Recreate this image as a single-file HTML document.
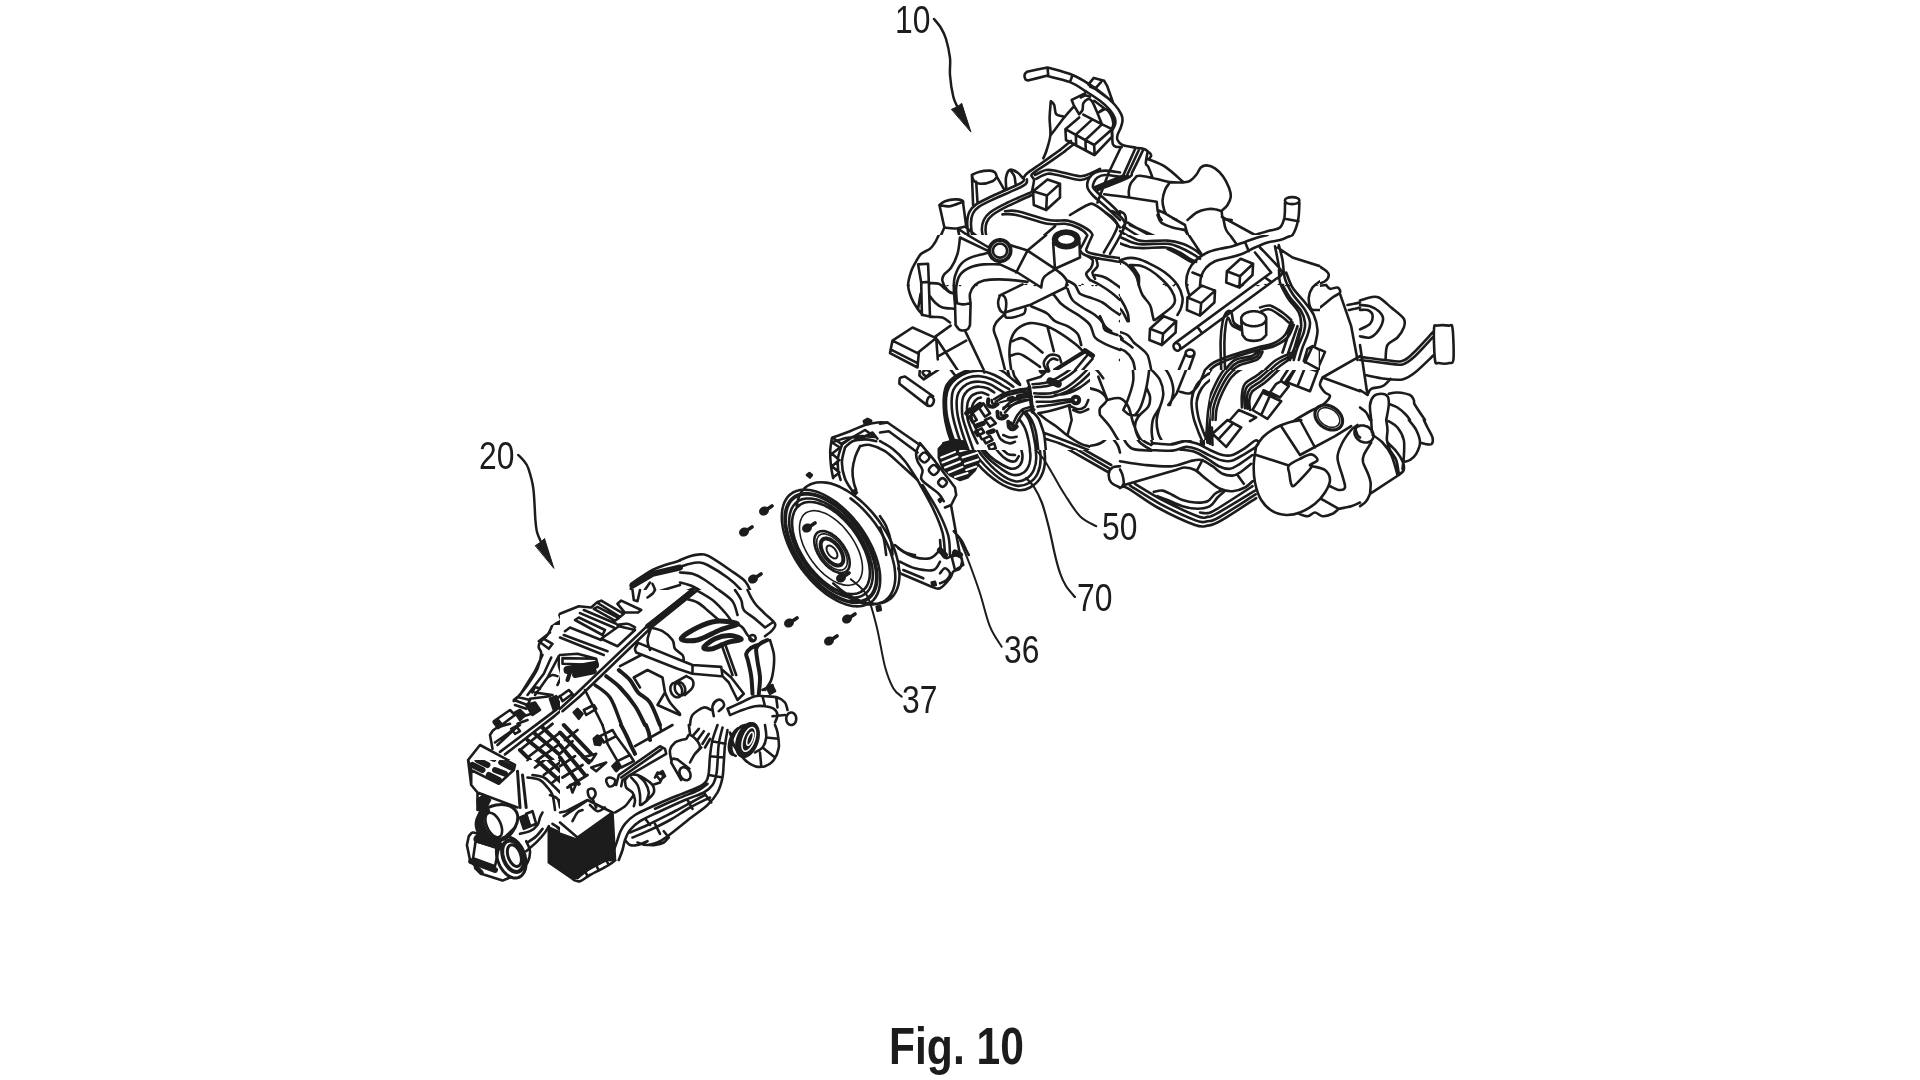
<!DOCTYPE html>
<html><head><meta charset="utf-8"><title>Fig. 10</title>
<style>
html,body{margin:0;padding:0;background:#fff;}
body{width:1920px;height:1080px;overflow:hidden;position:relative;}
svg{position:absolute;left:0;top:0;display:block}
text{font-family:"Liberation Sans",Arial,sans-serif;fill:#1c1c1c}
</style></head><body>
<svg width="1920" height="1080" viewBox="0 0 1920 1080">
<g fill="none" stroke="#1c1c1c" stroke-width="2" stroke-linecap="round" stroke-linejoin="round">
<defs><clipPath id="c3"><path clip-rule="evenodd" d="M0 0H1920V1080H0ZM880 235H1120V285H880Z"/></clipPath><clipPath id="c4"><path clip-rule="evenodd" d="M0 0H1920V1080H0ZM1120 235H1320V285H1120Z"/></clipPath><clipPath id="c5"><path clip-rule="evenodd" d="M0 0H1920V1080H0ZM1090 370H1210V440H1090ZM942 370H1090V450H942ZM880 285H1120V370H880Z"/></clipPath><clipPath id="c6"><path clip-rule="evenodd" d="M0 0H1920V1080H0ZM1090 370H1210V440H1090ZM1120 285H1320V370H1120Z"/></clipPath><clipPath id="c8"><path clip-rule="evenodd" d="M0 0H1920V1080H0ZM1090 370H1210V440H1090ZM942 370H1090V450H942Z"/></clipPath><clipPath id="c9"><path clip-rule="evenodd" d="M0 0H1920V1080H0ZM1090 370H1210V440H1090Z"/></clipPath><clipPath id="c15"><path clip-rule="evenodd" d="M0 0H1920V1080H0ZM440 625H560V760H440ZM560 590H800V725H560Z"/></clipPath><clipPath id="c16"><path clip-rule="evenodd" d="M0 0H1920V1080H0ZM560 590H800V725H560Z"/></clipPath><clipPath id="c17"><path clip-rule="evenodd" d="M0 0H1920V1080H0ZM440 625H560V760H440ZM560 725H800V860H560ZM560 590H800V725H560Z"/></clipPath><clipPath id="c18"><path clip-rule="evenodd" d="M0 0H1920V1080H0ZM560 725H800V860H560ZM560 590H800V725H560Z"/></clipPath><clipPath id="c19"><path clip-rule="evenodd" d="M0 0H1920V1080H0ZM560 725H800V860H560Z"/></clipPath><clipPath id="c20"><path clip-rule="evenodd" d="M0 0H1920V1080H0ZM560 725H800V860H560Z"/></clipPath><clipPath id="c21"><path clip-rule="evenodd" d="M880 235H1120V370H880Z"/></clipPath><clipPath id="c22"><path clip-rule="evenodd" d="M1120 235H1320V370H1120Z"/></clipPath><clipPath id="c25"><path clip-rule="evenodd" d="M440 625H560V760H440Z"/></clipPath><clipPath id="c26"><path clip-rule="evenodd" d="M942 370H1090V450H942Z"/></clipPath><clipPath id="c29"><path clip-rule="evenodd" d="M1090 370H1210V440H1090Z"/></clipPath></defs>
<g>
<path fill="none" stroke="#1c1c1c" stroke-width="2.5" d="M934.0 19.0C935.2 20.5 939.0 24.7 941.0 28.0C943.0 31.3 944.5 34.0 946.0 39.0C947.5 44.0 949.3 52.0 950.0 58.0C950.7 64.0 949.5 68.5 950.0 75.0C950.5 81.5 952.0 91.4 953.3 96.7C954.5 102.0 956.8 105.3 957.5 107.0M518.3 455.0C519.2 456.0 522.3 458.8 524.0 461.0C525.7 463.2 526.8 463.8 528.3 468.3C529.8 472.9 532.1 479.7 533.3 488.3C534.5 496.9 534.8 512.7 535.4 520.0C536.0 527.3 536.1 528.3 537.0 532.0C537.9 535.7 540.3 540.3 541.0 542.0"/>
<path fill="#1c1c1c" stroke="#1c1c1c" stroke-width="1" d="M951.7 109.2L957.5 106.7L961.7 103.3L970.8 131.7ZM535.5 545.5L541.0 542.0L544.5 538.5L553.8 568.0Z"/>
<path fill="none" stroke="#1c1c1c" stroke-width="2.2" d="M1026.0 478.0C1027.3 479.5 1031.3 482.8 1034.0 487.0C1036.7 491.2 1039.5 496.2 1042.0 503.0C1044.5 509.8 1046.8 519.3 1049.0 528.0C1051.2 536.7 1053.2 547.5 1055.0 555.0C1056.8 562.5 1058.2 567.8 1060.0 573.0C1061.8 578.2 1063.5 582.0 1066.0 586.0C1068.5 590.0 1073.5 595.2 1075.0 597.0"/>
</g>
<g>
<path fill="none" stroke="#1c1c1c" stroke-width="2.6" d="M1027.1 71.7C1030.5 71.0 1044.1 68.2 1047.5 67.5C1051.7 68.8 1065.6 72.2 1072.5 75.0C1079.4 77.8 1083.9 80.8 1089.2 84.2C1094.4 87.5 1099.9 91.5 1104.2 95.0C1108.5 98.5 1112.2 101.8 1115.0 105.0C1117.8 108.2 1120.0 111.5 1121.2 114.2C1122.5 116.8 1122.6 118.6 1122.5 120.8C1122.4 123.1 1121.7 125.1 1120.8 127.5C1120.0 129.9 1118.1 132.9 1117.5 135.0C1116.9 137.1 1116.7 138.3 1117.5 140.0C1118.3 141.7 1119.6 143.8 1122.5 145.0C1125.4 146.2 1132.9 147.1 1135.0 147.5M1027.9 80.4C1031.0 79.7 1043.5 76.6 1046.7 75.8C1050.6 76.9 1063.6 79.6 1070.0 82.1C1076.4 84.6 1080.0 87.7 1085.0 90.8C1090.0 94.0 1095.8 97.6 1100.0 100.8C1104.2 104.0 1107.6 107.2 1110.0 110.0C1112.4 112.8 1113.7 115.3 1114.6 117.5C1115.5 119.7 1115.7 121.4 1115.4 123.3C1115.1 125.3 1113.3 128.2 1112.9 129.2M1027.1 71.7C1026.7 72.2 1024.9 73.3 1024.6 74.6C1024.3 75.8 1024.9 78.2 1025.4 79.2C1026.0 80.1 1027.5 80.2 1027.9 80.4M1047.5 67.5L1048.3 75.8M1072.5 75.0L1070.0 82.1M1088.3 84.6L1093.8 77.9L1104.2 80.8L1107.1 85.8L1112.9 102.1M1101.2 81.8L1095.0 88.8L1090.0 86.5M1096.2 89.6L1112.1 101.2M1085.0 93.3C1084.3 93.7 1083.1 94.3 1080.8 95.4C1078.6 96.5 1073.2 99.2 1071.7 100.0M1071.7 100.0L1073.8 105.4L1079.2 114.2M1079.2 114.2C1079.7 113.5 1081.8 111.8 1082.5 110.0C1083.2 108.2 1082.5 105.1 1083.3 103.3C1084.2 101.5 1086.1 99.6 1087.5 99.2C1088.9 98.7 1090.3 99.2 1091.7 100.8C1093.1 102.5 1094.2 105.3 1095.8 109.2C1097.5 113.0 1100.7 121.3 1101.7 123.8M1080.8 97.5C1081.5 97.2 1083.5 95.6 1085.0 95.4C1086.5 95.3 1089.2 96.5 1090.0 96.7M1094.2 100.8L1104.2 108.3L1099.2 112.1M1100.0 111.7C1101.0 111.2 1104.0 108.6 1105.8 109.2C1107.6 109.7 1109.6 112.6 1110.8 115.0C1112.1 117.4 1113.2 121.0 1113.3 123.3C1113.5 125.7 1112.1 128.2 1111.8 129.2M1050.8 101.2C1050.6 104.1 1049.7 112.7 1049.6 118.3C1049.5 124.0 1050.9 129.7 1050.4 135.0C1049.9 140.3 1047.8 146.1 1046.7 150.0C1045.5 153.9 1043.9 156.9 1043.3 158.3M1050.8 101.2C1051.4 101.9 1053.3 102.8 1054.2 105.0C1055.1 107.2 1054.6 112.2 1056.2 114.2C1057.9 116.1 1062.8 116.2 1064.2 116.7M1074.2 106.2C1072.5 108.1 1068.1 112.7 1064.2 117.5C1060.3 122.3 1053.1 132.1 1050.8 135.0M1065.4 129.2L1079.2 117.5M1083.3 114.6L1101.7 124.2L1112.1 129.2L1094.2 145.0L1065.4 129.2L1066.0 140.0L1094.2 155.0M1092.1 119.6L1075.8 134.6L1076.2 145.0M1101.7 124.6L1085.4 140.0L1085.8 150.0M1094.2 145.0L1094.6 155.0M1112.1 129.2L1112.1 136.7L1094.6 155.0"/>
</g>
<g>
<path fill="none" stroke="#1c1c1c" stroke-width="2.6" d="M1135.0 147.9C1136.4 148.1 1141.1 148.1 1143.3 148.8C1145.6 149.4 1147.0 150.6 1148.3 151.7C1149.7 152.7 1151.0 153.9 1151.2 155.0C1151.5 156.1 1149.9 157.8 1149.6 158.3M1111.8 130.0C1111.9 131.4 1112.2 136.0 1112.3 138.3C1112.5 140.7 1112.3 142.8 1112.9 144.2C1113.5 145.6 1114.4 146.2 1115.8 146.7C1117.3 147.2 1120.7 147.0 1121.7 147.1M1120.8 147.5L1109.2 171.7M1135.4 148.3L1123.3 175.4M1139.2 149.2C1137.3 153.2 1130.3 168.8 1127.9 173.3C1125.6 177.9 1130.3 174.2 1125.0 176.7C1119.7 179.2 1100.7 186.4 1095.8 188.3M1142.9 150.4C1141.2 154.0 1134.9 167.2 1132.5 171.7C1130.1 176.2 1134.2 174.4 1128.3 177.5C1122.5 180.6 1102.6 188.1 1097.5 190.2M1123.3 175.4C1122.4 175.8 1122.4 175.9 1117.5 177.9C1112.6 179.9 1098.1 185.9 1094.2 187.5M1147.5 152.5C1147.2 154.3 1145.7 161.0 1145.8 163.3C1146.0 165.7 1147.2 164.3 1148.3 166.7C1149.4 169.0 1151.8 175.7 1152.5 177.5M1148.3 159.2C1151.1 160.4 1159.2 162.8 1165.0 166.7C1170.8 170.5 1180.3 179.5 1183.3 182.1M1136.7 176.2C1137.2 176.2 1137.4 175.6 1140.0 175.8C1142.6 176.1 1147.5 176.9 1152.5 177.9C1157.5 179.0 1164.9 181.3 1170.0 182.1C1175.1 182.8 1181.1 182.4 1183.3 182.5M1136.7 176.2C1135.7 177.4 1132.2 180.9 1130.8 183.3C1129.5 185.8 1129.0 188.5 1128.8 190.8C1128.5 193.2 1129.1 196.4 1129.2 197.5M1104.2 194.2C1108.3 194.7 1120.4 196.2 1129.2 197.5C1137.9 198.8 1152.1 201.0 1156.7 201.7M1156.7 201.7L1157.5 210.0L1159.2 216.7L1161.7 220.0M1157.5 210.0C1158.8 210.6 1162.4 211.9 1165.0 213.3C1167.6 214.7 1171.4 217.2 1173.3 218.3C1175.3 219.4 1176.1 219.7 1176.7 220.0M1170.0 182.1C1169.2 183.4 1166.2 186.9 1165.0 190.0C1163.8 193.1 1162.6 197.5 1162.5 200.8C1162.4 204.2 1163.6 207.9 1164.2 210.0C1164.7 212.1 1165.6 212.8 1165.8 213.3M1183.3 182.5C1184.4 182.2 1187.8 182.2 1190.0 180.8C1192.2 179.4 1194.9 176.4 1196.7 174.2C1198.5 171.9 1199.2 169.0 1200.8 167.5C1202.5 166.0 1204.3 165.3 1206.7 165.4C1209.0 165.6 1212.2 166.5 1215.0 168.3C1217.8 170.2 1221.0 173.3 1223.3 176.7C1225.7 180.0 1227.9 185.0 1229.2 188.3C1230.4 191.7 1231.1 193.9 1230.8 196.7C1230.6 199.4 1229.0 202.6 1227.5 205.0C1226.0 207.4 1222.6 209.9 1221.7 210.8M1187.5 220.0C1189.0 218.8 1193.5 214.3 1196.7 212.5C1199.9 210.7 1203.6 209.7 1206.7 209.2C1209.7 208.6 1212.5 208.8 1215.0 209.2C1217.5 209.5 1220.6 210.9 1221.7 211.2M1221.7 211.2C1221.9 212.4 1221.7 216.9 1223.3 218.3C1225.0 219.8 1230.3 219.7 1231.7 220.0"/>
</g>
<g clip-path="url(#c3)">
<path fill="none" stroke="#1c1c1c" stroke-width="2.6" d="M1060.0 150.0C1057.1 152.1 1047.9 158.6 1042.5 162.5C1037.1 166.4 1030.6 170.6 1027.5 173.1C1024.4 175.6 1024.8 175.9 1023.8 177.5C1022.7 179.1 1026.5 179.7 1021.2 182.8C1016.0 185.8 1000.0 192.4 992.5 196.0C985.0 199.6 980.1 201.7 976.2 204.4C972.4 207.0 970.9 208.9 969.4 211.9C967.9 214.9 967.4 218.5 967.2 222.5C967.1 226.5 968.3 233.4 968.5 235.6M1065.0 151.2C1061.9 153.4 1051.8 160.5 1046.2 164.4C1040.7 168.2 1033.9 171.8 1031.9 174.4C1029.8 177.0 1034.0 177.1 1034.0 180.0C1034.0 182.9 1032.2 189.9 1031.9 191.9M1026.9 179.4C1026.3 180.4 1029.0 182.4 1023.5 185.6C1018.0 188.9 1001.5 195.5 994.0 199.0C986.5 202.5 982.3 204.4 978.8 206.9C975.2 209.3 974.0 211.0 972.8 213.8C971.5 216.5 971.1 219.4 971.0 223.1C970.9 226.9 972.0 234.1 972.2 236.2M1031.9 191.9C1027.4 193.9 1012.0 200.3 1005.0 203.8C998.0 207.2 993.5 209.8 990.0 212.5C986.5 215.2 985.1 217.1 983.8 220.0C982.4 222.9 981.8 226.1 981.9 230.0C982.0 233.9 984.0 240.9 984.4 243.1M1031.9 195.0C1027.6 197.0 1012.8 203.5 1006.2 206.9C999.7 210.2 995.7 212.5 992.5 215.0C989.3 217.5 988.0 219.2 986.9 221.9C985.7 224.6 985.4 227.7 985.6 231.2C985.8 234.8 987.7 241.1 988.1 243.1M971.9 175.0C973.0 174.5 975.7 172.6 978.8 171.9C981.8 171.1 987.3 170.5 990.0 170.6C992.7 170.7 993.9 171.5 995.0 172.5C996.1 173.5 996.6 176.1 996.9 176.9M971.9 175.0C972.2 175.9 972.4 179.2 973.8 180.6C975.1 182.1 976.9 183.6 980.0 183.8C983.1 183.9 989.7 182.4 992.5 181.2C995.3 180.1 996.1 177.6 996.9 176.9M971.9 175.0L973.1 205.0M976.2 181.9L977.5 202.5M996.9 176.9L1003.8 188.8M1006.2 188.1C1006.2 186.4 1005.4 180.6 1006.0 177.5C1006.6 174.4 1008.1 170.6 1010.0 169.8C1011.9 168.9 1015.4 171.2 1017.5 172.5C1019.6 173.8 1021.7 176.9 1022.5 177.8M1010.6 170.6C1011.2 171.6 1013.5 174.0 1014.4 176.2C1015.2 178.5 1015.4 183.0 1015.6 184.4M939.4 205.0C940.3 204.4 942.4 202.2 945.0 201.2C947.6 200.3 952.1 199.5 955.0 199.4C957.9 199.3 961.1 199.9 962.5 200.6C963.9 201.4 963.0 203.2 963.1 203.8M941.2 205.6C942.7 205.7 946.7 206.8 950.0 206.2C953.3 205.7 959.4 203.1 961.2 202.5M939.4 205.0L944.4 227.5M963.1 203.1L966.2 226.2M944.4 227.5C946.1 227.7 951.4 228.7 955.0 228.5C958.6 228.3 964.4 226.6 966.2 226.2M944.4 227.5C942.8 230.6 938.6 241.9 935.0 246.2C931.4 250.6 926.0 250.6 922.5 253.8C919.0 256.9 916.0 259.8 913.8 265.0C911.5 270.2 909.6 281.7 908.8 285.0M958.1 230.0C958.4 232.5 960.9 239.6 960.0 245.0C959.1 250.4 955.0 257.5 952.5 262.5C950.0 267.5 945.8 271.2 945.0 275.0C944.2 278.8 947.1 283.3 947.5 285.0M960.0 230.0L988.8 250.0M966.2 227.5L987.5 245.0M1000.0 240.0C1002.7 240.0 1006.1 241.4 1008.0 243.2C1009.9 245.1 1011.2 248.6 1011.2 251.2C1011.2 253.9 1009.9 257.4 1008.0 259.2C1006.1 261.1 1002.7 262.5 1000.0 262.5C997.3 262.5 993.9 261.1 992.0 259.2C990.1 257.4 988.8 253.9 988.8 251.2C988.8 248.6 990.1 245.1 992.0 243.2C993.9 241.4 997.3 240.0 1000.0 240.0ZM1000.0 241.2C1002.4 241.2 1005.5 242.5 1007.1 244.1C1008.8 245.8 1010.0 248.9 1010.0 251.2C1010.0 253.6 1008.8 256.7 1007.1 258.4C1005.5 260.0 1002.4 261.2 1000.0 261.2C997.6 261.2 994.5 260.0 992.9 258.4C991.2 256.7 990.0 253.6 990.0 251.2C990.0 248.9 991.2 245.8 992.9 244.1C994.5 242.5 997.6 241.2 1000.0 241.2ZM1000.0 244.0C1001.7 244.0 1003.9 244.9 1005.1 246.1C1006.3 247.3 1007.2 249.5 1007.2 251.2C1007.2 253.0 1006.3 255.2 1005.1 256.4C1003.9 257.6 1001.7 258.5 1000.0 258.5C998.3 258.5 996.1 257.6 994.9 256.4C993.7 255.2 992.8 253.0 992.8 251.2C992.8 249.5 993.7 247.3 994.9 246.1C996.1 244.9 998.3 244.0 1000.0 244.0ZM1066.2 230.6C1069.4 230.6 1073.4 231.7 1075.6 233.1C1077.8 234.6 1079.4 237.3 1079.4 239.4C1079.4 241.5 1077.8 244.2 1075.6 245.6C1073.4 247.1 1069.4 248.1 1066.2 248.1C1063.1 248.1 1059.1 247.1 1056.9 245.6C1054.7 244.2 1053.1 241.5 1053.1 239.4C1053.1 237.3 1054.7 234.6 1056.9 233.1C1059.1 231.7 1063.1 230.6 1066.2 230.6ZM1066.2 231.9C1069.0 231.9 1072.4 232.8 1074.4 234.0C1076.3 235.2 1077.9 237.6 1077.9 239.4C1077.9 241.2 1076.3 243.5 1074.4 244.8C1072.4 246.0 1069.0 246.9 1066.2 246.9C1063.5 246.9 1060.1 246.0 1058.1 244.8C1056.2 243.5 1054.6 241.2 1054.6 239.4C1054.6 237.6 1056.2 235.2 1058.1 234.0C1060.1 232.8 1063.5 231.9 1066.2 231.9ZM1066.2 234.0C1068.3 234.0 1071.0 234.7 1072.5 235.6C1074.0 236.5 1075.4 238.1 1075.4 239.4C1075.4 240.7 1074.0 242.6 1072.5 243.5C1071.0 244.4 1068.3 245.0 1066.2 245.0C1064.2 245.0 1061.5 244.4 1060.0 243.5C1058.5 242.6 1057.1 240.7 1057.1 239.4C1057.1 238.1 1058.5 236.5 1060.0 235.6C1061.5 234.7 1064.2 234.0 1066.2 234.0ZM1053.1 242.5L1055.0 260.0M1079.4 241.2L1080.0 253.8M1033.1 191.2L1047.5 179.4L1060.0 183.8L1046.9 195.6ZM1033.1 191.2L1033.8 205.0L1046.2 210.0L1046.9 195.6M1060.0 183.8L1060.0 197.5L1046.2 210.0M1005.0 211.2C1007.1 211.2 1010.2 209.8 1017.5 211.2C1024.8 212.7 1040.4 218.4 1048.8 220.0C1057.1 221.6 1062.3 219.8 1067.5 220.6C1072.7 221.5 1076.0 223.0 1080.0 225.0C1084.0 227.0 1089.2 230.0 1091.2 232.5C1093.3 235.0 1093.3 237.3 1092.5 240.0C1091.7 242.7 1087.5 246.7 1086.2 248.8C1085.0 250.8 1084.0 251.2 1085.0 252.5C1086.0 253.8 1086.7 254.9 1092.5 256.2C1098.3 257.6 1115.4 259.9 1120.0 260.6M1002.5 214.4C1004.8 214.5 1008.8 213.4 1016.2 215.0C1023.8 216.6 1039.4 222.3 1047.5 223.8C1055.6 225.2 1060.0 223.1 1065.0 223.8C1070.0 224.4 1074.0 225.8 1077.5 227.5C1081.0 229.2 1084.6 231.7 1086.2 233.8C1087.9 235.8 1088.3 237.5 1087.5 240.0C1086.7 242.5 1082.3 246.5 1081.2 248.8C1080.2 251.0 1079.8 252.1 1081.2 253.8C1082.7 255.4 1083.5 257.1 1090.0 258.8C1096.5 260.4 1115.0 262.9 1120.0 263.8M1070.0 215.0C1072.9 213.3 1083.3 206.7 1087.5 205.0C1091.7 203.3 1091.0 202.9 1095.0 205.0C1099.0 207.1 1107.1 213.8 1111.2 217.5C1115.4 221.2 1118.5 225.8 1120.0 227.5M1097.5 202.5L1108.8 172.5M1120.0 172.5C1117.5 172.2 1109.2 170.6 1105.0 170.6C1100.8 170.6 1097.7 171.1 1095.0 172.5C1092.3 173.9 1090.0 176.2 1088.8 178.8C1087.5 181.2 1086.9 184.8 1087.5 187.5C1088.1 190.2 1089.6 191.9 1092.5 195.0C1095.4 198.1 1100.4 202.1 1105.0 206.2C1109.6 210.4 1117.5 217.7 1120.0 220.0M1120.0 176.9C1117.5 176.6 1108.8 174.9 1105.0 175.0C1101.2 175.1 1099.4 176.2 1097.5 177.5C1095.6 178.8 1094.5 180.8 1093.8 182.5C1093.0 184.2 1092.5 185.8 1093.1 187.5C1093.8 189.2 1094.7 189.8 1097.5 192.5C1100.3 195.2 1106.2 200.2 1110.0 203.8C1113.8 207.3 1118.3 212.1 1120.0 213.8M1035.0 175.0C1036.9 174.2 1042.5 170.6 1046.2 170.0C1050.0 169.4 1051.9 170.2 1057.5 171.2C1063.1 172.3 1074.2 176.0 1080.0 176.2C1085.8 176.5 1089.2 173.8 1092.5 172.5C1095.8 171.2 1098.8 169.4 1100.0 168.8M1036.2 178.8C1038.1 177.9 1044.0 174.4 1047.5 173.8C1051.0 173.1 1052.1 174.0 1057.5 175.0C1062.9 176.0 1074.6 179.7 1080.0 180.0C1085.4 180.3 1088.3 177.4 1090.0 176.9M953.8 285.0C954.4 282.5 954.8 274.2 957.5 270.0C960.2 265.8 965.0 262.7 970.0 260.0C975.0 257.3 984.6 254.8 987.5 253.8M960.0 285.0C961.2 282.9 964.2 275.8 967.5 272.5C970.8 269.2 974.8 266.6 980.0 265.0C985.2 263.4 995.6 263.4 998.8 263.1M976.2 285.0C977.5 284.3 979.0 281.5 983.8 280.6C988.5 279.8 997.7 279.7 1005.0 280.0C1012.3 280.3 1023.8 282.1 1027.5 282.5M998.8 263.1C1001.9 264.6 1011.5 268.2 1017.5 271.9C1023.5 275.5 1032.1 282.8 1035.0 285.0M1007.5 242.5L1027.5 250.0L1055.0 270.0L1080.0 285.0M1027.5 249.4L1055.0 226.2M1027.5 250.0L1017.5 271.9M1055.0 270.0L1080.0 256.2M1055.0 270.0C1052.9 271.2 1044.8 275.0 1042.5 277.5C1040.2 280.0 1041.5 283.8 1041.2 285.0M1055.0 270.0C1056.7 270.8 1062.9 272.5 1065.0 275.0C1067.1 277.5 1067.1 283.3 1067.5 285.0M1092.5 260.0C1091.7 261.7 1087.9 266.7 1087.5 270.0C1087.1 273.3 1089.2 277.5 1090.0 280.0C1090.8 282.5 1092.1 284.2 1092.5 285.0M1096.2 261.2C1095.6 262.7 1092.9 267.1 1092.5 270.0C1092.1 272.9 1093.4 276.2 1094.0 278.8C1094.6 281.2 1095.9 284.0 1096.2 285.0M918.8 265.0L928.8 263.8L930.0 281.2L921.2 282.5ZM917.5 265.6L920.0 283.1M916.2 265.0C915.2 266.7 911.4 271.7 910.0 275.0C908.6 278.3 908.4 283.3 908.1 285.0"/>
</g>
<g clip-path="url(#c4)">
<path fill="none" stroke="#1c1c1c" stroke-width="2.6" d="M1223.4 218.4C1223.9 220.3 1224.1 225.9 1226.2 230.0C1228.4 234.1 1234.6 240.9 1236.2 243.1M1221.9 216.9L1255.0 235.0M1185.0 225.0C1185.5 226.7 1186.5 231.7 1188.1 235.0C1189.8 238.3 1192.8 241.9 1195.0 245.0C1197.2 248.1 1200.2 252.3 1201.2 253.8M1285.0 202.5C1284.9 205.0 1285.2 213.3 1284.4 217.5C1283.5 221.7 1282.4 225.3 1280.0 227.5C1277.6 229.7 1274.2 229.4 1270.0 230.6C1265.8 231.9 1259.2 233.1 1255.0 235.0C1250.8 236.9 1249.2 240.0 1245.0 241.9C1240.8 243.8 1235.0 245.1 1230.0 246.2C1225.0 247.4 1219.8 247.5 1215.0 248.8C1210.2 250.0 1204.8 251.7 1201.2 253.8C1197.7 255.8 1195.8 258.1 1193.8 261.2C1191.7 264.4 1189.8 268.5 1188.8 272.5C1187.7 276.5 1187.7 282.9 1187.5 285.0M1299.4 202.5C1299.2 205.4 1299.3 214.6 1298.1 220.0C1297.0 225.4 1295.1 231.5 1292.5 235.0C1289.9 238.5 1286.2 239.8 1282.5 241.2C1278.8 242.7 1275.2 242.3 1270.0 243.8C1264.8 245.2 1257.5 247.9 1251.2 250.0C1245.0 252.1 1238.1 254.8 1232.5 256.2C1226.9 257.7 1221.7 257.3 1217.5 258.8C1213.3 260.2 1210.2 262.3 1207.5 265.0C1204.8 267.7 1202.5 271.7 1201.2 275.0C1200.0 278.3 1200.2 283.3 1200.0 285.0M1245.0 241.9L1250.0 251.2M1192.5 270.0L1201.2 273.1M1292.1 197.1C1293.9 197.1 1296.3 197.5 1297.5 198.1C1298.7 198.7 1299.4 199.8 1299.4 200.6C1299.4 201.5 1298.7 202.5 1297.5 203.1C1296.3 203.7 1293.9 204.1 1292.1 204.1C1290.3 204.1 1288.0 203.7 1286.8 203.1C1285.5 202.5 1284.9 201.5 1284.9 200.6C1284.9 199.8 1285.5 198.7 1286.8 198.1C1288.0 197.5 1290.3 197.1 1292.1 197.1ZM1284.8 218.8L1298.5 221.2M1173.4 218.4L1185.0 225.0M1157.5 215.0C1158.1 216.2 1158.8 220.4 1161.2 222.5C1163.8 224.6 1168.5 226.2 1172.5 227.5C1176.5 228.8 1182.9 229.6 1185.0 230.0M1185.0 230.0L1197.5 251.2M1127.5 222.5C1132.1 225.0 1147.3 234.8 1155.0 237.5C1162.7 240.2 1168.3 237.9 1173.8 238.8C1179.2 239.6 1183.8 241.0 1187.5 242.5C1191.2 244.0 1194.8 246.7 1196.2 247.5M1125.0 227.5C1128.3 229.4 1137.1 236.4 1145.0 238.8C1152.9 241.1 1165.6 240.6 1172.5 241.9C1179.4 243.1 1182.1 244.3 1186.2 246.2C1190.4 248.2 1195.6 252.5 1197.5 253.8M1120.0 231.2C1123.8 233.2 1134.2 240.8 1142.5 243.1C1150.8 245.4 1162.9 243.9 1170.0 245.0C1177.1 246.1 1180.6 247.9 1185.0 250.0C1189.4 252.1 1194.4 256.2 1196.2 257.5M1120.0 237.5C1123.5 239.2 1133.1 245.6 1141.2 247.5C1149.4 249.4 1161.9 247.7 1168.8 248.8C1175.6 249.8 1178.3 251.9 1182.5 253.8C1186.7 255.6 1191.9 259.0 1193.8 260.0M1167.5 250.0L1192.5 262.5M1130.0 225.0L1155.0 236.2M1120.0 211.2C1120.8 211.9 1124.1 213.1 1125.0 215.0C1125.9 216.9 1126.0 220.4 1125.6 222.5C1125.2 224.6 1123.0 226.7 1122.5 227.5M1120.0 260.0C1122.1 259.7 1128.3 257.9 1132.5 258.1C1136.7 258.3 1140.4 259.3 1145.0 261.2C1149.6 263.2 1155.2 266.0 1160.0 270.0C1164.8 274.0 1171.5 282.5 1173.8 285.0M1127.5 262.5C1130.4 263.1 1140.0 264.2 1145.0 266.2C1150.0 268.3 1154.0 271.9 1157.5 275.0C1161.0 278.1 1164.8 283.3 1166.2 285.0M1132.5 267.5C1133.3 269.6 1136.5 277.1 1137.5 280.0C1138.5 282.9 1138.5 284.2 1138.8 285.0M1226.2 270.0L1240.0 260.0L1253.1 264.4L1240.0 275.0ZM1226.2 270.0L1227.5 282.5L1238.8 286.2M1240.0 275.0L1240.0 285.0M1253.1 264.4L1253.8 275.0L1242.5 285.0M1250.0 251.2L1271.9 270.6L1265.0 281.2L1257.5 285.0M1257.5 248.8L1277.5 266.2L1281.2 275.0M1271.9 245.0L1282.5 275.0L1286.2 285.0M1276.2 247.5L1288.8 285.0M1276.2 247.5C1279.4 249.0 1288.8 253.5 1295.0 256.2C1301.2 259.0 1308.8 261.5 1313.8 263.8C1318.8 266.0 1322.5 268.1 1325.0 270.0C1327.5 271.9 1328.8 273.1 1328.8 275.0C1328.8 276.9 1327.3 279.6 1325.0 281.2C1322.7 282.9 1316.7 284.4 1315.0 285.0"/>
</g>
<g clip-path="url(#c5)">
<path fill="none" stroke="#1c1c1c" stroke-width="2.6" d="M908.1 285.0C908.3 286.7 908.0 291.2 909.4 295.0C910.7 298.8 913.4 304.0 916.2 307.5C919.1 311.0 922.9 314.6 926.2 316.2C929.6 317.9 933.1 317.2 936.2 317.5C939.4 317.8 941.9 317.2 945.0 318.1C948.1 319.1 953.3 322.3 955.0 323.1M921.2 285.0L923.1 314.4M929.4 285.0L930.6 315.6M931.2 292.5C931.9 294.4 932.7 301.0 935.0 303.8C937.3 306.5 941.7 307.7 945.0 308.8C948.3 309.8 953.3 309.8 955.0 310.0M942.5 285.0C943.5 285.6 947.1 287.5 948.8 288.8C950.4 290.0 951.5 291.0 952.5 292.5C953.5 294.0 954.6 296.7 955.0 297.5M955.0 297.5L955.0 323.8M970.0 303.8L970.0 323.8M955.0 303.8C956.2 303.4 960.0 301.9 962.5 301.9C965.0 301.9 968.8 303.4 970.0 303.8M955.0 323.8C955.8 324.6 957.9 327.9 960.0 328.8C962.1 329.6 965.8 329.6 967.5 328.8C969.2 327.9 969.6 324.6 970.0 323.8M976.2 285.0C975.4 286.2 972.3 289.4 971.2 292.5C970.2 295.6 970.2 301.9 970.0 303.8M892.5 340.0L912.5 326.9L936.2 337.5L917.5 352.5ZM892.5 340.0L890.0 353.1L917.5 366.9L918.8 352.5M936.2 337.5L937.8 358.8M890.6 348.8L917.5 362.5M917.5 366.9L921.2 362.5L937.8 350.0M920.0 367.5L928.1 361.9L938.1 370.0L923.8 379.4L919.4 375.6ZM922.5 372.5C922.5 371.5 925.0 370.0 926.2 370.0C927.5 370.0 930.0 371.5 930.0 372.5C930.0 373.5 927.5 376.2 926.2 376.2C925.0 376.2 922.5 373.5 922.5 372.5ZM905.0 376.5L933.1 396.2M899.4 383.8L927.5 405.6M905.0 376.5C904.2 376.8 900.9 376.9 900.0 378.1C899.1 379.3 899.5 382.8 899.4 383.8M930.6 396.2C931.6 396.5 933.4 398.0 933.8 399.4C934.1 400.7 933.3 403.3 932.5 404.4C931.7 405.5 929.7 406.3 928.8 406.0C927.8 405.7 927.0 403.8 926.9 402.5C926.8 401.2 927.5 399.2 928.1 398.1C928.8 397.1 929.7 396.0 930.6 396.2ZM935.0 336.2L950.6 325.0M939.4 355.0L966.2 340.0M937.5 340.0L957.5 376.2M965.0 330.0L983.8 371.2M957.5 376.2C959.2 375.4 963.1 372.1 967.5 371.2C971.9 370.4 978.5 370.6 983.8 371.2C989.0 371.9 994.0 373.3 998.8 375.0C1003.5 376.7 1010.2 380.2 1012.5 381.2M998.8 295.6L1026.2 285.0M1005.0 311.9L1031.2 303.8L1067.5 289.4M1000.6 295.0C1001.8 294.4 1004.2 297.1 1005.0 298.8C1005.8 300.4 1005.8 302.8 1005.6 305.0C1005.4 307.2 1004.7 311.1 1003.8 311.9C1002.8 312.6 1000.9 310.9 1000.0 309.4C999.1 307.8 998.0 304.9 998.1 302.5C998.2 300.1 999.5 295.6 1000.6 295.0ZM1005.0 311.9C1005.2 312.8 1004.6 316.8 1006.2 317.5C1007.9 318.2 1012.1 317.1 1015.0 316.2C1017.9 315.4 1021.9 314.0 1023.8 312.5C1025.6 311.0 1025.8 308.3 1026.2 307.5M1005.0 313.8C1003.8 315.0 999.2 318.8 997.5 321.2C995.8 323.8 994.8 325.8 995.0 328.8C995.2 331.7 997.5 334.6 998.8 338.8C1000.0 342.9 1001.2 348.5 1002.5 353.8C1003.8 359.0 1005.6 367.3 1006.2 370.0M1031.2 305.6C1032.7 306.4 1037.1 308.6 1040.0 310.0C1042.9 311.4 1046.2 311.9 1048.8 313.8C1051.2 315.6 1051.9 319.2 1055.0 321.2C1058.1 323.3 1063.8 324.4 1067.5 326.2C1071.2 328.1 1075.0 329.4 1077.5 332.5C1080.0 335.6 1081.2 342.1 1082.5 345.0C1083.8 347.9 1084.6 349.2 1085.0 350.0M1052.5 292.5C1054.0 294.0 1058.3 298.5 1061.2 301.2C1064.2 304.0 1066.9 306.5 1070.0 308.8C1073.1 311.0 1076.7 312.3 1080.0 315.0C1083.3 317.7 1087.5 321.2 1090.0 325.0C1092.5 328.8 1092.5 334.4 1095.0 337.5C1097.5 340.6 1100.8 341.7 1105.0 343.8C1109.2 345.8 1117.5 349.0 1120.0 350.0M1067.5 285.0C1068.8 287.1 1071.9 294.0 1075.0 297.5C1078.1 301.0 1082.1 302.9 1086.2 306.2C1090.4 309.6 1096.9 314.2 1100.0 317.5C1103.1 320.8 1102.1 323.8 1105.0 326.2C1107.9 328.8 1115.4 331.5 1117.5 332.5M1082.5 285.0C1083.8 286.2 1086.7 290.4 1090.0 292.5C1093.3 294.6 1099.0 295.2 1102.5 297.5C1106.0 299.8 1108.3 303.5 1111.2 306.2C1114.2 309.0 1118.5 312.5 1120.0 313.8M1011.2 372.5C1010.8 369.4 1008.8 359.6 1008.8 353.8C1008.8 347.9 1009.8 341.9 1011.2 337.5C1012.7 333.1 1014.4 330.0 1017.5 327.5C1020.6 325.0 1025.4 322.9 1030.0 322.5C1034.6 322.1 1040.0 323.3 1045.0 325.0C1050.0 326.7 1055.0 329.4 1060.0 332.5C1065.0 335.6 1071.2 340.8 1075.0 343.8C1078.8 346.7 1081.2 349.0 1082.5 350.0M1012.5 340.0C1014.0 339.6 1018.3 337.1 1021.2 337.5C1024.2 337.9 1026.5 340.0 1030.0 342.5C1033.5 345.0 1040.4 350.8 1042.5 352.5M1011.2 355.0C1012.5 354.7 1016.0 352.7 1018.8 353.1C1021.5 353.5 1024.0 355.3 1027.5 357.5C1031.0 359.7 1037.9 364.8 1040.0 366.2M1047.5 326.2L1053.8 351.2M1011.2 372.5L1016.2 382.5M947.5 420.0C947.3 416.2 945.0 404.4 946.2 397.5C947.5 390.6 951.0 383.1 955.0 378.8C959.0 374.4 964.8 372.3 970.0 371.2C975.2 370.2 980.4 371.0 986.2 372.5C992.1 374.0 1000.2 377.9 1005.0 380.0C1009.8 382.1 1013.3 384.2 1015.0 385.0M951.9 420.0C951.8 416.7 949.9 406.0 951.2 400.0C952.6 394.0 956.5 387.5 960.0 383.8C963.5 380.0 967.9 378.3 972.5 377.5C977.1 376.7 982.9 377.5 987.5 378.8C992.1 380.0 997.9 384.0 1000.0 385.0M956.2 420.0C956.2 417.1 955.0 407.7 956.2 402.5C957.5 397.3 960.6 391.9 963.8 388.8C966.9 385.6 971.0 384.4 975.0 383.8C979.0 383.1 984.2 384.0 987.5 385.0C990.8 386.0 993.8 389.2 995.0 390.0M961.2 420.0C961.2 417.3 960.2 408.1 961.2 403.8C962.3 399.4 964.8 396.0 967.5 393.8C970.2 391.5 974.4 390.4 977.5 390.0C980.6 389.6 984.8 391.0 986.2 391.2M966.2 420.0C966.5 417.5 966.5 408.8 967.5 405.0C968.5 401.2 970.4 399.2 972.5 397.5C974.6 395.8 978.8 395.4 980.0 395.0M1108.8 420.0C1109.2 416.7 1109.4 405.0 1111.2 400.0C1113.1 395.0 1118.5 391.7 1120.0 390.0M1102.5 382.5L1108.8 397.5M1086.2 391.2C1087.3 392.3 1091.9 395.2 1092.5 397.5C1093.1 399.8 1092.1 403.3 1090.0 405.0C1087.9 406.7 1081.7 407.1 1080.0 407.5M1090.0 405.0L1100.0 413.8M1070.0 410.0L1072.5 420.0M995.0 397.5C996.7 396.7 1001.2 393.8 1005.0 392.5C1008.8 391.2 1013.3 390.8 1017.5 390.0C1021.7 389.2 1027.9 387.9 1030.0 387.5M1000.0 402.5C1001.9 401.7 1007.3 398.8 1011.2 397.5C1015.2 396.2 1020.2 395.6 1023.8 395.0C1027.3 394.4 1031.0 394.0 1032.5 393.8M1005.0 408.8C1006.7 407.9 1011.2 405.2 1015.0 403.8C1018.8 402.3 1024.4 400.8 1027.5 400.0C1030.6 399.2 1032.7 399.0 1033.8 398.8M1017.5 420.0C1018.1 418.3 1019.2 412.5 1021.2 410.0C1023.3 407.5 1027.3 406.0 1030.0 405.0C1032.7 404.0 1036.2 404.0 1037.5 403.8M1032.5 386.2C1036.2 386.7 1048.1 389.2 1055.0 388.8C1061.9 388.3 1068.5 386.5 1073.8 383.8C1079.0 381.0 1084.2 374.4 1086.2 372.5M1032.5 391.2C1036.2 391.7 1047.9 394.0 1055.0 393.8C1062.1 393.5 1068.8 392.7 1075.0 390.0C1081.2 387.3 1089.6 379.6 1092.5 377.5M1033.8 397.5C1037.3 397.5 1048.5 397.7 1055.0 397.5C1061.5 397.3 1068.3 396.9 1072.5 396.2C1076.7 395.6 1078.8 394.2 1080.0 393.8M1035.0 403.8C1038.3 403.5 1048.5 403.3 1055.0 402.5C1061.5 401.7 1070.6 399.4 1073.8 398.8M1030.0 382.5L1031.2 405.0M1035.0 382.5L1036.2 405.0M1086.2 351.2C1083.1 353.1 1073.8 358.5 1067.5 362.5C1061.2 366.5 1055.0 371.7 1048.8 375.0C1042.5 378.3 1033.1 381.2 1030.0 382.5M1090.0 355.0C1087.5 357.9 1080.8 367.7 1075.0 372.5C1069.2 377.3 1062.1 381.5 1055.0 383.8C1047.9 386.0 1036.2 385.8 1032.5 386.2M1092.5 360.0C1090.4 362.5 1085.2 370.6 1080.0 375.0C1074.8 379.4 1067.5 384.0 1061.2 386.2C1055.0 388.5 1045.6 388.3 1042.5 388.8M1097.5 362.5C1095.6 365.4 1091.2 375.4 1086.2 380.0C1081.2 384.6 1073.8 387.9 1067.5 390.0C1061.2 392.1 1051.9 392.1 1048.8 392.5M1046.2 372.5C1045.8 370.8 1043.1 365.4 1043.8 362.5C1044.4 359.6 1047.5 356.0 1050.0 355.0C1052.5 354.0 1056.9 355.0 1058.8 356.2C1060.6 357.5 1060.8 361.5 1061.2 362.5M1048.8 372.5C1048.5 371.0 1046.9 366.0 1047.5 363.8C1048.1 361.5 1050.8 359.4 1052.5 358.8C1054.2 358.1 1056.7 359.8 1057.5 360.0"/>
<path fill="none" stroke="#1c1c1c" stroke-width="4" d="M1027.5 381.2L1085.0 350.0"/>
<path fill="none" stroke="#1c1c1c" stroke-width="5" d="M1085.0 350.0L1092.5 355.0M1100.0 362.5C1101.2 363.1 1106.2 364.2 1107.5 366.2C1108.8 368.3 1108.8 373.5 1107.5 375.0C1106.2 376.5 1101.2 375.0 1100.0 375.0M970.0 405.0C971.2 405.8 975.4 407.5 977.5 410.0C979.6 412.5 981.7 418.3 982.5 420.0M990.0 397.5C990.4 398.5 990.8 402.5 992.5 403.8C994.2 405.0 998.8 404.8 1000.0 405.0"/>
<path fill="none" stroke="#1c1c1c" stroke-width="6" d="M1052.5 381.2C1053.3 381.7 1056.5 383.1 1057.5 383.8C1058.5 384.4 1058.5 384.8 1058.8 385.0M975.0 397.5C976.2 397.9 979.6 398.8 982.5 400.0C985.4 401.2 989.6 402.5 992.5 405.0C995.4 407.5 998.8 413.3 1000.0 415.0"/>
</g>
<g clip-path="url(#c6)">
<path fill="none" stroke="#1c1c1c" stroke-width="2.6" d="M1188.1 298.8L1202.5 287.5L1215.6 291.9L1201.2 303.8ZM1188.1 298.8L1187.5 311.2L1200.0 316.2L1201.2 303.8M1215.6 291.9L1215.0 302.5L1200.0 316.2M1150.0 327.5L1163.8 315.0L1176.2 320.0L1163.1 333.1ZM1150.0 327.5L1149.4 338.8L1162.5 344.4L1163.1 333.1M1176.2 320.0L1175.6 330.6L1162.5 344.4M1175.6 343.5L1265.6 285.0M1181.2 349.4L1275.0 286.9M1177.2 343.1C1178.2 343.0 1179.5 344.2 1180.0 345.0C1180.5 345.8 1180.7 347.2 1180.4 348.1C1180.1 349.1 1179.0 350.4 1178.1 350.6C1177.2 350.8 1175.7 350.2 1175.0 349.4C1174.3 348.5 1173.8 346.7 1174.1 345.6C1174.5 344.6 1176.3 343.2 1177.2 343.1ZM1196.9 329.4L1201.2 334.4M1190.6 349.6C1192.0 349.6 1194.1 350.4 1194.8 351.2C1195.4 352.1 1195.4 354.1 1194.8 355.0C1194.1 355.9 1192.0 356.6 1190.6 356.6C1189.2 356.6 1187.2 355.9 1186.5 355.0C1185.8 354.1 1185.8 352.1 1186.5 351.2C1187.2 350.4 1189.2 349.6 1190.6 349.6ZM1186.2 354.4L1166.2 393.8L1165.0 407.5L1172.5 405.0L1173.8 402.5L1195.0 355.0M1254.4 310.6C1257.3 310.6 1261.0 311.5 1263.1 312.8C1265.2 314.0 1266.9 316.3 1266.9 318.1C1266.9 319.9 1265.2 322.2 1263.1 323.5C1261.0 324.8 1257.3 325.6 1254.4 325.6C1251.5 325.6 1247.7 324.8 1245.6 323.5C1243.5 322.2 1241.9 319.9 1241.9 318.1C1241.9 316.3 1243.5 314.0 1245.6 312.8C1247.7 311.5 1251.5 310.6 1254.4 310.6ZM1241.9 320.0L1243.1 335.0M1266.9 318.8L1266.2 335.0M1243.1 335.0C1244.1 335.8 1245.9 339.2 1248.8 340.0C1251.6 340.8 1257.1 340.8 1260.0 340.0C1262.9 339.2 1265.2 335.8 1266.2 335.0M1222.5 365.0C1222.4 361.0 1221.7 348.3 1221.9 341.2C1222.1 334.2 1222.9 327.4 1223.8 322.5C1224.6 317.6 1225.6 313.8 1226.9 311.9C1228.1 310.0 1230.1 309.5 1231.2 311.2C1232.4 313.0 1231.9 319.8 1233.8 322.5C1235.6 325.2 1241.0 326.7 1242.5 327.5M1225.6 365.0C1225.5 361.2 1224.9 349.0 1225.0 342.5C1225.1 336.0 1225.7 330.6 1226.2 326.2C1226.8 321.9 1227.1 316.5 1228.1 316.2C1229.2 316.0 1230.2 322.7 1232.5 325.0C1234.8 327.3 1240.3 329.2 1241.9 330.0M1260.0 307.5C1261.7 307.2 1266.2 304.8 1270.0 305.6C1273.8 306.5 1279.0 310.1 1282.5 312.5C1286.0 314.9 1289.8 318.8 1291.2 320.0M1261.2 311.2C1262.7 310.9 1266.7 308.5 1270.0 309.4C1273.3 310.2 1278.1 314.1 1281.2 316.2C1284.4 318.4 1287.5 321.5 1288.8 322.5M1278.8 285.0C1279.4 287.1 1280.2 293.3 1282.5 297.5C1284.8 301.7 1289.4 306.0 1292.5 310.0C1295.6 314.0 1299.0 317.5 1301.2 321.2C1303.5 325.0 1305.8 328.5 1306.2 332.5C1306.7 336.5 1305.0 340.4 1303.8 345.0C1302.5 349.6 1299.6 357.5 1298.8 360.0M1283.1 285.0C1283.6 286.9 1284.1 292.3 1286.2 296.2C1288.4 300.2 1293.1 304.8 1296.2 308.8C1299.4 312.7 1302.7 316.0 1305.0 320.0C1307.3 324.0 1309.6 327.9 1310.0 332.5C1310.4 337.1 1308.8 342.5 1307.5 347.5C1306.2 352.5 1303.3 360.0 1302.5 362.5M1287.5 285.0C1288.3 286.9 1290.0 292.7 1292.5 296.2C1295.0 299.8 1299.4 302.1 1302.5 306.2C1305.6 310.4 1309.0 316.5 1311.2 321.2C1313.5 326.0 1315.0 330.2 1316.2 335.0C1317.5 339.8 1318.3 347.5 1318.8 350.0M1288.8 322.5C1287.7 324.6 1285.2 331.5 1282.5 335.0C1279.8 338.5 1276.7 341.7 1272.5 343.8C1268.3 345.8 1264.2 345.6 1257.5 347.5C1250.8 349.4 1239.8 352.5 1232.5 355.0C1225.2 357.5 1217.9 360.4 1213.8 362.5C1209.6 364.6 1209.8 364.2 1207.5 367.5C1205.2 370.8 1202.9 378.8 1200.0 382.5C1197.1 386.2 1193.5 388.3 1190.0 390.0C1186.5 391.7 1180.6 392.1 1178.8 392.5M1291.2 325.0C1290.2 327.1 1287.9 334.0 1285.0 337.5C1282.1 341.0 1278.1 344.2 1273.8 346.2C1269.4 348.3 1265.4 348.1 1258.8 350.0C1252.1 351.9 1240.8 355.0 1233.8 357.5C1226.7 360.0 1220.2 362.7 1216.2 365.0C1212.3 367.3 1212.3 367.9 1210.0 371.2C1207.7 374.6 1205.4 381.5 1202.5 385.0C1199.6 388.5 1196.2 390.8 1192.5 392.5C1188.8 394.2 1182.1 394.6 1180.0 395.0M1255.0 351.2C1254.2 352.3 1253.8 355.6 1250.0 357.5C1246.2 359.4 1236.9 360.4 1232.5 362.5C1228.1 364.6 1226.7 366.2 1223.8 370.0C1220.8 373.8 1217.7 379.4 1215.0 385.0C1212.3 390.6 1209.0 397.9 1207.5 403.8C1206.0 409.6 1206.5 417.3 1206.2 420.0M1257.5 352.5C1256.7 353.8 1256.2 357.9 1252.5 360.0C1248.8 362.1 1239.4 362.9 1235.0 365.0C1230.6 367.1 1229.2 368.8 1226.2 372.5C1223.3 376.2 1220.1 382.1 1217.5 387.5C1214.9 392.9 1212.0 399.6 1210.6 405.0C1209.3 410.4 1209.6 417.5 1209.4 420.0M1260.0 353.1C1259.2 354.6 1258.8 359.5 1255.0 361.9C1251.2 364.3 1241.9 365.3 1237.5 367.5C1233.1 369.7 1231.7 371.2 1228.8 375.0C1225.8 378.8 1222.5 384.8 1220.0 390.0C1217.5 395.2 1215.0 401.2 1213.8 406.2C1212.5 411.2 1212.7 417.7 1212.5 420.0M1262.5 353.8C1261.7 355.4 1261.2 361.0 1257.5 363.8C1253.8 366.5 1244.4 367.7 1240.0 370.0C1235.6 372.3 1234.2 373.8 1231.2 377.5C1228.3 381.2 1224.9 387.5 1222.5 392.5C1220.1 397.5 1218.0 402.9 1216.9 407.5C1215.7 412.1 1215.8 417.9 1215.6 420.0M1295.0 351.2C1291.9 352.7 1282.5 356.0 1276.2 360.0C1270.0 364.0 1262.7 371.0 1257.5 375.0C1252.3 379.0 1247.6 380.4 1245.0 383.8C1242.4 387.1 1242.4 391.0 1241.9 395.0C1241.4 399.0 1241.9 405.4 1241.9 407.5M1295.0 353.8C1292.1 355.2 1283.3 358.5 1277.5 362.5C1271.7 366.5 1265.0 373.5 1260.0 377.5C1255.0 381.5 1250.1 383.1 1247.5 386.2C1244.9 389.4 1244.8 392.6 1244.4 396.2C1244.0 399.9 1244.9 406.1 1245.0 408.1M1293.8 356.2C1291.2 357.8 1284.0 361.7 1278.8 365.6C1273.5 369.6 1267.3 376.1 1262.5 380.0C1257.7 383.9 1252.6 385.8 1250.0 388.8C1247.4 391.7 1247.3 394.2 1246.9 397.5C1246.5 400.8 1247.4 406.9 1247.5 408.8M1290.0 360.0C1288.3 361.5 1284.2 365.0 1280.0 368.8C1275.8 372.5 1269.6 378.8 1265.0 382.5C1260.4 386.2 1255.1 388.3 1252.5 391.2C1249.9 394.2 1249.8 396.9 1249.4 400.0C1249.0 403.1 1249.9 408.3 1250.0 410.0M1292.5 322.5L1282.5 352.5M1297.5 326.2L1287.5 355.0M1300.0 328.8L1293.1 352.5M1307.5 348.8L1312.5 346.2L1325.0 351.9L1318.8 366.2L1303.8 361.2ZM1315.0 347.5L1311.2 363.8M1297.5 365.0L1317.5 371.2L1310.0 391.2L1287.5 382.5ZM1303.8 361.2L1297.5 365.0M1318.8 366.2L1317.5 371.2M1305.0 367.5L1297.5 386.2M1276.2 383.8L1281.2 381.2L1288.8 386.2L1280.0 397.5L1270.0 392.5ZM1262.5 392.5L1281.2 401.2L1267.5 418.8L1252.5 410.0ZM1270.0 395.6L1261.2 415.0M1230.0 420.0L1238.8 410.0L1256.2 417.5L1250.0 421.2M1281.2 380.0L1297.5 355.0M1285.0 382.5L1301.2 360.0M1307.5 310.0C1307.3 307.9 1305.0 301.2 1306.2 297.5C1307.5 293.8 1311.7 289.6 1315.0 287.5C1318.3 285.4 1324.4 285.4 1326.2 285.0M1307.5 310.0C1308.1 310.3 1309.2 312.3 1311.2 311.9C1313.3 311.5 1316.5 309.9 1320.0 307.5C1323.5 305.1 1329.2 300.0 1332.5 297.5C1335.8 295.0 1339.2 294.2 1340.0 292.5C1340.8 290.8 1339.2 288.1 1337.5 287.5C1335.8 286.9 1331.9 289.2 1330.0 288.8C1328.1 288.3 1326.9 285.6 1326.2 285.0M1340.0 293.8L1351.2 326.2L1357.5 360.0M1347.5 305.0C1348.5 304.8 1351.7 304.2 1353.8 303.8C1355.8 303.3 1359.0 302.7 1360.0 302.5M1348.8 310.0C1349.8 309.8 1353.1 309.2 1355.0 308.8C1356.9 308.3 1359.2 307.7 1360.0 307.5M1322.5 377.5L1360.0 356.2M1322.5 377.5L1360.0 391.2M1322.5 377.5C1322.1 378.8 1319.6 382.5 1320.0 385.0C1320.4 387.5 1323.3 390.6 1325.0 392.5C1326.7 394.4 1330.4 394.2 1330.0 396.2C1329.6 398.3 1325.4 402.7 1322.5 405.0C1319.6 407.3 1317.1 407.5 1312.5 410.0C1307.9 412.5 1297.9 418.3 1295.0 420.0M1120.0 321.2C1121.7 321.9 1126.9 322.7 1130.0 325.0C1133.1 327.3 1136.2 331.2 1138.8 335.0C1141.2 338.8 1143.3 342.3 1145.0 347.5C1146.7 352.7 1148.8 360.0 1148.8 366.2C1148.8 372.5 1146.7 378.8 1145.0 385.0C1143.3 391.2 1140.6 397.9 1138.8 403.8C1136.9 409.6 1134.6 417.3 1133.8 420.0M1120.0 336.2C1121.2 336.9 1125.2 337.7 1127.5 340.0C1129.8 342.3 1132.3 346.2 1133.8 350.0C1135.2 353.8 1136.0 357.5 1136.2 362.5C1136.5 367.5 1136.0 374.2 1135.0 380.0C1134.0 385.8 1131.9 392.5 1130.0 397.5C1128.1 402.5 1124.8 407.9 1123.8 410.0M1127.5 405.0L1137.5 411.2M1138.8 285.0C1140.2 287.1 1145.4 293.3 1147.5 297.5C1149.6 301.7 1150.8 306.2 1151.2 310.0C1151.7 313.8 1150.2 318.3 1150.0 320.0M1120.0 295.0C1121.0 296.7 1124.8 301.2 1126.2 305.0C1127.7 308.8 1128.3 315.4 1128.8 317.5M1163.8 285.0C1165.2 286.2 1170.8 289.8 1172.5 292.5C1174.2 295.2 1174.6 298.8 1173.8 301.2C1172.9 303.8 1169.8 305.4 1167.5 307.5C1165.2 309.6 1161.2 312.7 1160.0 313.8M1175.0 285.0C1176.2 286.2 1181.2 289.4 1182.5 292.5C1183.8 295.6 1183.8 300.6 1182.5 303.8C1181.2 306.9 1177.9 309.4 1175.0 311.2C1172.1 313.1 1166.7 314.4 1165.0 315.0M1151.2 366.2C1152.9 367.7 1158.5 370.6 1161.2 375.0C1164.0 379.4 1166.7 386.7 1167.5 392.5C1168.3 398.3 1166.5 407.1 1166.2 410.0M1120.0 360.0L1133.8 371.2M1120.0 388.8L1135.0 385.0M1145.0 337.5C1145.8 336.7 1149.4 334.4 1150.0 332.5C1150.6 330.6 1149.0 327.3 1148.8 326.2M1187.5 285.0L1188.8 295.0"/>
<path fill="none" stroke="#1c1c1c" stroke-width="4" d="M1300.0 362.5L1317.5 368.8M1263.8 391.2L1275.0 396.2"/>
</g>
<g>
<path fill="none" stroke="#1c1c1c" stroke-width="2.6" d="M1360.0 300.6C1361.7 300.1 1366.9 298.0 1370.0 297.5C1373.1 297.0 1375.2 295.8 1378.8 297.5C1382.3 299.2 1387.1 304.0 1391.2 307.5C1395.4 311.0 1401.7 315.4 1403.8 318.8C1405.8 322.1 1404.8 324.4 1403.8 327.5C1402.7 330.6 1400.2 334.6 1397.5 337.5C1394.8 340.4 1389.5 341.5 1387.5 345.0C1385.5 348.5 1385.9 356.5 1385.6 358.8M1360.0 305.0C1361.7 305.2 1366.9 305.2 1370.0 306.2C1373.1 307.3 1376.6 309.2 1378.8 311.2C1380.9 313.3 1383.1 315.6 1383.1 318.8C1383.1 321.9 1380.9 326.9 1378.8 330.0C1376.6 333.1 1373.1 336.5 1370.0 337.5C1366.9 338.5 1361.7 336.5 1360.0 336.2M1360.0 310.0C1361.2 310.0 1365.4 309.2 1367.5 310.0C1369.6 310.8 1372.1 312.7 1372.5 315.0C1372.9 317.3 1372.1 321.4 1370.0 323.8C1367.9 326.1 1361.7 328.4 1360.0 329.4M1437.5 325.6C1440.0 325.1 1446.2 325.2 1448.8 325.6C1451.2 326.0 1451.7 322.6 1452.5 328.1C1453.3 333.6 1454.0 352.9 1453.5 358.8C1453.0 364.6 1451.8 362.4 1449.4 363.1C1446.9 363.9 1441.1 363.6 1438.8 363.1C1436.4 362.6 1435.8 365.7 1435.0 360.0C1434.2 354.3 1433.6 334.5 1434.0 328.8C1434.4 323.0 1435.0 326.1 1437.5 325.6ZM1360.0 356.9C1364.2 357.4 1378.1 359.3 1385.0 360.0C1391.9 360.7 1396.7 362.3 1401.2 361.2C1405.8 360.2 1407.1 358.8 1412.5 353.8C1417.9 348.8 1430.2 335.0 1433.8 331.2M1360.0 360.0C1364.2 360.5 1377.9 362.4 1385.0 363.1C1392.1 363.9 1397.5 365.5 1402.5 364.4C1407.5 363.2 1409.8 360.9 1415.0 356.2C1420.2 351.6 1430.6 339.6 1433.8 336.2M1365.0 375.0C1368.3 375.6 1378.8 378.0 1385.0 378.8C1391.2 379.5 1397.5 380.4 1402.5 379.4C1407.5 378.3 1409.8 376.6 1415.0 372.5C1420.2 368.4 1430.6 357.9 1433.8 355.0M1360.0 345.0L1367.5 395.0M1367.5 395.0C1368.1 394.0 1368.8 390.2 1371.2 388.8C1373.8 387.3 1379.3 387.9 1382.5 386.2C1385.7 384.6 1389.3 380.0 1390.6 378.8M1360.0 390.0L1367.5 395.0M1371.2 420.0C1371.0 417.5 1369.6 409.0 1370.0 405.0C1370.4 401.0 1371.9 398.1 1373.8 396.2C1375.6 394.4 1379.0 393.8 1381.2 393.8C1383.5 393.8 1386.2 394.4 1387.5 396.2C1388.8 398.1 1389.0 401.0 1388.8 405.0C1388.5 409.0 1386.7 417.5 1386.2 420.0M1388.8 393.8C1390.2 393.5 1394.0 392.3 1397.5 392.5C1401.0 392.7 1407.3 393.8 1410.0 395.0C1412.7 396.2 1412.9 398.3 1413.8 400.0C1414.6 401.7 1413.1 401.7 1415.0 405.0C1416.9 408.3 1423.3 417.5 1425.0 420.0M1388.8 403.8C1390.2 404.4 1394.6 405.6 1397.5 407.5C1400.4 409.4 1404.2 412.9 1406.2 415.0C1408.3 417.1 1409.4 419.2 1410.0 420.0M1360.0 407.5C1361.0 408.3 1364.6 410.4 1366.2 412.5C1367.9 414.6 1369.4 418.8 1370.0 420.0"/>
</g>
<g clip-path="url(#c8)">
<path fill="none" stroke="#1c1c1c" stroke-width="2.6" d="M948.8 420.0C950.8 423.1 956.5 431.5 961.2 438.8C966.0 446.0 971.2 456.5 977.5 463.8C983.8 471.0 992.1 478.1 998.8 482.5C1005.4 486.9 1012.3 489.2 1017.5 490.0C1022.7 490.8 1026.0 489.8 1030.0 487.5C1034.0 485.2 1038.8 481.2 1041.2 476.2C1043.8 471.2 1045.2 464.8 1045.0 457.5C1044.8 450.2 1042.1 438.8 1040.0 432.5C1037.9 426.2 1033.8 422.1 1032.5 420.0M953.1 420.0C955.1 422.9 960.5 430.8 965.0 437.5C969.5 444.2 974.2 453.1 980.0 460.0C985.8 466.9 994.0 474.5 1000.0 478.8C1006.0 483.0 1011.5 484.9 1016.2 485.6C1021.0 486.4 1025.2 485.1 1028.8 483.1C1032.3 481.1 1035.5 478.0 1037.5 473.8C1039.5 469.5 1040.8 464.0 1040.6 457.5C1040.4 451.0 1038.2 441.2 1036.2 435.0C1034.3 428.8 1030.0 422.5 1028.8 420.0M957.5 420.0C959.2 422.3 963.3 427.7 967.5 433.8C971.7 439.8 977.1 449.6 982.5 456.2C987.9 462.9 994.6 469.6 1000.0 473.8C1005.4 477.9 1010.6 480.4 1015.0 481.2C1019.4 482.1 1023.1 480.6 1026.2 478.8C1029.4 476.9 1032.1 473.8 1033.8 470.0C1035.4 466.2 1036.5 461.9 1036.2 456.2C1036.0 450.6 1034.4 442.3 1032.5 436.2C1030.6 430.2 1026.2 422.7 1025.0 420.0M967.5 420.0C968.8 423.1 971.9 432.7 975.0 438.8C978.1 444.8 981.9 451.2 986.2 456.2C990.6 461.2 996.7 465.6 1001.2 468.8C1005.8 471.9 1010.0 474.4 1013.8 475.0C1017.5 475.6 1021.1 474.4 1023.8 472.5C1026.4 470.6 1028.3 467.3 1029.4 463.8C1030.4 460.2 1030.7 455.4 1030.0 451.2C1029.3 447.1 1025.8 440.8 1025.0 438.8M972.5 427.5C973.8 430.2 977.1 439.0 980.0 443.8C982.9 448.5 986.2 452.7 990.0 456.2C993.8 459.8 998.8 462.9 1002.5 465.0C1006.2 467.1 1009.6 468.8 1012.5 468.8C1015.4 468.8 1018.3 467.1 1020.0 465.0C1021.7 462.9 1022.5 459.6 1022.5 456.2C1022.5 452.9 1020.4 446.9 1020.0 445.0M992.5 442.5C993.5 444.2 996.2 449.6 998.8 452.5C1001.2 455.4 1004.8 458.5 1007.5 460.0C1010.2 461.5 1013.1 461.9 1015.0 461.2C1016.9 460.6 1018.1 457.1 1018.8 456.2M997.5 436.2C997.9 437.9 998.3 443.3 1000.0 446.2C1001.7 449.2 1005.0 452.3 1007.5 453.8C1010.0 455.2 1013.8 454.8 1015.0 455.0M975.0 432.5L982.5 428.8L985.0 432.5L977.5 436.2ZM985.0 436.2L990.0 433.8L992.5 436.2L987.5 438.8ZM988.8 442.5L995.0 440.0L997.5 445.0L991.2 447.5ZM1007.5 425.0C1007.9 423.5 1010.8 421.5 1012.5 421.2C1014.2 421.0 1017.1 422.5 1017.5 423.8C1017.9 425.0 1016.2 427.7 1015.0 428.8C1013.8 429.8 1011.2 430.6 1010.0 430.0C1008.8 429.4 1007.1 426.5 1007.5 425.0ZM995.0 436.2C995.8 437.1 997.5 440.2 1000.0 441.2C1002.5 442.3 1007.3 442.3 1010.0 442.5C1012.7 442.7 1015.2 442.5 1016.2 442.5M1041.2 431.2L1065.0 438.8L1111.2 465.0M1045.0 436.2L1067.5 443.8L1110.0 468.8M1046.2 441.2L1067.5 448.8L1108.8 472.5M1120.0 466.2C1118.8 466.5 1114.4 466.2 1112.5 467.5C1110.6 468.8 1109.0 471.2 1108.8 473.8C1108.5 476.2 1109.4 480.2 1111.2 482.5C1113.1 484.8 1118.5 486.7 1120.0 487.5M1042.5 420.0C1043.5 421.5 1045.6 426.0 1048.8 428.8C1051.9 431.5 1057.7 435.2 1061.2 436.2C1064.8 437.3 1068.5 435.2 1070.0 435.0M1061.2 436.2C1062.3 437.3 1064.4 440.8 1067.5 442.5C1070.6 444.2 1075.4 445.8 1080.0 446.2C1084.6 446.7 1090.8 446.0 1095.0 445.0C1099.2 444.0 1102.5 442.5 1105.0 440.0C1107.5 437.5 1109.0 433.3 1110.0 430.0C1111.0 426.7 1111.0 421.7 1111.2 420.0M1067.5 436.2L1071.2 420.0M1102.5 420.0C1103.5 422.1 1106.2 428.3 1108.8 432.5C1111.2 436.7 1115.6 441.7 1117.5 445.0C1119.4 448.3 1119.6 451.2 1120.0 452.5M880.0 423.8L887.5 422.5L920.0 445.0M880.0 432.5L888.8 431.2L917.5 452.5M880.0 441.2C882.1 442.5 888.3 445.4 892.5 448.8C896.7 452.1 900.8 456.0 905.0 461.2C909.2 466.5 915.4 476.9 917.5 480.0M920.0 443.1L935.0 461.2L955.0 487.5M920.0 443.1C919.4 444.7 916.7 449.5 916.2 452.5C915.8 455.5 916.5 458.3 917.5 461.2C918.5 464.2 921.9 467.1 922.5 470.0C923.1 472.9 920.4 476.2 921.2 478.8C922.1 481.2 924.6 482.5 927.5 485.0C930.4 487.5 936.0 491.0 938.8 493.8C941.5 496.5 942.9 500.0 943.8 501.2M924.4 452.5C926.0 452.5 929.4 455.8 929.4 457.5C929.4 459.2 926.0 462.5 924.4 462.5C922.7 462.5 919.4 459.2 919.4 457.5C919.4 455.8 922.7 452.5 924.4 452.5ZM933.8 465.0C935.4 465.0 938.8 468.3 938.8 470.0C938.8 471.7 935.4 475.0 933.8 475.0C932.1 475.0 928.8 471.7 928.8 470.0C928.8 468.3 932.1 465.0 933.8 465.0ZM942.5 478.1C944.0 478.1 946.9 481.0 946.9 482.5C946.9 484.0 944.0 486.9 942.5 486.9C941.0 486.9 938.1 484.0 938.1 482.5C938.1 481.0 941.0 478.1 942.5 478.1ZM955.0 487.5L956.2 495.0L951.2 505.0L945.0 507.5M917.5 480.0C920.0 484.6 928.3 498.8 932.5 507.5C936.7 516.2 940.4 524.6 942.5 532.5C944.6 540.4 944.6 551.2 945.0 555.0M922.5 485.0C925.0 489.2 933.2 501.7 937.5 510.0C941.8 518.3 946.0 527.5 948.1 535.0C950.2 542.5 949.7 551.7 950.0 555.0M951.2 506.2L960.0 555.0M953.8 531.2C955.0 532.7 959.2 536.9 961.2 540.0C963.3 543.1 965.0 547.5 966.2 550.0C967.5 552.5 968.3 554.2 968.8 555.0M880.0 516.2C881.0 517.9 884.4 521.9 886.2 526.2C888.1 530.6 890.2 537.7 891.2 542.5C892.3 547.3 892.3 552.9 892.5 555.0M880.0 527.5C880.6 529.4 882.7 534.2 883.8 538.8C884.8 543.3 885.8 552.3 886.2 555.0M895.0 545.0C896.7 546.2 901.7 550.8 905.0 552.5C908.3 554.2 913.3 554.6 915.0 555.0"/>
<path fill="#1c1c1c" stroke="#1c1c1c" stroke-width="2.6" d="M938.8 448.8L945.0 442.5L955.0 440.0L965.0 441.2L976.2 452.5L978.8 461.2L975.0 470.0L967.5 477.5L960.0 480.0L950.0 475.0L942.5 467.5L938.8 457.5ZM938.8 500.0L940.0 498.8L941.5 500.0L940.0 501.9Z"/>
<path fill="none" stroke="#fff" stroke-width="2.1" d="M941.2 457.5L955.0 451.9M942.5 462.5L957.5 456.5M945.0 467.5L960.0 461.5M948.8 472.5L962.5 466.9M955.0 445.6L967.5 442.2M960.0 451.2L975.0 446.9M962.5 457.5L977.5 452.8M965.0 463.8L978.1 459.4M966.2 470.0L976.2 466.5M955.0 476.9L967.5 473.1"/>
<path fill="none" stroke="#1c1c1c" stroke-width="7" d="M982.5 420.0L992.5 425.0"/>
<path fill="none" stroke="#1c1c1c" stroke-width="2" d="M1096.2 526.2C1093.5 524.6 1085.2 521.5 1080.0 516.2C1074.8 511.0 1069.6 502.1 1065.0 495.0C1060.4 487.9 1056.2 480.0 1052.5 473.8C1048.8 467.5 1046.2 462.3 1042.5 457.5C1038.8 452.7 1034.2 448.3 1030.0 445.0C1025.8 441.7 1021.7 439.4 1017.5 437.5C1013.3 435.6 1007.1 434.4 1005.0 433.8"/>
<path fill="none" stroke="#1c1c1c" stroke-width="6" d="M940.0 550.0L945.0 555.0M955.0 552.5L960.0 555.0"/>
</g>
<g clip-path="url(#c9)">
<path fill="none" stroke="#1c1c1c" stroke-width="2.6" d="M1120.0 488.1C1121.2 488.1 1121.2 484.9 1127.5 488.1C1133.8 491.4 1146.2 501.4 1157.5 507.5C1168.8 513.6 1186.7 522.0 1195.0 525.0C1203.3 528.0 1203.3 526.2 1207.5 525.6C1211.7 525.0 1211.9 525.8 1220.0 521.2C1228.1 516.7 1250.2 502.0 1256.2 498.1M1130.0 485.6C1135.0 488.6 1149.0 497.9 1160.0 503.8C1171.0 509.6 1188.3 517.7 1196.2 520.6C1204.2 523.5 1203.8 521.8 1207.5 521.2C1211.2 520.7 1210.7 522.0 1218.8 517.5C1226.8 513.0 1249.5 498.2 1255.6 494.4M1135.0 483.8C1139.6 486.5 1152.1 494.6 1162.5 500.0C1172.9 505.4 1190.0 513.4 1197.5 516.2C1205.0 519.1 1204.2 517.4 1207.5 516.9C1210.8 516.4 1209.6 517.5 1217.5 513.1C1225.4 508.8 1248.8 494.4 1255.0 490.6M1200.0 512.5C1201.2 512.6 1204.8 513.6 1207.5 513.1C1210.2 512.6 1208.8 513.9 1216.2 509.4C1223.8 504.9 1246.5 490.1 1252.5 486.2M1153.8 491.9C1155.2 491.7 1159.4 490.1 1162.5 490.6C1165.6 491.1 1169.2 493.4 1172.5 495.0C1175.8 496.6 1178.8 498.8 1182.5 500.0C1186.2 501.2 1190.8 502.3 1195.0 502.5C1199.2 502.7 1204.2 502.7 1207.5 501.2C1210.8 499.8 1212.7 495.5 1215.0 493.8C1217.3 492.0 1220.2 491.1 1221.2 490.6M1157.5 496.2C1159.2 496.9 1163.3 498.3 1167.5 500.0C1171.7 501.7 1177.5 504.8 1182.5 506.2C1187.5 507.7 1192.9 508.8 1197.5 508.8C1202.1 508.8 1206.7 508.1 1210.0 506.2C1213.3 504.4 1215.2 499.9 1217.5 497.5C1219.8 495.1 1222.7 492.8 1223.8 491.9M1122.5 485.6L1177.5 469.4M1177.5 469.4C1178.8 469.1 1182.1 467.4 1185.0 467.5C1187.9 467.6 1191.2 467.9 1195.0 470.0C1198.8 472.1 1203.3 476.9 1207.5 480.0C1211.7 483.1 1215.8 486.9 1220.0 488.8C1224.2 490.6 1228.3 491.5 1232.5 491.2C1236.7 491.0 1241.7 489.2 1245.0 487.5C1248.3 485.8 1251.2 482.3 1252.5 481.2M1120.0 469.4C1120.4 470.3 1121.9 472.8 1122.5 475.0C1123.1 477.2 1123.8 480.6 1123.8 482.5C1123.8 484.4 1122.7 485.6 1122.5 486.2M1120.0 461.2C1124.2 461.9 1136.2 464.2 1145.0 465.0C1153.8 465.8 1165.0 466.9 1172.5 466.2C1180.0 465.6 1185.2 462.3 1190.0 461.2C1194.8 460.2 1197.5 459.2 1201.2 460.0C1205.0 460.8 1209.0 464.0 1212.5 466.2C1216.0 468.5 1219.2 472.2 1222.5 473.8C1225.8 475.3 1229.6 475.8 1232.5 475.6C1235.4 475.4 1236.9 474.5 1240.0 472.5C1243.1 470.5 1249.4 465.2 1251.2 463.8M1202.5 460.0L1197.5 469.4M1237.5 475.0L1243.8 483.8M1152.5 443.1C1155.8 443.3 1167.1 444.7 1172.5 444.4C1177.9 444.1 1180.8 441.4 1185.0 441.2C1189.2 441.1 1193.3 442.3 1197.5 443.8C1201.7 445.2 1205.8 448.1 1210.0 450.0C1214.2 451.9 1218.8 454.2 1222.5 455.0C1226.2 455.8 1228.8 456.1 1232.5 455.0C1236.2 453.9 1241.2 450.5 1245.0 448.1C1248.8 445.7 1252.7 441.6 1255.0 440.6C1257.3 439.7 1258.5 441.5 1258.8 442.5C1259.0 443.5 1256.7 446.1 1256.2 446.9M1151.2 450.0C1154.8 450.1 1166.7 451.1 1172.5 450.6C1178.3 450.1 1182.1 447.1 1186.2 446.9C1190.4 446.7 1193.5 447.9 1197.5 449.4C1201.5 450.8 1205.8 453.8 1210.0 455.6C1214.2 457.5 1218.8 459.8 1222.5 460.6C1226.2 461.5 1228.8 461.8 1232.5 460.6C1236.2 459.5 1241.0 456.0 1245.0 453.8C1249.0 451.5 1254.4 448.0 1256.2 446.9M1180.0 449.4C1182.5 449.8 1190.4 450.3 1195.0 451.9C1199.6 453.4 1203.5 456.4 1207.5 458.8C1211.5 461.1 1215.0 464.6 1218.8 466.2C1222.5 467.9 1226.5 469.2 1230.0 468.8C1233.5 468.3 1236.2 466.0 1240.0 463.8C1243.8 461.5 1250.4 456.5 1252.5 455.0M1120.0 425.0C1120.6 427.3 1121.7 434.8 1123.8 438.8C1125.8 442.7 1127.9 446.8 1132.5 448.8C1137.1 450.7 1148.1 450.3 1151.2 450.6M1132.5 420.0C1132.7 422.1 1132.5 428.8 1133.8 432.5C1135.0 436.2 1137.1 439.6 1140.0 442.5C1142.9 445.4 1149.4 448.8 1151.2 450.0M1136.2 420.0C1136.5 421.9 1136.5 427.9 1137.5 431.2C1138.5 434.6 1140.2 437.7 1142.5 440.0C1144.8 442.3 1149.8 444.2 1151.2 445.0M1157.5 420.0C1156.5 421.2 1152.3 424.4 1151.2 427.5C1150.2 430.6 1151.0 436.0 1151.2 438.8C1151.5 441.5 1152.3 442.9 1152.5 443.8M1192.5 420.0C1193.1 421.7 1196.2 426.9 1196.2 430.0C1196.2 433.1 1194.8 436.9 1192.5 438.8C1190.2 440.6 1186.2 440.3 1182.5 441.2C1178.8 442.2 1172.1 443.9 1170.0 444.4M1195.0 420.0C1195.8 422.1 1199.0 428.5 1200.0 432.5C1201.0 436.5 1201.0 441.9 1201.2 443.8M1198.8 420.0C1199.5 422.1 1202.3 428.3 1203.1 432.5C1204.0 436.7 1203.6 442.9 1203.8 445.0M1211.9 427.5L1212.5 445.0M1212.5 433.8L1227.5 420.0L1241.2 427.5L1226.2 446.9ZM1218.8 438.8L1232.5 423.8M1256.2 446.2C1257.5 444.6 1260.4 439.4 1263.8 436.2C1267.1 433.1 1272.1 429.8 1276.2 427.5C1280.4 425.2 1284.6 423.8 1288.8 422.5C1292.9 421.2 1299.2 420.4 1301.2 420.0M1256.2 446.2C1255.8 449.2 1254.0 457.7 1253.8 463.8C1253.5 469.8 1253.8 476.5 1255.0 482.5C1256.2 488.5 1258.3 495.2 1261.2 500.0C1264.2 504.8 1268.3 508.8 1272.5 511.2C1276.7 513.8 1281.7 514.8 1286.2 515.0C1290.8 515.2 1295.2 514.4 1300.0 512.5C1304.8 510.6 1310.8 507.1 1315.0 503.8C1319.2 500.4 1322.5 496.5 1325.0 492.5C1327.5 488.5 1330.0 483.8 1330.0 480.0C1330.0 476.2 1327.9 472.3 1325.0 470.0C1322.1 467.7 1314.6 466.9 1312.5 466.2M1256.2 455.0L1288.8 465.6M1281.2 426.2L1300.0 455.0M1300.0 420.0L1315.0 447.5M1300.0 455.0L1335.0 436.2L1351.2 426.2M1288.8 465.6C1290.5 463.1 1296.2 460.6 1300.0 458.8C1303.8 456.9 1308.3 454.2 1311.2 454.4C1314.2 454.6 1317.7 458.2 1317.5 460.0C1317.3 461.8 1311.0 463.8 1310.0 465.0C1309.0 466.2 1313.8 464.2 1311.2 467.5C1308.8 470.8 1298.3 482.3 1295.0 485.0C1291.7 487.7 1292.2 485.6 1291.2 483.8C1290.3 481.9 1289.8 476.8 1289.4 473.8C1289.0 470.7 1287.0 468.1 1288.8 465.6ZM1297.5 513.1C1299.2 513.6 1304.6 516.4 1307.5 516.2C1310.4 516.1 1312.5 512.5 1315.0 512.5C1317.5 512.5 1319.6 516.0 1322.5 516.2C1325.4 516.5 1329.8 515.0 1332.5 513.8C1335.2 512.5 1337.7 509.6 1338.8 508.8M1321.2 498.8L1338.8 508.8M1338.8 508.8C1340.8 508.3 1347.7 507.3 1351.2 506.2C1354.8 505.2 1358.5 503.1 1360.0 502.5M1330.0 486.2C1331.5 486.9 1336.2 489.8 1338.8 490.0C1341.2 490.2 1344.4 489.8 1345.0 487.5C1345.6 485.2 1343.8 481.2 1342.5 476.2C1341.2 471.2 1337.5 463.1 1337.5 457.5C1337.5 451.9 1340.2 447.1 1342.5 442.5C1344.8 437.9 1348.8 432.9 1351.2 430.0C1353.8 427.1 1356.5 425.8 1357.5 425.0M1355.0 427.5C1355.4 428.8 1356.7 433.3 1357.5 435.0C1358.3 436.7 1359.6 437.1 1360.0 437.5"/>
<path fill="none" stroke="#1c1c1c" stroke-width="3" d="M1206.2 420.0L1207.5 442.5M1209.4 420.0L1210.0 443.8"/>
</g>
<g>
<path fill="none" stroke="#1c1c1c" stroke-width="2.6" d="M1371.2 420.0L1371.9 432.5M1372.5 435.0C1374.2 436.2 1379.4 439.2 1382.5 442.5C1385.6 445.8 1388.8 449.6 1391.2 455.0C1393.8 460.4 1396.5 471.7 1397.5 475.0M1386.2 420.0C1386.5 421.7 1387.4 426.7 1387.5 430.0C1387.6 433.3 1386.5 436.7 1386.9 440.0C1387.3 443.3 1388.4 446.7 1390.0 450.0C1391.6 453.3 1394.8 456.0 1396.2 460.0C1397.7 464.0 1398.3 471.5 1398.8 473.8M1388.8 421.2C1390.2 422.3 1395.0 424.4 1397.5 427.5C1400.0 430.6 1402.7 435.0 1403.8 440.0C1404.8 445.0 1404.0 452.7 1403.8 457.5C1403.5 462.3 1402.7 466.9 1402.5 468.8M1387.5 442.5C1389.0 444.0 1393.8 448.1 1396.2 451.2C1398.8 454.4 1401.2 458.1 1402.5 461.2C1403.8 464.4 1404.4 467.7 1403.8 470.0C1403.1 472.3 1399.6 474.2 1398.8 475.0M1408.8 420.0C1410.0 421.7 1414.4 426.2 1416.2 430.0C1418.1 433.8 1420.0 438.5 1420.0 442.5C1420.0 446.5 1417.9 450.8 1416.2 453.8C1414.6 456.7 1412.1 458.6 1410.0 460.0C1407.9 461.4 1404.8 461.6 1403.8 461.9M1423.8 420.0C1424.4 421.2 1426.0 424.6 1427.5 427.5C1429.0 430.4 1431.8 434.8 1432.5 437.5C1433.2 440.2 1432.7 442.6 1431.9 443.8C1431.0 444.9 1429.5 444.6 1427.5 444.4C1425.5 444.2 1421.2 442.8 1420.0 442.5M1371.2 442.5C1370.0 444.6 1365.1 451.7 1363.8 455.0C1362.4 458.3 1362.5 459.6 1363.1 462.5C1363.8 465.4 1366.2 469.2 1367.5 472.5C1368.8 475.8 1370.2 479.0 1370.6 482.5C1371.0 486.0 1370.1 491.9 1370.0 493.8M1370.0 493.8L1398.8 475.0M1370.0 493.8C1369.4 495.0 1367.9 499.2 1366.2 501.2C1364.6 503.3 1361.0 505.4 1360.0 506.2"/>
</g>
<g>
<path fill="none" stroke="#1c1c1c" stroke-width="2.6" d="M870.7 602.3C869.7 603.0 868.6 603.7 867.5 604.2C866.3 604.8 865.1 605.2 863.8 605.5C862.6 605.9 861.2 606.1 859.8 606.2C858.4 606.3 857.0 606.4 855.5 606.3C854.0 606.2 852.5 606.0 850.9 605.7C849.3 605.4 847.7 604.9 846.1 604.4C844.4 603.9 842.8 603.3 841.1 602.6C839.4 601.9 837.7 601.1 836.0 600.1C834.3 599.2 832.6 598.2 830.9 597.1C829.1 596.0 827.4 594.8 825.7 593.6C824.0 592.3 822.3 590.9 820.6 589.5C819.0 588.1 817.3 586.6 815.7 585.0C814.0 583.4 812.4 581.8 810.8 580.1C809.3 578.4 807.7 576.6 806.3 574.8C804.8 573.0 803.3 571.2 801.9 569.3C800.6 567.4 799.2 565.4 798.0 563.5C796.7 561.5 795.5 559.5 794.3 557.5C793.2 555.5 792.1 553.5 791.1 551.4C790.1 549.4 789.1 547.4 788.3 545.3C787.4 543.3 786.7 541.3 786.0 539.3C785.3 537.2 784.7 535.2 784.1 533.3C783.6 531.3 783.2 529.4 782.8 527.5C782.5 525.6 782.2 523.7 782.0 521.9C781.8 520.1 781.8 518.3 781.8 516.6C781.8 514.8 781.9 513.2 782.1 511.6C782.2 510.0 782.5 508.5 782.9 507.0C783.2 505.6 783.7 504.2 784.2 502.9C784.8 501.6 785.4 500.4 786.1 499.3C786.8 498.2 787.6 497.1 788.4 496.2C789.3 495.3 790.2 494.4 791.3 493.7C792.3 493.0 793.4 492.3 794.5 491.8C795.7 491.2 796.9 490.8 798.2 490.5C799.4 490.1 800.8 489.9 802.2 489.8C803.6 489.7 805.0 489.6 806.5 489.7C808.0 489.8 809.5 490.0 811.1 490.3C812.7 490.6 814.3 491.1 815.9 491.6C817.6 492.1 819.2 492.7 820.9 493.4C822.6 494.1 824.3 494.9 826.0 495.9C827.7 496.8 829.4 497.8 831.1 498.9C832.9 500.0 834.6 501.2 836.3 502.4C838.0 503.7 839.7 505.1 841.4 506.5C843.0 507.9 844.7 509.4 846.3 511.0C848.0 512.6 849.6 514.2 851.2 515.9C852.7 517.6 854.3 519.4 855.7 521.2C857.2 523.0 858.7 524.8 860.1 526.7C861.4 528.6 862.8 530.6 864.0 532.5C865.3 534.5 866.5 536.5 867.7 538.5C868.8 540.5 869.9 542.5 870.9 544.6C871.9 546.6 872.9 548.6 873.7 550.7C874.6 552.7 875.3 554.7 876.0 556.7C876.7 558.8 877.3 560.8 877.9 562.7C878.4 564.7 878.8 566.6 879.2 568.5C879.5 570.4 879.8 572.3 880.0 574.1C880.2 575.9 880.2 577.7 880.2 579.4C880.2 581.2 880.1 582.8 879.9 584.4C879.8 586.0 879.5 587.5 879.1 589.0C878.8 590.4 878.3 591.8 877.8 593.1C877.2 594.4 876.6 595.6 875.9 596.7C875.2 597.8 874.4 598.9 873.6 599.8C872.7 600.7 871.8 601.6 870.7 602.3ZM864.8 594.2C863.9 594.8 863.0 595.3 862.0 595.8C861.0 596.3 860.0 596.6 858.9 596.9C857.8 597.2 856.7 597.4 855.5 597.5C854.3 597.6 853.1 597.6 851.8 597.5C850.6 597.4 849.2 597.3 847.9 597.0C846.6 596.8 845.2 596.4 843.8 596.0C842.4 595.5 841.0 595.0 839.6 594.4C838.2 593.8 836.7 593.1 835.3 592.3C833.8 591.5 832.3 590.7 830.9 589.8C829.4 588.8 828.0 587.8 826.5 586.7C825.1 585.7 823.6 584.5 822.2 583.3C820.8 582.1 819.3 580.8 818.0 579.5C816.6 578.1 815.2 576.7 813.9 575.3C812.5 573.8 811.2 572.3 810.0 570.8C808.7 569.3 807.5 567.7 806.3 566.1C805.1 564.5 804.0 562.8 802.9 561.1C801.8 559.5 800.8 557.8 799.8 556.1C798.9 554.4 797.9 552.6 797.1 550.9C796.2 549.2 795.4 547.5 794.7 545.7C794.0 544.0 793.3 542.3 792.7 540.6C792.1 538.9 791.6 537.2 791.2 535.5C790.7 533.8 790.3 532.2 790.0 530.5C789.7 528.9 789.5 527.3 789.4 525.8C789.2 524.2 789.2 522.7 789.2 521.3C789.2 519.8 789.2 518.4 789.4 517.1C789.6 515.7 789.8 514.4 790.1 513.2C790.4 512.0 790.8 510.8 791.2 509.7C791.7 508.6 792.2 507.6 792.8 506.6C793.4 505.7 794.1 504.8 794.8 504.0C795.6 503.2 796.4 502.5 797.2 501.8C798.1 501.2 799.0 500.7 800.0 500.2C801.0 499.7 802.0 499.4 803.1 499.1C804.2 498.8 805.3 498.6 806.5 498.5C807.7 498.4 808.9 498.4 810.2 498.5C811.4 498.6 812.8 498.7 814.1 499.0C815.4 499.2 816.8 499.6 818.2 500.0C819.6 500.5 821.0 501.0 822.4 501.6C823.8 502.2 825.3 502.9 826.7 503.7C828.2 504.5 829.7 505.3 831.1 506.2C832.6 507.2 834.0 508.2 835.5 509.3C836.9 510.3 838.4 511.5 839.8 512.7C841.2 513.9 842.7 515.2 844.0 516.5C845.4 517.9 846.8 519.3 848.1 520.7C849.5 522.2 850.8 523.7 852.0 525.2C853.3 526.7 854.5 528.3 855.7 529.9C856.9 531.5 858.0 533.2 859.1 534.9C860.2 536.5 861.2 538.2 862.2 539.9C863.1 541.6 864.1 543.4 864.9 545.1C865.8 546.8 866.6 548.5 867.3 550.3C868.0 552.0 868.7 553.7 869.3 555.4C869.9 557.1 870.4 558.8 870.8 560.5C871.3 562.2 871.7 563.8 872.0 565.5C872.3 567.1 872.5 568.7 872.6 570.2C872.8 571.8 872.8 573.3 872.8 574.7C872.8 576.2 872.8 577.6 872.6 578.9C872.4 580.3 872.2 581.6 871.9 582.8C871.6 584.0 871.2 585.2 870.8 586.3C870.3 587.4 869.8 588.4 869.2 589.4C868.6 590.3 867.9 591.2 867.2 592.0C866.4 592.8 865.6 593.5 864.8 594.2ZM862.4 590.9C861.6 591.5 860.8 592.0 859.9 592.4C858.9 592.9 858.0 593.2 857.0 593.5C856.0 593.7 854.9 593.9 853.8 594.0C852.7 594.1 851.6 594.1 850.4 594.0C849.2 594.0 848.0 593.8 846.8 593.6C845.5 593.3 844.2 593.0 842.9 592.6C841.7 592.2 840.3 591.7 839.0 591.1C837.7 590.6 836.3 589.9 835.0 589.2C833.6 588.5 832.3 587.7 830.9 586.8C829.6 585.9 828.2 585.0 826.9 584.0C825.5 583.0 824.2 581.9 822.8 580.8C821.5 579.7 820.2 578.5 818.9 577.2C817.6 576.0 816.4 574.7 815.1 573.3C813.9 572.0 812.7 570.6 811.5 569.2C810.3 567.7 809.2 566.3 808.1 564.8C807.0 563.3 805.9 561.7 804.9 560.2C803.9 558.6 803.0 557.1 802.1 555.5C801.1 553.9 800.3 552.3 799.5 550.7C798.7 549.1 798.0 547.5 797.3 545.9C796.6 544.3 796.0 542.6 795.4 541.1C794.9 539.5 794.4 537.9 794.0 536.3C793.6 534.8 793.2 533.2 792.9 531.7C792.7 530.2 792.5 528.8 792.3 527.3C792.2 525.9 792.1 524.5 792.1 523.1C792.1 521.8 792.2 520.5 792.3 519.2C792.5 518.0 792.7 516.7 793.0 515.6C793.3 514.5 793.6 513.4 794.0 512.4C794.5 511.3 794.9 510.4 795.5 509.5C796.1 508.6 796.7 507.8 797.4 507.1C798.0 506.3 798.8 505.7 799.6 505.1C800.4 504.5 801.2 504.0 802.1 503.6C803.1 503.1 804.0 502.8 805.0 502.5C806.0 502.3 807.1 502.1 808.2 502.0C809.3 501.9 810.4 501.9 811.6 502.0C812.8 502.0 814.0 502.2 815.2 502.4C816.5 502.7 817.8 503.0 819.1 503.4C820.3 503.8 821.7 504.3 823.0 504.9C824.3 505.4 825.7 506.1 827.0 506.8C828.4 507.5 829.7 508.3 831.1 509.2C832.4 510.1 833.8 511.0 835.1 512.0C836.5 513.0 837.8 514.1 839.2 515.2C840.5 516.3 841.8 517.5 843.1 518.8C844.4 520.0 845.6 521.3 846.9 522.7C848.1 524.0 849.3 525.4 850.5 526.8C851.7 528.3 852.8 529.7 853.9 531.2C855.0 532.7 856.1 534.3 857.1 535.8C858.1 537.4 859.0 538.9 859.9 540.5C860.9 542.1 861.7 543.7 862.5 545.3C863.3 546.9 864.0 548.5 864.7 550.1C865.4 551.7 866.0 553.4 866.6 554.9C867.1 556.5 867.6 558.1 868.0 559.7C868.4 561.2 868.8 562.8 869.1 564.3C869.3 565.8 869.5 567.2 869.7 568.7C869.8 570.1 869.9 571.5 869.9 572.9C869.9 574.2 869.8 575.5 869.7 576.8C869.5 578.0 869.3 579.3 869.0 580.4C868.7 581.5 868.4 582.6 868.0 583.6C867.5 584.7 867.1 585.6 866.5 586.5C865.9 587.4 865.3 588.2 864.6 588.9C864.0 589.7 863.2 590.3 862.4 590.9ZM846.3 571.5C845.9 571.8 845.5 572.0 845.1 572.2C844.7 572.4 844.3 572.6 843.8 572.7C843.3 572.8 842.9 572.9 842.4 572.9C841.8 573.0 841.3 573.0 840.8 573.0C840.3 572.9 839.7 572.9 839.1 572.8C838.6 572.6 838.0 572.5 837.4 572.3C836.8 572.1 836.2 571.9 835.6 571.6C835.0 571.4 834.4 571.1 833.8 570.8C833.2 570.4 832.5 570.1 831.9 569.7C831.3 569.3 830.7 568.9 830.1 568.4C829.4 568.0 828.8 567.5 828.2 567.0C827.6 566.4 827.0 565.9 826.4 565.3C825.9 564.8 825.3 564.2 824.7 563.6C824.1 563.0 823.6 562.3 823.1 561.7C822.5 561.0 822.0 560.4 821.5 559.7C821.0 559.0 820.5 558.3 820.1 557.6C819.6 556.9 819.2 556.2 818.8 555.4C818.4 554.7 818.0 554.0 817.6 553.3C817.2 552.5 816.9 551.8 816.6 551.1C816.3 550.3 816.0 549.6 815.8 548.9C815.5 548.2 815.3 547.4 815.1 546.7C814.9 546.0 814.8 545.3 814.6 544.6C814.5 544.0 814.4 543.3 814.4 542.6C814.3 542.0 814.3 541.3 814.3 540.7C814.3 540.1 814.3 539.5 814.4 538.9C814.4 538.4 814.5 537.8 814.7 537.3C814.8 536.8 815.0 536.3 815.2 535.8C815.4 535.3 815.6 534.9 815.8 534.5C816.1 534.1 816.4 533.7 816.7 533.4C817.0 533.0 817.3 532.7 817.7 532.5C818.1 532.2 818.5 532.0 818.9 531.8C819.3 531.6 819.7 531.4 820.2 531.3C820.7 531.2 821.1 531.1 821.6 531.1C822.2 531.0 822.7 531.0 823.2 531.0C823.7 531.1 824.3 531.1 824.9 531.2C825.4 531.4 826.0 531.5 826.6 531.7C827.2 531.9 827.8 532.1 828.4 532.4C829.0 532.6 829.6 532.9 830.2 533.2C830.8 533.6 831.5 533.9 832.1 534.3C832.7 534.7 833.3 535.1 833.9 535.6C834.6 536.0 835.2 536.5 835.8 537.0C836.4 537.6 837.0 538.1 837.6 538.7C838.1 539.2 838.7 539.8 839.3 540.4C839.9 541.0 840.4 541.7 840.9 542.3C841.5 543.0 842.0 543.6 842.5 544.3C843.0 545.0 843.5 545.7 843.9 546.4C844.4 547.1 844.8 547.8 845.2 548.6C845.6 549.3 846.0 550.0 846.4 550.7C846.8 551.5 847.1 552.2 847.4 552.9C847.7 553.7 848.0 554.4 848.2 555.1C848.5 555.8 848.7 556.6 848.9 557.3C849.1 558.0 849.2 558.7 849.4 559.4C849.5 560.0 849.6 560.7 849.6 561.4C849.7 562.0 849.7 562.7 849.7 563.3C849.7 563.9 849.7 564.5 849.6 565.1C849.6 565.6 849.5 566.2 849.3 566.7C849.2 567.2 849.0 567.7 848.8 568.2C848.6 568.7 848.4 569.1 848.2 569.5C847.9 569.9 847.6 570.3 847.3 570.6C847.0 571.0 846.7 571.3 846.3 571.5ZM796.7 507.0C796.8 506.2 797.1 503.6 797.4 502.1C797.7 500.5 798.2 499.0 798.7 497.6C799.2 496.2 799.8 494.9 800.5 493.6C801.2 492.4 801.9 491.2 802.8 490.2C803.6 489.1 804.6 488.2 805.6 487.3C806.6 486.5 807.7 485.7 808.9 485.1C810.1 484.4 811.3 483.9 812.6 483.5C813.9 483.0 815.3 482.7 816.7 482.5C818.1 482.3 819.6 482.2 821.2 482.2C822.7 482.2 824.3 482.4 825.9 482.6C827.5 482.8 829.2 483.2 830.9 483.6C832.6 484.1 834.3 484.6 836.0 485.3C837.8 486.0 839.6 486.7 841.3 487.6C843.1 488.5 844.9 489.5 846.7 490.5C848.5 491.6 850.3 492.8 852.1 494.0C853.9 495.3 855.7 496.6 857.4 498.1C859.2 499.5 861.0 501.0 862.7 502.6C864.4 504.2 866.1 505.8 867.8 507.6C869.4 509.3 871.0 511.1 872.6 512.9C874.2 514.8 875.7 516.7 877.2 518.6C878.7 520.5 880.1 522.5 881.5 524.6C882.8 526.6 884.1 528.6 885.4 530.7C886.6 532.8 887.8 534.9 888.9 537.0C890.0 539.1 891.0 541.2 891.9 543.4C892.9 545.5 893.7 547.6 894.5 549.7C895.3 551.8 895.9 553.9 896.5 556.0C897.1 558.1 897.6 560.1 898.1 562.1C898.5 564.1 898.8 566.1 899.0 568.0C899.3 570.0 899.4 571.9 899.5 573.7C899.5 575.5 899.5 577.3 899.3 579.0C899.2 580.7 898.9 582.4 898.6 583.9C898.3 585.5 897.8 587.0 897.3 588.4C896.8 589.8 896.2 591.1 895.5 592.4C894.8 593.6 894.1 594.8 893.2 595.8C892.4 596.9 891.4 597.8 890.4 598.7C889.4 599.5 888.3 600.3 887.1 600.9C885.9 601.6 884.7 602.1 883.4 602.5C882.1 603.0 880.7 603.3 879.3 603.5C877.9 603.7 876.4 603.8 874.8 603.8C873.3 603.8 871.7 603.6 870.1 603.4C868.5 603.2 866.8 602.8 865.1 602.4C863.4 601.9 861.7 601.4 860.0 600.7C858.2 600.0 856.4 599.3 854.7 598.4C852.9 597.5 851.1 596.5 849.3 595.5C847.5 594.4 845.7 593.2 843.9 592.0C842.1 590.7 840.3 589.4 838.6 587.9C836.8 586.5 834.2 584.2 833.3 583.4M850.6 498.4C851.5 499.1 854.1 501.1 855.8 502.6C857.5 504.0 859.2 505.5 860.9 507.1C862.6 508.7 864.2 510.4 865.8 512.1C867.4 513.9 869.0 515.7 870.5 517.5C872.0 519.3 873.4 521.2 874.9 523.1C876.3 525.1 877.6 527.1 878.9 529.0C880.2 531.0 881.5 533.1 882.6 535.1C883.8 537.2 884.9 539.2 885.9 541.3C886.9 543.4 887.9 545.5 888.7 547.5C889.6 549.6 890.4 551.7 891.1 553.7C891.8 555.8 892.4 557.8 892.9 559.8C893.5 561.8 893.9 563.8 894.3 565.7C894.6 567.7 894.9 569.6 895.0 571.5C895.2 573.3 895.3 575.1 895.3 576.9C895.3 578.6 895.2 580.3 895.0 581.9C894.8 583.6 894.5 585.1 894.1 586.6C893.7 588.1 893.3 589.5 892.7 590.8C892.1 592.1 891.5 593.4 890.8 594.5C890.1 595.7 889.2 596.7 888.4 597.7C887.5 598.6 886.5 599.5 885.5 600.3C884.4 601.0 883.3 601.7 882.1 602.3C880.9 602.8 879.7 603.3 878.4 603.6C877.1 604.0 875.7 604.2 874.2 604.3C872.8 604.5 871.3 604.5 869.8 604.4C868.3 604.3 866.7 604.1 865.1 603.8C863.5 603.5 861.9 603.1 860.2 602.6C858.5 602.0 856.8 601.4 855.1 600.7C853.4 600.0 851.6 599.1 849.9 598.2C848.1 597.3 846.4 596.3 844.6 595.2C842.9 594.1 840.2 592.2 839.4 591.6"/>
<path fill="none" stroke="#1c1c1c" stroke-width="3.8" d="M868.0 598.5C867.0 599.2 866.0 599.8 864.9 600.3C863.9 600.8 862.7 601.2 861.5 601.5C860.4 601.8 859.1 602.0 857.8 602.2C856.5 602.3 855.2 602.3 853.8 602.2C852.4 602.1 851.0 601.9 849.5 601.6C848.0 601.4 846.5 601.0 845.0 600.5C843.5 600.0 841.9 599.4 840.4 598.8C838.8 598.1 837.2 597.4 835.6 596.5C834.1 595.7 832.5 594.7 830.9 593.7C829.3 592.7 827.7 591.6 826.1 590.4C824.5 589.2 822.9 587.9 821.3 586.6C819.8 585.3 818.2 583.9 816.7 582.4C815.2 581.0 813.7 579.4 812.2 577.9C810.8 576.3 809.4 574.6 808.0 573.0C806.6 571.3 805.3 569.5 804.0 567.8C802.7 566.0 801.4 564.2 800.3 562.4C799.1 560.6 797.9 558.7 796.9 556.9C795.8 555.0 794.8 553.1 793.9 551.2C792.9 549.3 792.1 547.4 791.3 545.5C790.5 543.6 789.7 541.7 789.1 539.9C788.5 538.0 787.9 536.1 787.4 534.3C786.9 532.5 786.5 530.7 786.2 528.9C785.8 527.1 785.6 525.4 785.4 523.7C785.3 522.0 785.2 520.4 785.2 518.8C785.2 517.2 785.3 515.6 785.5 514.1C785.6 512.7 785.9 511.2 786.2 509.9C786.6 508.6 787.0 507.3 787.5 506.1C788.0 504.9 788.6 503.7 789.2 502.7C789.9 501.7 790.6 500.7 791.4 499.8C792.2 499.0 793.1 498.2 794.0 497.5C795.0 496.8 796.0 496.2 797.1 495.7C798.1 495.2 799.3 494.8 800.5 494.5C801.6 494.2 802.9 494.0 804.2 493.8C805.5 493.7 806.8 493.7 808.2 493.8C809.6 493.9 811.0 494.1 812.5 494.4C814.0 494.6 815.5 495.0 817.0 495.5C818.5 496.0 820.1 496.6 821.6 497.2C823.2 497.9 824.8 498.6 826.4 499.5C827.9 500.3 829.5 501.3 831.1 502.3C832.7 503.3 834.3 504.4 835.9 505.6C837.5 506.8 839.1 508.1 840.7 509.4C842.2 510.7 843.8 512.1 845.3 513.6C846.8 515.0 848.3 516.6 849.8 518.1C851.2 519.7 852.6 521.4 854.0 523.0C855.4 524.7 856.7 526.5 858.0 528.2C859.3 530.0 860.6 531.8 861.7 533.6C862.9 535.4 864.1 537.3 865.1 539.1C866.2 541.0 867.2 542.9 868.1 544.8C869.1 546.7 869.9 548.6 870.7 550.5C871.5 552.4 872.3 554.3 872.9 556.1C873.5 558.0 874.1 559.9 874.6 561.7C875.1 563.5 875.5 565.3 875.8 567.1C876.2 568.9 876.4 570.6 876.6 572.3C876.7 574.0 876.8 575.6 876.8 577.2C876.8 578.8 876.7 580.4 876.5 581.9C876.4 583.3 876.1 584.8 875.8 586.1C875.4 587.4 875.0 588.7 874.5 589.9C874.0 591.1 873.4 592.3 872.8 593.3C872.1 594.3 871.4 595.3 870.6 596.2C869.8 597.0 868.9 597.8 868.0 598.5Z"/>
<path fill="none" stroke="#1c1c1c" stroke-width="1.6" d="M856.5 582.8C855.8 583.3 855.1 583.7 854.4 584.0C853.6 584.4 852.9 584.6 852.0 584.8C851.2 585.1 850.4 585.2 849.5 585.3C848.6 585.4 847.7 585.4 846.7 585.3C845.8 585.2 844.8 585.1 843.8 584.9C842.8 584.7 841.7 584.5 840.7 584.1C839.6 583.8 838.6 583.4 837.5 582.9C836.4 582.5 835.3 582.0 834.2 581.4C833.1 580.8 832.0 580.1 830.9 579.4C829.8 578.7 828.7 578.0 827.7 577.2C826.6 576.3 825.5 575.5 824.4 574.6C823.3 573.6 822.3 572.7 821.2 571.7C820.2 570.7 819.1 569.6 818.1 568.5C817.1 567.4 816.2 566.3 815.2 565.1C814.3 564.0 813.3 562.8 812.4 561.6C811.6 560.4 810.7 559.1 809.9 557.9C809.1 556.6 808.3 555.3 807.6 554.1C806.8 552.8 806.1 551.5 805.5 550.2C804.8 548.9 804.2 547.6 803.7 546.3C803.1 545.0 802.6 543.7 802.2 542.4C801.8 541.1 801.4 539.8 801.0 538.5C800.7 537.3 800.4 536.0 800.2 534.8C799.9 533.6 799.8 532.4 799.7 531.2C799.6 530.1 799.5 528.9 799.5 527.8C799.5 526.8 799.6 525.7 799.7 524.7C799.8 523.7 800.0 522.7 800.2 521.8C800.4 520.8 800.7 519.9 801.1 519.1C801.4 518.3 801.8 517.5 802.2 516.8C802.7 516.1 803.2 515.4 803.7 514.8C804.3 514.2 804.9 513.7 805.5 513.2C806.2 512.7 806.9 512.3 807.6 512.0C808.4 511.6 809.1 511.4 810.0 511.2C810.8 510.9 811.6 510.8 812.5 510.7C813.4 510.6 814.3 510.6 815.3 510.7C816.2 510.8 817.2 510.9 818.2 511.1C819.2 511.3 820.3 511.5 821.3 511.9C822.4 512.2 823.4 512.6 824.5 513.1C825.6 513.5 826.7 514.0 827.8 514.6C828.9 515.2 830.0 515.9 831.1 516.6C832.2 517.3 833.3 518.0 834.3 518.8C835.4 519.7 836.5 520.5 837.6 521.4C838.7 522.4 839.7 523.3 840.8 524.3C841.8 525.3 842.9 526.4 843.9 527.5C844.9 528.6 845.8 529.7 846.8 530.9C847.7 532.0 848.7 533.2 849.6 534.4C850.4 535.6 851.3 536.9 852.1 538.1C852.9 539.4 853.7 540.7 854.4 541.9C855.2 543.2 855.9 544.5 856.5 545.8C857.2 547.1 857.8 548.4 858.3 549.7C858.9 551.0 859.4 552.3 859.8 553.6C860.2 554.9 860.6 556.2 861.0 557.5C861.3 558.7 861.6 560.0 861.8 561.2C862.1 562.4 862.2 563.6 862.3 564.8C862.4 565.9 862.5 567.1 862.5 568.2C862.5 569.2 862.4 570.3 862.3 571.3C862.2 572.3 862.0 573.3 861.8 574.2C861.6 575.2 861.3 576.1 860.9 576.9C860.6 577.7 860.2 578.5 859.8 579.2C859.3 579.9 858.8 580.6 858.3 581.2C857.7 581.8 857.1 582.3 856.5 582.8ZM844.3 568.9C844.0 569.1 843.7 569.3 843.3 569.5C843.0 569.6 842.6 569.8 842.2 569.9C841.8 570.0 841.4 570.0 840.9 570.1C840.5 570.1 840.1 570.1 839.6 570.1C839.1 570.1 838.7 570.0 838.2 569.9C837.7 569.8 837.2 569.7 836.7 569.5C836.2 569.4 835.6 569.2 835.1 569.0C834.6 568.7 834.1 568.5 833.5 568.2C833.0 567.9 832.5 567.6 831.9 567.3C831.4 566.9 830.9 566.6 830.3 566.2C829.8 565.8 829.3 565.3 828.8 564.9C828.2 564.5 827.7 564.0 827.2 563.5C826.7 563.0 826.2 562.5 825.7 562.0C825.2 561.4 824.8 560.9 824.3 560.3C823.8 559.8 823.4 559.2 823.0 558.6C822.5 558.0 822.1 557.4 821.7 556.8C821.3 556.2 820.9 555.6 820.6 555.0C820.2 554.3 819.9 553.7 819.6 553.1C819.3 552.4 819.0 551.8 818.7 551.2C818.5 550.6 818.2 549.9 818.0 549.3C817.8 548.7 817.6 548.0 817.4 547.4C817.3 546.8 817.1 546.2 817.0 545.6C816.9 545.0 816.8 544.5 816.8 543.9C816.7 543.3 816.7 542.8 816.7 542.2C816.7 541.7 816.7 541.2 816.8 540.7C816.8 540.2 816.9 539.7 817.0 539.3C817.2 538.8 817.3 538.4 817.5 538.0C817.6 537.6 817.8 537.2 818.0 536.9C818.3 536.5 818.5 536.2 818.8 535.9C819.0 535.6 819.3 535.4 819.7 535.1C820.0 534.9 820.3 534.7 820.7 534.5C821.0 534.4 821.4 534.2 821.8 534.1C822.2 534.0 822.6 534.0 823.1 533.9C823.5 533.9 823.9 533.9 824.4 533.9C824.9 533.9 825.3 534.0 825.8 534.1C826.3 534.2 826.8 534.3 827.3 534.5C827.8 534.6 828.4 534.8 828.9 535.0C829.4 535.3 829.9 535.5 830.5 535.8C831.0 536.1 831.5 536.4 832.1 536.7C832.6 537.1 833.1 537.4 833.7 537.8C834.2 538.2 834.7 538.7 835.2 539.1C835.8 539.5 836.3 540.0 836.8 540.5C837.3 541.0 837.8 541.5 838.3 542.0C838.8 542.6 839.2 543.1 839.7 543.7C840.2 544.2 840.6 544.8 841.0 545.4C841.5 546.0 841.9 546.6 842.3 547.2C842.7 547.8 843.1 548.4 843.4 549.0C843.8 549.7 844.1 550.3 844.4 550.9C844.7 551.6 845.0 552.2 845.3 552.8C845.5 553.4 845.8 554.1 846.0 554.7C846.2 555.3 846.4 556.0 846.6 556.6C846.7 557.2 846.9 557.8 847.0 558.4C847.1 559.0 847.2 559.5 847.2 560.1C847.3 560.7 847.3 561.2 847.3 561.8C847.3 562.3 847.3 562.8 847.2 563.3C847.2 563.8 847.1 564.3 847.0 564.7C846.8 565.2 846.7 565.6 846.5 566.0C846.4 566.4 846.2 566.8 846.0 567.1C845.7 567.5 845.5 567.8 845.2 568.1C845.0 568.4 844.7 568.6 844.3 568.9Z"/>
<path fill="none" stroke="#1c1c1c" stroke-width="4" d="M841.2 564.5C840.9 564.7 840.7 564.8 840.4 565.0C840.1 565.1 839.9 565.2 839.6 565.3C839.3 565.3 839.0 565.4 838.6 565.4C838.3 565.4 838.0 565.4 837.6 565.4C837.3 565.4 836.9 565.4 836.6 565.3C836.2 565.2 835.8 565.1 835.5 565.0C835.1 564.9 834.7 564.7 834.3 564.6C833.9 564.4 833.5 564.2 833.1 564.0C832.8 563.8 832.4 563.6 832.0 563.3C831.6 563.1 831.2 562.8 830.8 562.5C830.4 562.2 830.0 561.9 829.6 561.6C829.2 561.2 828.8 560.9 828.5 560.5C828.1 560.2 827.7 559.8 827.4 559.4C827.0 559.0 826.6 558.6 826.3 558.2C826.0 557.8 825.6 557.3 825.3 556.9C825.0 556.5 824.7 556.0 824.4 555.6C824.1 555.1 823.8 554.7 823.5 554.2C823.3 553.7 823.0 553.3 822.8 552.8C822.6 552.3 822.4 551.9 822.2 551.4C822.0 550.9 821.8 550.5 821.6 550.0C821.5 549.5 821.3 549.1 821.2 548.6C821.1 548.2 821.0 547.7 820.9 547.3C820.8 546.8 820.8 546.4 820.7 546.0C820.7 545.6 820.7 545.2 820.7 544.8C820.7 544.4 820.7 544.0 820.7 543.6C820.8 543.3 820.8 542.9 820.9 542.6C821.0 542.2 821.1 541.9 821.2 541.6C821.3 541.3 821.5 541.0 821.7 540.8C821.8 540.5 822.0 540.3 822.2 540.1C822.4 539.9 822.6 539.7 822.8 539.5C823.1 539.3 823.3 539.2 823.6 539.0C823.9 538.9 824.1 538.8 824.4 538.7C824.7 538.7 825.0 538.6 825.4 538.6C825.7 538.6 826.0 538.6 826.4 538.6C826.7 538.6 827.1 538.6 827.4 538.7C827.8 538.8 828.2 538.9 828.5 539.0C828.9 539.1 829.3 539.3 829.7 539.4C830.1 539.6 830.5 539.8 830.9 540.0C831.2 540.2 831.6 540.4 832.0 540.7C832.4 540.9 832.8 541.2 833.2 541.5C833.6 541.8 834.0 542.1 834.4 542.4C834.8 542.8 835.2 543.1 835.5 543.5C835.9 543.8 836.3 544.2 836.6 544.6C837.0 545.0 837.4 545.4 837.7 545.8C838.0 546.2 838.4 546.7 838.7 547.1C839.0 547.5 839.3 548.0 839.6 548.4C839.9 548.9 840.2 549.3 840.5 549.8C840.7 550.3 841.0 550.7 841.2 551.2C841.4 551.7 841.6 552.1 841.8 552.6C842.0 553.1 842.2 553.5 842.4 554.0C842.5 554.5 842.7 554.9 842.8 555.4C842.9 555.8 843.0 556.3 843.1 556.7C843.2 557.2 843.2 557.6 843.3 558.0C843.3 558.4 843.3 558.8 843.3 559.2C843.3 559.6 843.3 560.0 843.3 560.4C843.2 560.7 843.2 561.1 843.1 561.4C843.0 561.8 842.9 562.1 842.8 562.4C842.7 562.7 842.5 563.0 842.3 563.2C842.2 563.5 842.0 563.7 841.8 563.9C841.6 564.1 841.4 564.3 841.2 564.5Z"/>
<path fill="none" stroke="#1c1c1c" stroke-width="2" d="M836.4 558.0C836.3 558.1 836.1 558.1 836.0 558.2C835.9 558.2 835.7 558.3 835.6 558.3C835.5 558.4 835.3 558.4 835.2 558.4C835.0 558.4 834.8 558.4 834.7 558.4C834.5 558.4 834.3 558.4 834.2 558.4C834.0 558.3 833.8 558.3 833.6 558.2C833.5 558.2 833.3 558.1 833.1 558.0C832.9 557.9 832.7 557.9 832.5 557.8C832.3 557.7 832.1 557.5 832.0 557.4C831.8 557.3 831.6 557.2 831.4 557.0C831.2 556.9 831.0 556.7 830.8 556.6C830.6 556.4 830.5 556.3 830.3 556.1C830.1 555.9 829.9 555.7 829.8 555.6C829.6 555.4 829.4 555.2 829.2 555.0C829.1 554.8 828.9 554.6 828.8 554.4C828.6 554.2 828.5 553.9 828.3 553.7C828.2 553.5 828.1 553.3 827.9 553.1C827.8 552.8 827.7 552.6 827.6 552.4C827.5 552.2 827.4 552.0 827.3 551.7C827.2 551.5 827.1 551.3 827.0 551.1C826.9 550.8 826.9 550.6 826.8 550.4C826.8 550.2 826.7 550.0 826.7 549.8C826.6 549.6 826.6 549.3 826.6 549.1C826.6 548.9 826.6 548.7 826.6 548.6C826.6 548.4 826.6 548.2 826.6 548.0C826.6 547.8 826.7 547.7 826.7 547.5C826.7 547.3 826.8 547.2 826.8 547.1C826.9 546.9 827.0 546.8 827.1 546.7C827.1 546.5 827.2 546.4 827.3 546.3C827.4 546.2 827.5 546.1 827.6 546.0C827.7 545.9 827.9 545.9 828.0 545.8C828.1 545.8 828.3 545.7 828.4 545.7C828.5 545.6 828.7 545.6 828.8 545.6C829.0 545.6 829.2 545.6 829.3 545.6C829.5 545.6 829.7 545.6 829.8 545.6C830.0 545.7 830.2 545.7 830.4 545.8C830.5 545.8 830.7 545.9 830.9 546.0C831.1 546.1 831.3 546.1 831.5 546.2C831.7 546.3 831.9 546.5 832.0 546.6C832.2 546.7 832.4 546.8 832.6 547.0C832.8 547.1 833.0 547.3 833.2 547.4C833.4 547.6 833.5 547.7 833.7 547.9C833.9 548.1 834.1 548.3 834.2 548.4C834.4 548.6 834.6 548.8 834.8 549.0C834.9 549.2 835.1 549.4 835.2 549.6C835.4 549.8 835.5 550.1 835.7 550.3C835.8 550.5 835.9 550.7 836.1 550.9C836.2 551.2 836.3 551.4 836.4 551.6C836.5 551.8 836.6 552.0 836.7 552.3C836.8 552.5 836.9 552.7 837.0 552.9C837.1 553.2 837.1 553.4 837.2 553.6C837.2 553.8 837.3 554.0 837.3 554.2C837.4 554.4 837.4 554.7 837.4 554.9C837.4 555.1 837.4 555.3 837.4 555.4C837.4 555.6 837.4 555.8 837.4 556.0C837.4 556.2 837.3 556.3 837.3 556.5C837.3 556.7 837.2 556.8 837.2 556.9C837.1 557.1 837.0 557.2 836.9 557.3C836.9 557.5 836.8 557.6 836.7 557.7C836.6 557.8 836.5 557.9 836.4 558.0Z"/>
</g>
<g>
<path fill="#1c1c1c" stroke="#1c1c1c" stroke-width="1.6" d="M767.7 508.9C767.8 509.0 767.8 509.1 767.9 509.2C767.9 509.3 768.0 509.4 768.0 509.5C768.1 509.7 768.1 509.8 768.1 509.9C768.1 510.0 768.1 510.2 768.1 510.3C768.1 510.4 768.1 510.6 768.1 510.7C768.1 510.8 768.1 511.0 768.1 511.1C768.0 511.2 768.0 511.4 768.0 511.5C767.9 511.6 767.9 511.7 767.8 511.9C767.8 512.0 767.7 512.1 767.6 512.3C767.6 512.4 767.5 512.5 767.4 512.6C767.3 512.7 767.3 512.9 767.2 513.0C767.1 513.1 767.0 513.2 766.9 513.3C766.8 513.4 766.6 513.5 766.5 513.6C766.4 513.7 766.3 513.8 766.2 513.9C766.1 514.0 765.9 514.0 765.8 514.1C765.7 514.2 765.5 514.3 765.4 514.3C765.3 514.4 765.1 514.4 765.0 514.5C764.8 514.5 764.7 514.6 764.6 514.6C764.4 514.7 764.3 514.7 764.1 514.7C764.0 514.7 763.8 514.8 763.7 514.8C763.6 514.8 763.4 514.8 763.3 514.8C763.1 514.8 763.0 514.8 762.8 514.8C762.7 514.7 762.6 514.7 762.4 514.7C762.3 514.7 762.2 514.6 762.0 514.6C761.9 514.5 761.8 514.5 761.7 514.4C761.6 514.4 761.4 514.3 761.3 514.2C761.2 514.2 761.1 514.1 761.0 514.0C760.9 513.9 760.8 513.8 760.7 513.8C760.6 513.7 760.6 513.6 760.5 513.5C760.4 513.4 760.3 513.3 760.3 513.1C760.2 513.0 760.2 512.9 760.1 512.8C760.1 512.7 760.0 512.6 760.0 512.5C759.9 512.3 759.9 512.2 759.9 512.1C759.9 512.0 759.9 511.8 759.9 511.7C759.9 511.6 759.9 511.4 759.9 511.3C759.9 511.2 759.9 511.0 759.9 510.9C760.0 510.8 760.0 510.6 760.0 510.5C760.1 510.4 760.1 510.3 760.2 510.1C760.2 510.0 760.3 509.9 760.4 509.7C760.4 509.6 760.5 509.5 760.6 509.4C760.7 509.3 760.7 509.1 760.8 509.0C760.9 508.9 761.0 508.8 761.1 508.7C761.2 508.6 761.4 508.5 761.5 508.4C761.6 508.3 761.7 508.2 761.8 508.1C761.9 508.0 762.1 508.0 762.2 507.9C762.3 507.8 762.5 507.7 762.6 507.7C762.7 507.6 762.9 507.6 763.0 507.5C763.2 507.5 763.3 507.4 763.4 507.4C763.6 507.3 763.7 507.3 763.9 507.3C764.0 507.3 764.2 507.2 764.3 507.2C764.4 507.2 764.6 507.2 764.7 507.2C764.9 507.2 765.0 507.2 765.2 507.2C765.3 507.3 765.4 507.3 765.6 507.3C765.7 507.3 765.8 507.4 766.0 507.4C766.1 507.5 766.2 507.5 766.3 507.6C766.4 507.6 766.6 507.7 766.7 507.8C766.8 507.8 766.9 507.9 767.0 508.0C767.1 508.1 767.2 508.2 767.3 508.2C767.4 508.3 767.4 508.4 767.5 508.5C767.6 508.6 767.7 508.7 767.7 508.9ZM747.7 529.9C747.8 530.0 747.8 530.1 747.9 530.2C747.9 530.3 748.0 530.4 748.0 530.5C748.1 530.7 748.1 530.8 748.1 530.9C748.1 531.0 748.1 531.2 748.1 531.3C748.1 531.4 748.1 531.6 748.1 531.7C748.1 531.8 748.1 532.0 748.1 532.1C748.0 532.2 748.0 532.4 748.0 532.5C747.9 532.6 747.9 532.7 747.8 532.9C747.8 533.0 747.7 533.1 747.6 533.3C747.6 533.4 747.5 533.5 747.4 533.6C747.3 533.7 747.3 533.9 747.2 534.0C747.1 534.1 747.0 534.2 746.9 534.3C746.8 534.4 746.6 534.5 746.5 534.6C746.4 534.7 746.3 534.8 746.2 534.9C746.1 535.0 745.9 535.0 745.8 535.1C745.7 535.2 745.5 535.3 745.4 535.3C745.3 535.4 745.1 535.4 745.0 535.5C744.8 535.5 744.7 535.6 744.6 535.6C744.4 535.7 744.3 535.7 744.1 535.7C744.0 535.7 743.8 535.8 743.7 535.8C743.6 535.8 743.4 535.8 743.3 535.8C743.1 535.8 743.0 535.8 742.8 535.8C742.7 535.7 742.6 535.7 742.4 535.7C742.3 535.7 742.2 535.6 742.0 535.6C741.9 535.5 741.8 535.5 741.7 535.4C741.6 535.4 741.4 535.3 741.3 535.2C741.2 535.2 741.1 535.1 741.0 535.0C740.9 534.9 740.8 534.8 740.7 534.8C740.6 534.7 740.6 534.6 740.5 534.5C740.4 534.4 740.3 534.3 740.3 534.1C740.2 534.0 740.2 533.9 740.1 533.8C740.1 533.7 740.0 533.6 740.0 533.5C739.9 533.3 739.9 533.2 739.9 533.1C739.9 533.0 739.9 532.8 739.9 532.7C739.9 532.6 739.9 532.4 739.9 532.3C739.9 532.2 739.9 532.0 739.9 531.9C740.0 531.8 740.0 531.6 740.0 531.5C740.1 531.4 740.1 531.3 740.2 531.1C740.2 531.0 740.3 530.9 740.4 530.7C740.4 530.6 740.5 530.5 740.6 530.4C740.7 530.3 740.7 530.1 740.8 530.0C740.9 529.9 741.0 529.8 741.1 529.7C741.2 529.6 741.4 529.5 741.5 529.4C741.6 529.3 741.7 529.2 741.8 529.1C741.9 529.0 742.1 529.0 742.2 528.9C742.3 528.8 742.5 528.7 742.6 528.7C742.7 528.6 742.9 528.6 743.0 528.5C743.2 528.5 743.3 528.4 743.4 528.4C743.6 528.3 743.7 528.3 743.9 528.3C744.0 528.3 744.2 528.2 744.3 528.2C744.4 528.2 744.6 528.2 744.7 528.2C744.9 528.2 745.0 528.2 745.2 528.2C745.3 528.3 745.4 528.3 745.6 528.3C745.7 528.3 745.8 528.4 746.0 528.4C746.1 528.5 746.2 528.5 746.3 528.6C746.4 528.6 746.6 528.7 746.7 528.8C746.8 528.8 746.9 528.9 747.0 529.0C747.1 529.1 747.2 529.2 747.3 529.2C747.4 529.3 747.4 529.4 747.5 529.5C747.6 529.6 747.7 529.7 747.7 529.9ZM756.7 576.9C756.8 577.0 756.8 577.1 756.9 577.2C756.9 577.3 757.0 577.4 757.0 577.5C757.1 577.7 757.1 577.8 757.1 577.9C757.1 578.0 757.1 578.2 757.1 578.3C757.1 578.4 757.1 578.6 757.1 578.7C757.1 578.8 757.1 579.0 757.1 579.1C757.0 579.2 757.0 579.4 757.0 579.5C756.9 579.6 756.9 579.7 756.8 579.9C756.8 580.0 756.7 580.1 756.6 580.3C756.6 580.4 756.5 580.5 756.4 580.6C756.3 580.7 756.3 580.9 756.2 581.0C756.1 581.1 756.0 581.2 755.9 581.3C755.8 581.4 755.6 581.5 755.5 581.6C755.4 581.7 755.3 581.8 755.2 581.9C755.1 582.0 754.9 582.0 754.8 582.1C754.7 582.2 754.5 582.3 754.4 582.3C754.3 582.4 754.1 582.4 754.0 582.5C753.8 582.5 753.7 582.6 753.6 582.6C753.4 582.7 753.3 582.7 753.1 582.7C753.0 582.7 752.8 582.8 752.7 582.8C752.6 582.8 752.4 582.8 752.3 582.8C752.1 582.8 752.0 582.8 751.8 582.8C751.7 582.7 751.6 582.7 751.4 582.7C751.3 582.7 751.2 582.6 751.0 582.6C750.9 582.5 750.8 582.5 750.7 582.4C750.6 582.4 750.4 582.3 750.3 582.2C750.2 582.2 750.1 582.1 750.0 582.0C749.9 581.9 749.8 581.8 749.7 581.8C749.6 581.7 749.6 581.6 749.5 581.5C749.4 581.4 749.3 581.3 749.3 581.1C749.2 581.0 749.2 580.9 749.1 580.8C749.1 580.7 749.0 580.6 749.0 580.5C748.9 580.3 748.9 580.2 748.9 580.1C748.9 580.0 748.9 579.8 748.9 579.7C748.9 579.6 748.9 579.4 748.9 579.3C748.9 579.2 748.9 579.0 748.9 578.9C749.0 578.8 749.0 578.6 749.0 578.5C749.1 578.4 749.1 578.3 749.2 578.1C749.2 578.0 749.3 577.9 749.4 577.7C749.4 577.6 749.5 577.5 749.6 577.4C749.7 577.3 749.7 577.1 749.8 577.0C749.9 576.9 750.0 576.8 750.1 576.7C750.2 576.6 750.4 576.5 750.5 576.4C750.6 576.3 750.7 576.2 750.8 576.1C750.9 576.0 751.1 576.0 751.2 575.9C751.3 575.8 751.5 575.7 751.6 575.7C751.7 575.6 751.9 575.6 752.0 575.5C752.2 575.5 752.3 575.4 752.4 575.4C752.6 575.3 752.7 575.3 752.9 575.3C753.0 575.3 753.2 575.2 753.3 575.2C753.4 575.2 753.6 575.2 753.7 575.2C753.9 575.2 754.0 575.2 754.2 575.2C754.3 575.3 754.4 575.3 754.6 575.3C754.7 575.3 754.8 575.4 755.0 575.4C755.1 575.5 755.2 575.5 755.3 575.6C755.4 575.6 755.6 575.7 755.7 575.8C755.8 575.8 755.9 575.9 756.0 576.0C756.1 576.1 756.2 576.2 756.3 576.2C756.4 576.3 756.4 576.4 756.5 576.5C756.6 576.6 756.7 576.7 756.7 576.9ZM810.7 525.9C810.8 526.0 810.8 526.1 810.9 526.2C810.9 526.3 811.0 526.4 811.0 526.5C811.1 526.7 811.1 526.8 811.1 526.9C811.1 527.0 811.1 527.2 811.1 527.3C811.1 527.4 811.1 527.6 811.1 527.7C811.1 527.8 811.1 528.0 811.1 528.1C811.0 528.2 811.0 528.4 811.0 528.5C810.9 528.6 810.9 528.7 810.8 528.9C810.8 529.0 810.7 529.1 810.6 529.3C810.6 529.4 810.5 529.5 810.4 529.6C810.3 529.7 810.3 529.9 810.2 530.0C810.1 530.1 810.0 530.2 809.9 530.3C809.8 530.4 809.6 530.5 809.5 530.6C809.4 530.7 809.3 530.8 809.2 530.9C809.1 531.0 808.9 531.0 808.8 531.1C808.7 531.2 808.5 531.3 808.4 531.3C808.3 531.4 808.1 531.4 808.0 531.5C807.8 531.5 807.7 531.6 807.6 531.6C807.4 531.7 807.3 531.7 807.1 531.7C807.0 531.7 806.8 531.8 806.7 531.8C806.6 531.8 806.4 531.8 806.3 531.8C806.1 531.8 806.0 531.8 805.8 531.8C805.7 531.7 805.6 531.7 805.4 531.7C805.3 531.7 805.2 531.6 805.0 531.6C804.9 531.5 804.8 531.5 804.7 531.4C804.6 531.4 804.4 531.3 804.3 531.2C804.2 531.2 804.1 531.1 804.0 531.0C803.9 530.9 803.8 530.8 803.7 530.8C803.6 530.7 803.6 530.6 803.5 530.5C803.4 530.4 803.3 530.3 803.3 530.1C803.2 530.0 803.2 529.9 803.1 529.8C803.1 529.7 803.0 529.6 803.0 529.5C802.9 529.3 802.9 529.2 802.9 529.1C802.9 529.0 802.9 528.8 802.9 528.7C802.9 528.6 802.9 528.4 802.9 528.3C802.9 528.2 802.9 528.0 802.9 527.9C803.0 527.8 803.0 527.6 803.0 527.5C803.1 527.4 803.1 527.3 803.2 527.1C803.2 527.0 803.3 526.9 803.4 526.7C803.4 526.6 803.5 526.5 803.6 526.4C803.7 526.3 803.7 526.1 803.8 526.0C803.9 525.9 804.0 525.8 804.1 525.7C804.2 525.6 804.4 525.5 804.5 525.4C804.6 525.3 804.7 525.2 804.8 525.1C804.9 525.0 805.1 525.0 805.2 524.9C805.3 524.8 805.5 524.7 805.6 524.7C805.7 524.6 805.9 524.6 806.0 524.5C806.2 524.5 806.3 524.4 806.4 524.4C806.6 524.3 806.7 524.3 806.9 524.3C807.0 524.3 807.2 524.2 807.3 524.2C807.4 524.2 807.6 524.2 807.7 524.2C807.9 524.2 808.0 524.2 808.2 524.2C808.3 524.3 808.4 524.3 808.6 524.3C808.7 524.3 808.8 524.4 809.0 524.4C809.1 524.5 809.2 524.5 809.3 524.6C809.4 524.6 809.6 524.7 809.7 524.8C809.8 524.8 809.9 524.9 810.0 525.0C810.1 525.1 810.2 525.2 810.3 525.2C810.4 525.3 810.4 525.4 810.5 525.5C810.6 525.6 810.7 525.7 810.7 525.9ZM844.7 575.9C844.8 576.0 844.8 576.1 844.9 576.2C844.9 576.3 845.0 576.4 845.0 576.5C845.1 576.7 845.1 576.8 845.1 576.9C845.1 577.0 845.1 577.2 845.1 577.3C845.1 577.4 845.1 577.6 845.1 577.7C845.1 577.8 845.1 578.0 845.1 578.1C845.0 578.2 845.0 578.4 845.0 578.5C844.9 578.6 844.9 578.7 844.8 578.9C844.8 579.0 844.7 579.1 844.6 579.3C844.6 579.4 844.5 579.5 844.4 579.6C844.3 579.7 844.3 579.9 844.2 580.0C844.1 580.1 844.0 580.2 843.9 580.3C843.8 580.4 843.6 580.5 843.5 580.6C843.4 580.7 843.3 580.8 843.2 580.9C843.1 581.0 842.9 581.0 842.8 581.1C842.7 581.2 842.5 581.3 842.4 581.3C842.3 581.4 842.1 581.4 842.0 581.5C841.8 581.5 841.7 581.6 841.6 581.6C841.4 581.7 841.3 581.7 841.1 581.7C841.0 581.7 840.8 581.8 840.7 581.8C840.6 581.8 840.4 581.8 840.3 581.8C840.1 581.8 840.0 581.8 839.8 581.8C839.7 581.7 839.6 581.7 839.4 581.7C839.3 581.7 839.2 581.6 839.0 581.6C838.9 581.5 838.8 581.5 838.7 581.4C838.6 581.4 838.4 581.3 838.3 581.2C838.2 581.2 838.1 581.1 838.0 581.0C837.9 580.9 837.8 580.8 837.7 580.8C837.6 580.7 837.6 580.6 837.5 580.5C837.4 580.4 837.3 580.3 837.3 580.1C837.2 580.0 837.2 579.9 837.1 579.8C837.1 579.7 837.0 579.6 837.0 579.5C836.9 579.3 836.9 579.2 836.9 579.1C836.9 579.0 836.9 578.8 836.9 578.7C836.9 578.6 836.9 578.4 836.9 578.3C836.9 578.2 836.9 578.0 836.9 577.9C837.0 577.8 837.0 577.6 837.0 577.5C837.1 577.4 837.1 577.3 837.2 577.1C837.2 577.0 837.3 576.9 837.4 576.7C837.4 576.6 837.5 576.5 837.6 576.4C837.7 576.3 837.7 576.1 837.8 576.0C837.9 575.9 838.0 575.8 838.1 575.7C838.2 575.6 838.4 575.5 838.5 575.4C838.6 575.3 838.7 575.2 838.8 575.1C838.9 575.0 839.1 575.0 839.2 574.9C839.3 574.8 839.5 574.7 839.6 574.7C839.7 574.6 839.9 574.6 840.0 574.5C840.2 574.5 840.3 574.4 840.4 574.4C840.6 574.3 840.7 574.3 840.9 574.3C841.0 574.3 841.2 574.2 841.3 574.2C841.4 574.2 841.6 574.2 841.7 574.2C841.9 574.2 842.0 574.2 842.2 574.2C842.3 574.3 842.4 574.3 842.6 574.3C842.7 574.3 842.8 574.4 843.0 574.4C843.1 574.5 843.2 574.5 843.3 574.6C843.4 574.6 843.6 574.7 843.7 574.8C843.8 574.8 843.9 574.9 844.0 575.0C844.1 575.1 844.2 575.2 844.3 575.2C844.4 575.3 844.4 575.4 844.5 575.5C844.6 575.6 844.7 575.7 844.7 575.9ZM792.7 620.9C792.8 621.0 792.8 621.1 792.9 621.2C792.9 621.3 793.0 621.4 793.0 621.5C793.1 621.7 793.1 621.8 793.1 621.9C793.1 622.0 793.1 622.2 793.1 622.3C793.1 622.4 793.1 622.6 793.1 622.7C793.1 622.8 793.1 623.0 793.1 623.1C793.0 623.2 793.0 623.4 793.0 623.5C792.9 623.6 792.9 623.7 792.8 623.9C792.8 624.0 792.7 624.1 792.6 624.3C792.6 624.4 792.5 624.5 792.4 624.6C792.3 624.7 792.3 624.9 792.2 625.0C792.1 625.1 792.0 625.2 791.9 625.3C791.8 625.4 791.6 625.5 791.5 625.6C791.4 625.7 791.3 625.8 791.2 625.9C791.1 626.0 790.9 626.0 790.8 626.1C790.7 626.2 790.5 626.3 790.4 626.3C790.3 626.4 790.1 626.4 790.0 626.5C789.8 626.5 789.7 626.6 789.6 626.6C789.4 626.7 789.3 626.7 789.1 626.7C789.0 626.7 788.8 626.8 788.7 626.8C788.6 626.8 788.4 626.8 788.3 626.8C788.1 626.8 788.0 626.8 787.8 626.8C787.7 626.7 787.6 626.7 787.4 626.7C787.3 626.7 787.2 626.6 787.0 626.6C786.9 626.5 786.8 626.5 786.7 626.4C786.6 626.4 786.4 626.3 786.3 626.2C786.2 626.2 786.1 626.1 786.0 626.0C785.9 625.9 785.8 625.8 785.7 625.8C785.6 625.7 785.6 625.6 785.5 625.5C785.4 625.4 785.3 625.3 785.3 625.1C785.2 625.0 785.2 624.9 785.1 624.8C785.1 624.7 785.0 624.6 785.0 624.5C784.9 624.3 784.9 624.2 784.9 624.1C784.9 624.0 784.9 623.8 784.9 623.7C784.9 623.6 784.9 623.4 784.9 623.3C784.9 623.2 784.9 623.0 784.9 622.9C785.0 622.8 785.0 622.6 785.0 622.5C785.1 622.4 785.1 622.3 785.2 622.1C785.2 622.0 785.3 621.9 785.4 621.7C785.4 621.6 785.5 621.5 785.6 621.4C785.7 621.3 785.7 621.1 785.8 621.0C785.9 620.9 786.0 620.8 786.1 620.7C786.2 620.6 786.4 620.5 786.5 620.4C786.6 620.3 786.7 620.2 786.8 620.1C786.9 620.0 787.1 620.0 787.2 619.9C787.3 619.8 787.5 619.7 787.6 619.7C787.7 619.6 787.9 619.6 788.0 619.5C788.2 619.5 788.3 619.4 788.4 619.4C788.6 619.3 788.7 619.3 788.9 619.3C789.0 619.3 789.2 619.2 789.3 619.2C789.4 619.2 789.6 619.2 789.7 619.2C789.9 619.2 790.0 619.2 790.2 619.2C790.3 619.3 790.4 619.3 790.6 619.3C790.7 619.3 790.8 619.4 791.0 619.4C791.1 619.5 791.2 619.5 791.3 619.6C791.4 619.6 791.6 619.7 791.7 619.8C791.8 619.8 791.9 619.9 792.0 620.0C792.1 620.1 792.2 620.2 792.3 620.2C792.4 620.3 792.4 620.4 792.5 620.5C792.6 620.6 792.7 620.7 792.7 620.9ZM850.7 616.9C850.8 617.0 850.8 617.1 850.9 617.2C850.9 617.3 851.0 617.4 851.0 617.5C851.1 617.7 851.1 617.8 851.1 617.9C851.1 618.0 851.1 618.2 851.1 618.3C851.1 618.4 851.1 618.6 851.1 618.7C851.1 618.8 851.1 619.0 851.1 619.1C851.0 619.2 851.0 619.4 851.0 619.5C850.9 619.6 850.9 619.7 850.8 619.9C850.8 620.0 850.7 620.1 850.6 620.3C850.6 620.4 850.5 620.5 850.4 620.6C850.3 620.7 850.3 620.9 850.2 621.0C850.1 621.1 850.0 621.2 849.9 621.3C849.8 621.4 849.6 621.5 849.5 621.6C849.4 621.7 849.3 621.8 849.2 621.9C849.1 622.0 848.9 622.0 848.8 622.1C848.7 622.2 848.5 622.3 848.4 622.3C848.3 622.4 848.1 622.4 848.0 622.5C847.8 622.5 847.7 622.6 847.6 622.6C847.4 622.7 847.3 622.7 847.1 622.7C847.0 622.7 846.8 622.8 846.7 622.8C846.6 622.8 846.4 622.8 846.3 622.8C846.1 622.8 846.0 622.8 845.8 622.8C845.7 622.7 845.6 622.7 845.4 622.7C845.3 622.7 845.2 622.6 845.0 622.6C844.9 622.5 844.8 622.5 844.7 622.4C844.6 622.4 844.4 622.3 844.3 622.2C844.2 622.2 844.1 622.1 844.0 622.0C843.9 621.9 843.8 621.8 843.7 621.8C843.6 621.7 843.6 621.6 843.5 621.5C843.4 621.4 843.3 621.3 843.3 621.1C843.2 621.0 843.2 620.9 843.1 620.8C843.1 620.7 843.0 620.6 843.0 620.5C842.9 620.3 842.9 620.2 842.9 620.1C842.9 620.0 842.9 619.8 842.9 619.7C842.9 619.6 842.9 619.4 842.9 619.3C842.9 619.2 842.9 619.0 842.9 618.9C843.0 618.8 843.0 618.6 843.0 618.5C843.1 618.4 843.1 618.3 843.2 618.1C843.2 618.0 843.3 617.9 843.4 617.7C843.4 617.6 843.5 617.5 843.6 617.4C843.7 617.3 843.7 617.1 843.8 617.0C843.9 616.9 844.0 616.8 844.1 616.7C844.2 616.6 844.4 616.5 844.5 616.4C844.6 616.3 844.7 616.2 844.8 616.1C844.9 616.0 845.1 616.0 845.2 615.9C845.3 615.8 845.5 615.7 845.6 615.7C845.7 615.6 845.9 615.6 846.0 615.5C846.2 615.5 846.3 615.4 846.4 615.4C846.6 615.3 846.7 615.3 846.9 615.3C847.0 615.3 847.2 615.2 847.3 615.2C847.4 615.2 847.6 615.2 847.7 615.2C847.9 615.2 848.0 615.2 848.2 615.2C848.3 615.3 848.4 615.3 848.6 615.3C848.7 615.3 848.8 615.4 849.0 615.4C849.1 615.5 849.2 615.5 849.3 615.6C849.4 615.6 849.6 615.7 849.7 615.8C849.8 615.8 849.9 615.9 850.0 616.0C850.1 616.1 850.2 616.2 850.3 616.2C850.4 616.3 850.4 616.4 850.5 616.5C850.6 616.6 850.7 616.7 850.7 616.9ZM832.7 638.9C832.8 639.0 832.8 639.1 832.9 639.2C832.9 639.3 833.0 639.4 833.0 639.5C833.1 639.7 833.1 639.8 833.1 639.9C833.1 640.0 833.1 640.2 833.1 640.3C833.1 640.4 833.1 640.6 833.1 640.7C833.1 640.8 833.1 641.0 833.1 641.1C833.0 641.2 833.0 641.4 833.0 641.5C832.9 641.6 832.9 641.7 832.8 641.9C832.8 642.0 832.7 642.1 832.6 642.3C832.6 642.4 832.5 642.5 832.4 642.6C832.3 642.7 832.3 642.9 832.2 643.0C832.1 643.1 832.0 643.2 831.9 643.3C831.8 643.4 831.6 643.5 831.5 643.6C831.4 643.7 831.3 643.8 831.2 643.9C831.1 644.0 830.9 644.0 830.8 644.1C830.7 644.2 830.5 644.3 830.4 644.3C830.3 644.4 830.1 644.4 830.0 644.5C829.8 644.5 829.7 644.6 829.6 644.6C829.4 644.7 829.3 644.7 829.1 644.7C829.0 644.7 828.8 644.8 828.7 644.8C828.6 644.8 828.4 644.8 828.3 644.8C828.1 644.8 828.0 644.8 827.8 644.8C827.7 644.7 827.6 644.7 827.4 644.7C827.3 644.7 827.2 644.6 827.0 644.6C826.9 644.5 826.8 644.5 826.7 644.4C826.6 644.4 826.4 644.3 826.3 644.2C826.2 644.2 826.1 644.1 826.0 644.0C825.9 643.9 825.8 643.8 825.7 643.8C825.6 643.7 825.6 643.6 825.5 643.5C825.4 643.4 825.3 643.3 825.3 643.1C825.2 643.0 825.2 642.9 825.1 642.8C825.1 642.7 825.0 642.6 825.0 642.5C824.9 642.3 824.9 642.2 824.9 642.1C824.9 642.0 824.9 641.8 824.9 641.7C824.9 641.6 824.9 641.4 824.9 641.3C824.9 641.2 824.9 641.0 824.9 640.9C825.0 640.8 825.0 640.6 825.0 640.5C825.1 640.4 825.1 640.3 825.2 640.1C825.2 640.0 825.3 639.9 825.4 639.7C825.4 639.6 825.5 639.5 825.6 639.4C825.7 639.3 825.7 639.1 825.8 639.0C825.9 638.9 826.0 638.8 826.1 638.7C826.2 638.6 826.4 638.5 826.5 638.4C826.6 638.3 826.7 638.2 826.8 638.1C826.9 638.0 827.1 638.0 827.2 637.9C827.3 637.8 827.5 637.7 827.6 637.7C827.7 637.6 827.9 637.6 828.0 637.5C828.2 637.5 828.3 637.4 828.4 637.4C828.6 637.3 828.7 637.3 828.9 637.3C829.0 637.3 829.2 637.2 829.3 637.2C829.4 637.2 829.6 637.2 829.7 637.2C829.9 637.2 830.0 637.2 830.2 637.2C830.3 637.3 830.4 637.3 830.6 637.3C830.7 637.3 830.8 637.4 831.0 637.4C831.1 637.5 831.2 637.5 831.3 637.6C831.4 637.6 831.6 637.7 831.7 637.8C831.8 637.8 831.9 637.9 832.0 638.0C832.1 638.1 832.2 638.2 832.3 638.2C832.4 638.3 832.4 638.4 832.5 638.5C832.6 638.6 832.7 638.7 832.7 638.9Z"/>
<path fill="none" stroke="#1c1c1c" stroke-width="3.6" d="M766.0 510.0L772.0 506.0M746.0 531.0L752.0 527.0M755.0 578.0L761.0 574.0M809.0 527.0L815.0 523.0M843.0 577.0L849.0 573.0M791.0 622.0L797.0 618.0M849.0 618.0L855.0 614.0M831.0 640.0L837.0 636.0"/>
</g>
<g>
<path fill="none" stroke="#1c1c1c" stroke-width="2.6" d="M832.5 437.5C835.4 436.5 844.6 433.3 850.0 431.2C855.4 429.2 860.4 426.5 865.0 425.0C869.6 423.5 873.8 422.9 877.5 422.5C881.2 422.1 885.8 422.5 887.5 422.5M833.1 441.9C835.3 441.2 841.8 439.1 846.2 438.1C850.7 437.2 855.2 436.5 860.0 436.2C864.8 436.0 872.5 436.8 875.0 436.9M832.5 437.5L841.9 444.4L852.5 436.9L860.0 439.0L872.5 432.5L877.5 438.8M841.2 443.8L865.0 430.0L875.0 436.9M831.9 438.1C831.6 440.3 830.4 446.6 830.2 451.2C830.1 455.9 830.5 461.8 831.0 466.2C831.5 470.7 832.8 476.1 833.1 478.1M841.9 445.0C841.2 447.1 838.8 453.3 838.1 457.5C837.5 461.7 837.7 466.2 838.1 470.0C838.5 473.8 840.2 478.3 840.6 480.0M831.9 442.5L840.0 447.5L831.9 453.8L839.4 460.0L831.9 466.2L839.4 472.5L833.1 477.5M845.0 447.5C846.2 446.5 849.2 442.6 852.5 441.2C855.8 439.9 861.0 439.4 865.0 439.4C869.0 439.4 874.4 440.9 876.2 441.2M845.0 447.5C844.5 450.0 841.9 457.3 841.9 462.5C841.9 467.7 843.2 474.0 845.0 478.8C846.8 483.5 851.2 489.2 852.5 491.2M860.0 446.2C859.2 448.1 856.2 453.5 855.0 457.5C853.8 461.5 852.7 465.8 852.5 470.0C852.3 474.2 853.1 479.2 853.8 482.5C854.4 485.8 855.8 488.8 856.2 490.0M860.0 446.2C861.7 446.0 865.8 444.2 870.0 445.0C874.2 445.8 879.6 447.7 885.0 451.2C890.4 454.8 897.1 461.5 902.5 466.2C907.9 471.0 915.0 477.7 917.5 480.0"/>
<path fill="#1c1c1c" stroke="#1c1c1c" stroke-width="2.6" d="M863.8 421.2L867.5 418.8L871.2 420.6L870.0 423.8L865.0 424.4ZM806.9 475.0L809.4 473.1L811.9 475.0L810.0 477.5ZM852.5 491.9L855.0 490.0L856.9 492.5L854.4 495.0Z"/>
</g>
<g>
<path fill="none" stroke="#1c1c1c" stroke-width="2" d="M960.0 540.0C961.7 544.2 966.7 556.1 970.0 565.0C973.3 573.9 976.7 583.1 980.0 593.3C983.3 603.6 986.4 617.8 990.0 626.7C993.6 635.6 999.7 643.3 1001.7 646.7M850.8 579.2C853.5 581.8 862.4 587.1 866.7 595.0C871.0 602.9 873.6 614.7 876.7 626.7C879.7 638.6 882.2 656.4 885.0 666.7C887.8 676.9 890.6 683.3 893.3 688.3C896.1 693.3 900.3 695.3 901.7 696.7"/>
<path fill="none" stroke="#1c1c1c" stroke-width="2.6" d="M940.0 540.0C940.3 542.2 940.6 550.3 941.7 553.3C942.8 556.4 944.7 558.1 946.7 558.3C948.6 558.6 950.8 555.0 953.3 555.0C955.8 555.0 960.6 556.1 961.7 558.3C962.8 560.6 961.4 566.1 960.0 568.3C958.6 570.6 955.0 570.0 953.3 571.7C951.7 573.3 952.2 575.6 950.0 578.3C947.8 581.1 943.1 586.9 940.0 588.3C936.9 589.7 933.1 586.9 931.7 586.7M931.7 586.7L900.0 573.3L898.3 568.3M898.3 548.3C900.8 549.7 908.1 555.0 913.3 556.7C918.6 558.3 925.6 559.4 930.0 558.3C934.4 557.2 938.3 551.4 940.0 550.0M900.0 561.7C902.5 562.8 909.4 566.9 915.0 568.3C920.6 569.7 929.2 571.1 933.3 570.0C937.5 568.9 938.9 563.1 940.0 561.7M951.7 556.7L960.0 553.3L963.3 565.0L955.0 570.0ZM940.0 573.3C940.8 572.5 943.3 568.3 945.0 568.3C946.7 568.3 949.7 571.4 950.0 573.3C950.3 575.3 948.3 578.3 946.7 580.0C945.0 581.7 941.1 582.8 940.0 583.3M903.3 570.0L923.3 578.3"/>
<path fill="#1c1c1c" stroke="#1c1c1c" stroke-width="2.6" d="M931.7 582.5L935.0 581.7L935.8 585.0L932.5 585.8ZM876.7 606.7L880.0 605.8L880.8 610.0L877.5 610.8Z"/>
</g>
<g clip-path="url(#c15)">
<path fill="none" stroke="#1c1c1c" stroke-width="2.6" d="M559.4 615.0L577.5 606.9L583.8 607.5L571.2 615.0ZM559.4 615.0L561.9 621.2L570.0 623.8L572.5 616.2M583.8 607.5L593.1 608.8M595.0 605.0L598.8 601.9L623.8 615.0L620.0 618.1ZM593.1 610.0L596.2 608.1L618.8 618.8L615.0 621.2ZM580.0 613.1L612.5 626.2M583.8 610.0L615.0 622.5M575.0 620.0L578.8 617.5L605.0 630.0L602.5 635.0ZM565.0 631.2L570.0 627.5L601.2 640.0M570.0 623.8L565.0 631.2M617.5 604.4L621.2 600.9L641.2 610.6L638.1 612.8L624.4 612.5ZM631.2 583.8C633.1 582.5 639.0 578.5 642.5 576.2C646.0 574.0 648.8 571.9 652.5 570.0C656.2 568.1 660.4 566.6 665.0 565.0C669.6 563.4 677.5 561.4 680.0 560.6M631.2 583.8L630.6 595.0L635.0 602.5L638.8 598.8L650.0 582.5M635.0 602.5L630.0 601.2M652.5 583.8C652.9 585.0 655.4 589.2 655.0 591.2C654.6 593.3 652.1 594.8 650.0 596.2C647.9 597.7 643.8 599.4 642.5 600.0M655.0 592.5L680.0 585.0M640.0 607.5L680.0 600.0M680.0 598.1L646.2 626.2L595.0 675.0M680.0 602.5L650.0 627.5L602.5 675.0M601.2 638.8L618.8 626.2L635.0 630.0L617.5 646.2ZM617.5 625.0C619.2 624.8 624.6 623.3 627.5 623.8C630.4 624.2 633.8 626.9 635.0 627.5M651.2 627.5C650.8 629.6 649.0 636.2 648.8 640.0C648.5 643.8 649.0 645.8 650.0 650.0C651.0 654.2 654.6 660.8 655.0 665.0C655.4 669.2 652.9 673.3 652.5 675.0M651.2 627.5C653.1 628.3 659.0 630.4 662.5 632.5C666.0 634.6 670.4 637.1 672.5 640.0C674.6 642.9 673.8 647.5 675.0 650.0C676.2 652.5 679.2 654.2 680.0 655.0M635.0 650.0C635.4 649.0 636.2 644.8 637.5 643.8C638.8 642.7 635.4 640.8 642.5 643.8C649.6 646.7 673.8 658.3 680.0 661.2M636.2 652.5L680.0 670.0M640.0 655.0C636.9 656.5 627.5 660.4 621.2 663.8C615.0 667.1 605.6 673.1 602.5 675.0M538.8 642.5L542.5 640.0L555.0 646.2L551.2 650.0ZM540.0 646.2L552.5 652.5M541.2 651.2L551.2 655.6M548.8 633.1L557.5 637.5M550.0 627.5L565.0 632.5M553.1 627.5L558.8 623.1L565.0 626.2L560.0 631.2ZM543.8 640.0C544.4 639.0 546.0 636.0 547.5 633.8C549.0 631.5 550.4 628.3 552.5 626.2C554.6 624.2 558.8 622.1 560.0 621.2M557.5 638.8L603.8 655.0M561.2 636.2L607.5 651.2M561.9 656.2L596.2 656.9L597.5 663.8L561.9 663.1ZM554.4 654.4L577.5 653.8L596.2 656.9M542.5 653.8L536.2 672.5L538.8 675.0M546.2 657.5L541.2 671.2L545.0 675.0M552.5 660.0L546.2 675.0M560.0 656.2C559.8 657.7 558.5 661.9 558.8 665.0C559.0 668.1 560.8 673.3 561.2 675.0"/>
<path fill="none" stroke="#1c1c1c" stroke-width="6" d="M632.5 585.6L652.5 573.8L680.0 567.5M570.0 671.2L596.2 667.5"/>
<path fill="none" stroke="#1c1c1c" stroke-width="5" d="M577.5 675.0L595.0 671.2"/>
</g>
<g clip-path="url(#c16)">
<path fill="none" stroke="#1c1c1c" stroke-width="2.6" d="M680.0 560.0C681.7 559.4 686.7 557.2 690.0 556.2C693.3 555.3 696.9 554.4 700.0 554.4C703.1 554.4 703.8 553.6 708.8 556.2C713.8 558.9 724.0 565.8 730.0 570.0C736.0 574.2 741.5 577.5 745.0 581.2C748.5 585.0 749.6 589.2 751.2 592.5C752.9 595.8 752.3 597.7 755.0 601.2C757.7 604.8 764.2 610.2 767.5 613.8C770.8 617.3 773.5 620.4 775.0 622.5C776.5 624.6 776.9 624.6 776.2 626.2C775.6 627.9 773.8 630.2 771.2 632.5C768.8 634.8 762.9 638.8 761.2 640.0M680.0 566.9C681.7 566.4 686.9 564.5 690.0 563.8C693.1 563.0 695.8 562.3 698.8 562.5C701.7 562.7 702.7 562.5 707.5 565.0C712.3 567.5 722.1 573.5 727.5 577.5C732.9 581.5 736.9 585.2 740.0 588.8C743.1 592.3 744.6 595.6 746.2 598.8C747.9 601.9 747.5 604.2 750.0 607.5C752.5 610.8 757.9 615.4 761.2 618.8C764.6 622.1 768.5 626.0 770.0 627.5M680.0 572.5C682.1 572.7 688.3 572.5 692.5 573.8C696.7 575.0 700.2 576.9 705.0 580.0C709.8 583.1 716.7 588.5 721.2 592.5C725.8 596.5 730.0 600.2 732.5 603.8C735.0 607.3 735.8 610.8 736.2 613.8C736.7 616.7 735.2 620.0 735.0 621.2M680.0 582.5C682.1 583.1 688.3 584.4 692.5 586.2C696.7 588.1 700.8 590.6 705.0 593.8C709.2 596.9 714.4 601.5 717.5 605.0C720.6 608.5 722.1 612.3 723.8 615.0C725.4 617.7 726.9 620.2 727.5 621.2M762.5 627.5L770.0 621.2M680.0 598.8L693.8 590.0M680.0 602.5L705.0 620.0M735.0 621.2C736.2 622.3 740.6 625.2 742.5 627.5C744.4 629.8 745.0 633.1 746.2 635.0C747.5 636.9 749.4 638.1 750.0 638.8M752.5 633.1C753.5 633.1 755.6 635.2 755.6 636.2C755.6 637.3 753.5 639.4 752.5 639.4C751.5 639.4 749.4 637.3 749.4 636.2C749.4 635.2 751.5 633.1 752.5 633.1ZM770.0 638.8C770.6 641.0 773.1 648.1 773.8 652.5C774.4 656.9 774.0 661.2 773.8 665.0C773.5 668.8 772.7 673.3 772.5 675.0M721.2 643.8L732.5 675.0M725.0 643.8L736.2 675.0M680.0 665.0L692.5 666.2L723.8 672.5M692.5 666.2L693.8 675.0M680.0 652.5C680.6 653.1 683.3 654.8 683.8 656.2C684.2 657.7 683.1 660.2 682.5 661.2C681.9 662.3 680.4 662.3 680.0 662.5"/>
<path fill="none" stroke="#1c1c1c" stroke-width="5" d="M680.0 595.0L692.5 590.0M681.2 638.8C681.7 636.5 692.9 629.2 698.8 626.2C704.6 623.3 710.0 621.7 716.2 621.2C722.5 620.8 736.0 622.3 736.2 623.8C736.5 625.2 724.2 627.3 717.5 630.0C710.8 632.7 702.3 638.5 696.2 640.0C690.2 641.5 680.8 641.0 681.2 638.8ZM703.8 646.2C704.2 644.6 710.6 639.4 715.0 637.5C719.4 635.6 725.6 634.8 730.0 635.0C734.4 635.2 741.7 637.7 741.2 638.8C740.8 639.8 732.3 639.8 727.5 641.2C722.7 642.7 716.5 646.7 712.5 647.5C708.5 648.3 703.3 647.9 703.8 646.2Z"/>
<path fill="none" stroke="#1c1c1c" stroke-width="4" d="M757.5 643.8C756.2 644.4 751.9 646.0 750.0 647.5C748.1 649.0 746.6 650.4 746.2 652.5C745.9 654.6 747.3 656.2 748.1 660.0C749.0 663.8 750.7 672.5 751.2 675.0M767.5 638.8C766.2 639.4 761.9 641.0 760.0 642.5C758.1 644.0 756.7 644.6 756.2 647.5C755.8 650.4 756.5 655.4 757.5 660.0C758.5 664.6 761.7 672.5 762.5 675.0"/>
</g>
<g clip-path="url(#c17)">
<path fill="none" stroke="#1c1c1c" stroke-width="2.6" d="M595.0 675.0L550.0 710.0L500.0 750.0M602.5 675.0L555.0 712.5L505.0 752.5M468.1 760.0L480.0 746.2L515.0 765.0L513.8 770.0L498.8 783.8L471.2 770.0ZM468.1 760.0L471.2 785.0L477.5 792.5L477.5 810.0M471.2 770.0L471.2 785.0M477.5 792.5L517.5 807.5M527.5 777.5C529.6 777.9 536.7 778.3 540.0 780.0C543.3 781.7 545.4 785.0 547.5 787.5C549.6 790.0 551.2 791.2 552.5 795.0C553.8 798.8 554.6 807.5 555.0 810.0M532.5 775.0C534.4 775.4 540.4 775.8 543.8 777.5C547.1 779.2 549.8 782.5 552.5 785.0C555.2 787.5 558.8 791.2 560.0 792.5M493.8 720.0L510.0 710.0L515.0 715.0L500.0 726.2ZM515.0 698.8L550.0 697.5M512.5 701.2L517.5 707.5M490.0 735.0L495.0 728.8L512.5 722.5M490.0 735.0L492.5 747.5M495.0 742.5L520.0 725.0M497.5 745.0L515.0 728.8M522.5 692.5L535.0 675.0M527.5 695.0L543.8 675.0M535.0 688.8C536.2 688.3 539.6 686.0 542.5 686.2C545.4 686.5 550.4 688.3 552.5 690.0C554.6 691.7 554.6 695.2 555.0 696.2M557.5 696.2L568.8 690.0L572.5 693.8L561.2 701.2ZM562.5 728.8L578.8 726.2L570.0 733.8ZM570.0 740.0L578.8 737.5L575.0 743.8ZM577.5 747.5L583.8 746.9L580.0 751.2ZM582.5 757.5L596.2 753.8L590.0 761.2ZM591.2 770.0L606.2 762.5L597.5 772.5ZM588.8 705.0C590.8 706.2 597.9 709.2 601.2 712.5C604.6 715.8 606.9 720.8 608.8 725.0C610.6 729.2 611.9 735.4 612.5 737.5M595.0 687.5C598.3 689.6 609.6 694.8 615.0 700.0C620.4 705.2 624.2 712.1 627.5 718.8C630.8 725.4 633.3 734.0 635.0 740.0C636.7 746.0 637.1 752.5 637.5 755.0M602.5 682.5C606.2 684.8 618.8 690.4 625.0 696.2C631.2 702.1 636.2 710.2 640.0 717.5C643.8 724.8 646.2 736.2 647.5 740.0M625.0 675.0C628.3 677.9 639.6 686.2 645.0 692.5C650.4 698.8 654.6 706.2 657.5 712.5C660.4 718.8 661.7 727.1 662.5 730.0M635.0 675.0C637.9 677.1 647.5 682.3 652.5 687.5C657.5 692.7 662.1 701.5 665.0 706.2C667.9 711.0 669.2 714.6 670.0 716.2M647.5 740.0L662.5 730.0L680.0 717.5M655.0 706.2L665.0 687.5L660.0 680.0M583.8 711.2L593.8 705.0L596.2 708.8L586.2 715.0ZM601.2 735.0L612.5 730.0L615.0 735.0L603.8 741.2ZM617.5 761.2L630.0 755.0L633.8 761.2L621.2 767.5ZM588.8 716.2C590.6 717.7 596.9 721.9 600.0 725.0C603.1 728.1 606.2 733.3 607.5 735.0M608.8 745.0L618.8 762.5M616.2 781.2L620.0 773.8L660.0 746.2L665.0 748.8L663.8 755.0L625.0 780.0L618.8 785.0M621.2 776.2L661.2 750.0M607.5 778.8C608.4 777.8 611.2 777.1 612.5 777.5C613.8 777.9 615.2 780.0 615.0 781.2C614.8 782.5 612.6 784.7 611.2 785.0C609.9 785.3 607.5 784.2 606.9 783.1C606.2 782.1 606.6 779.7 607.5 778.8ZM625.0 782.5C626.2 783.8 630.8 787.1 632.5 790.0C634.2 792.9 635.0 796.7 635.0 800.0C635.0 803.3 632.9 808.3 632.5 810.0M635.0 777.5C636.7 778.8 642.5 782.1 645.0 785.0C647.5 787.9 649.2 791.7 650.0 795.0C650.8 798.3 650.0 803.3 650.0 805.0M642.5 775.0C644.2 776.0 650.0 779.2 652.5 781.2C655.0 783.3 656.7 786.5 657.5 787.5M627.5 792.5C627.1 793.8 625.0 797.5 625.0 800.0C625.0 802.5 627.1 806.2 627.5 807.5M657.5 772.5L662.5 770.0L665.0 775.0L660.0 778.8M671.2 762.5C672.3 763.3 676.0 765.4 677.5 767.5C679.0 769.6 679.6 773.8 680.0 775.0M665.0 752.5C666.0 751.2 668.8 747.1 671.2 745.0C673.8 742.9 678.5 740.8 680.0 740.0M680.0 792.5L652.5 807.5M680.0 797.5L657.5 810.0M588.8 788.8C589.7 788.0 592.7 788.5 593.8 789.4C594.8 790.2 595.4 792.4 595.0 793.8C594.6 795.1 592.4 797.5 591.2 797.5C590.1 797.5 588.5 795.2 588.1 793.8C587.7 792.3 587.8 789.5 588.8 788.8ZM591.2 797.5L593.8 805.0M570.0 810.0L590.0 798.8M550.0 795.0C551.2 795.6 555.8 796.7 557.5 798.8C559.2 800.8 559.6 806.0 560.0 807.5M560.0 800.0L565.0 810.0"/>
<path fill="none" stroke="#1c1c1c" stroke-width="6" d="M472.5 765.0L482.5 770.0M477.5 760.0L487.5 765.0M482.5 753.8L493.8 758.8M488.8 775.0L498.8 780.0M495.0 770.0L505.0 773.8M501.2 762.5L511.2 767.5"/>
<path fill="none" stroke="#1c1c1c" stroke-width="3" d="M517.5 771.2L520.0 807.5M522.5 775.0L526.2 807.5"/>
<path fill="#1c1c1c" stroke="#1c1c1c" stroke-width="2.6" d="M477.5 800.0L483.8 795.0L490.0 800.0L485.0 810.0L478.8 810.0ZM493.8 721.2L497.5 718.8L501.2 723.8L497.5 726.9ZM513.8 713.8L518.8 711.2L522.5 716.2L517.5 720.0ZM550.0 701.2L555.0 697.5L558.8 703.8L553.8 707.5ZM573.8 712.5L577.5 710.0L582.5 713.8L580.0 718.8L575.0 717.5ZM593.8 740.0L597.5 736.2L602.5 740.0L600.0 745.0L595.0 745.0ZM612.5 766.2L616.2 762.5L620.0 767.5L616.2 771.2Z"/>
<path fill="none" stroke="#1c1c1c" stroke-width="4" d="M517.5 697.5L527.5 707.5M527.5 740.0L575.0 785.0M535.0 733.8L581.2 781.2M542.5 727.5L587.5 777.5M550.0 722.5L592.5 772.5M522.5 747.5L570.0 790.0"/>
<path fill="none" stroke="#1c1c1c" stroke-width="2.8" d="M520.0 750.0L552.5 721.2M527.5 760.0L562.5 731.2M535.0 767.5L570.0 740.0M543.8 775.0L577.5 748.8M552.5 782.5L583.8 757.5M561.2 790.0L591.2 766.2"/>
</g>
<g clip-path="url(#c18)">
<path fill="none" stroke="#1c1c1c" stroke-width="2.6" d="M730.0 711.2C732.1 710.0 738.3 706.0 742.5 703.8C746.7 701.5 750.8 698.8 755.0 697.5C759.2 696.2 763.3 696.2 767.5 696.2C771.7 696.2 776.7 696.5 780.0 697.5C783.3 698.5 785.8 700.4 787.5 702.5C789.2 704.6 789.6 708.8 790.0 710.0M790.0 711.2C791.5 710.2 793.9 711.2 795.0 712.5C796.1 713.8 797.1 716.7 796.9 718.8C796.7 720.8 795.1 724.0 793.8 725.0C792.4 726.0 790.0 726.0 788.8 725.0C787.5 724.0 786.0 721.0 786.2 718.8C786.5 716.5 788.5 712.3 790.0 711.2ZM732.5 717.5C734.6 716.5 740.8 713.1 745.0 711.2C749.2 709.4 753.8 707.1 757.5 706.2C761.2 705.4 764.4 705.8 767.5 706.2C770.6 706.7 774.2 707.3 776.2 708.8C778.3 710.2 779.8 712.7 780.0 715.0C780.2 717.3 777.9 721.2 777.5 722.5M765.0 696.2L767.5 706.2M778.8 697.5L780.0 707.5M730.0 711.2L732.5 717.5M775.0 716.2L787.5 715.0M777.5 722.5L787.5 725.0M757.5 706.2C759.6 707.9 766.7 712.1 770.0 716.2C773.3 720.4 775.9 726.2 777.5 731.2C779.1 736.2 779.6 741.9 779.4 746.2C779.2 750.6 778.2 754.4 776.2 757.5C774.3 760.6 770.8 763.3 767.5 765.0C764.2 766.7 759.6 767.7 756.2 767.5C752.9 767.3 750.0 765.6 747.5 763.8C745.0 761.9 743.3 759.0 741.2 756.2C739.2 753.5 736.0 749.0 735.0 747.5M753.8 712.5C755.2 714.0 760.4 718.1 762.5 721.2C764.6 724.4 765.6 727.3 766.2 731.2C766.9 735.2 766.7 741.5 766.2 745.0C765.8 748.5 765.6 750.8 763.8 752.5C761.9 754.2 757.3 754.8 755.0 755.0C752.7 755.2 750.8 754.0 750.0 753.8M773.8 727.5L766.2 730.0M777.5 736.2L766.9 737.5M778.8 751.2L765.0 750.0M761.2 756.2L761.2 766.2M755.0 755.0L747.5 763.1M735.9 752.8C735.8 752.7 735.3 752.6 735.1 752.4C734.8 752.3 734.6 752.1 734.3 751.9C734.1 751.7 733.8 751.4 733.6 751.2C733.4 750.9 733.2 750.6 733.0 750.3C732.8 750.0 732.7 749.7 732.5 749.3C732.4 749.0 732.2 748.6 732.1 748.2C732.0 747.9 731.9 747.5 731.8 747.0C731.7 746.6 731.6 746.2 731.6 745.7C731.5 745.3 731.5 744.8 731.5 744.3C731.4 743.9 731.4 743.4 731.5 742.9C731.5 742.4 731.5 741.9 731.6 741.4C731.6 740.9 731.7 740.3 731.8 739.8C731.9 739.3 732.0 738.8 732.1 738.3C732.2 737.7 732.4 737.2 732.5 736.7C732.7 736.2 732.8 735.6 733.0 735.1C733.2 734.6 733.4 734.1 733.6 733.6C733.8 733.1 734.1 732.6 734.3 732.1C734.6 731.7 734.8 731.2 735.1 730.7C735.3 730.3 735.6 729.8 735.9 729.4C736.2 729.0 736.5 728.6 736.8 728.2C737.1 727.8 737.4 727.4 737.7 727.1C738.1 726.7 738.4 726.4 738.7 726.1C739.0 725.8 739.4 725.5 739.7 725.2C740.1 724.9 740.4 724.7 740.7 724.5C741.1 724.3 741.4 724.1 741.8 723.9C742.1 723.7 742.5 723.6 742.8 723.5C743.1 723.4 743.5 723.3 743.8 723.2C744.1 723.2 744.4 723.1 744.8 723.1C745.1 723.1 745.4 723.2 745.7 723.2C746.0 723.3 746.4 723.4 746.6 723.4M733.2 752.3C733.1 752.2 732.7 752.0 732.4 751.9C732.2 751.7 732.0 751.6 731.7 751.4C731.5 751.2 731.3 751.0 731.1 750.7C730.9 750.5 730.7 750.2 730.5 750.0C730.4 749.7 730.2 749.4 730.0 749.1C729.9 748.7 729.8 748.4 729.7 748.0C729.5 747.7 729.4 747.3 729.4 746.9C729.3 746.5 729.2 746.1 729.2 745.7C729.1 745.3 729.1 744.9 729.1 744.4C729.0 744.0 729.0 743.6 729.1 743.1C729.1 742.6 729.1 742.2 729.2 741.7C729.2 741.2 729.3 740.8 729.3 740.3C729.4 739.8 729.5 739.3 729.6 738.8C729.7 738.4 729.9 737.9 730.0 737.4C730.2 736.9 730.3 736.4 730.5 736.0C730.7 735.5 730.8 735.0 731.0 734.6C731.2 734.1 731.5 733.7 731.7 733.2C731.9 732.8 732.1 732.4 732.4 731.9C732.6 731.5 732.9 731.1 733.1 730.7C733.4 730.3 733.7 729.9 734.0 729.6C734.3 729.2 734.5 728.9 734.8 728.6C735.1 728.2 735.4 727.9 735.7 727.6C736.0 727.4 736.4 727.1 736.7 726.9C737.0 726.6 737.3 726.4 737.6 726.2C737.9 726.0 738.2 725.8 738.6 725.7C738.9 725.5 739.2 725.4 739.5 725.3C739.8 725.2 740.1 725.1 740.4 725.0C740.7 725.0 741.1 725.0 741.3 725.0C741.6 725.0 741.9 725.0 742.2 725.0C742.5 725.1 742.9 725.2 743.0 725.2M730.7 751.1C730.6 751.1 730.3 750.9 730.1 750.8C729.9 750.7 729.7 750.5 729.5 750.4C729.3 750.2 729.1 750.0 728.9 749.8C728.8 749.6 728.6 749.4 728.5 749.1C728.3 748.9 728.2 748.6 728.1 748.4C727.9 748.1 727.8 747.8 727.7 747.5C727.6 747.2 727.6 746.9 727.5 746.5C727.4 746.2 727.4 745.8 727.3 745.5C727.3 745.1 727.3 744.8 727.3 744.4C727.2 744.0 727.3 743.6 727.3 743.2C727.3 742.8 727.3 742.4 727.4 742.0C727.4 741.6 727.5 741.2 727.5 740.8C727.6 740.4 727.7 739.9 727.8 739.5C727.9 739.1 728.0 738.7 728.1 738.3C728.3 737.8 728.4 737.4 728.5 737.0C728.7 736.6 728.9 736.2 729.0 735.8C729.2 735.4 729.4 735.0 729.6 734.6C729.8 734.2 730.0 733.9 730.2 733.5C730.4 733.1 730.6 732.8 730.8 732.4C731.1 732.1 731.3 731.8 731.5 731.5C731.8 731.2 732.0 730.9 732.3 730.6C732.5 730.3 732.8 730.0 733.1 729.8C733.3 729.5 733.6 729.3 733.9 729.1C734.1 728.9 734.4 728.7 734.7 728.5C734.9 728.3 735.2 728.2 735.5 728.0C735.7 727.9 736.0 727.8 736.3 727.7C736.5 727.6 736.8 727.5 737.1 727.5C737.3 727.4 737.6 727.4 737.8 727.4C738.1 727.4 738.3 727.4 738.6 727.4C738.8 727.5 739.2 727.6 739.3 727.6M717.5 716.2C716.7 718.8 713.5 726.5 712.5 731.2C711.5 736.0 711.9 740.2 711.2 745.0C710.6 749.8 709.4 755.0 708.8 760.0C708.1 765.0 707.5 770.4 707.5 775.0C707.5 779.6 709.2 783.3 708.8 787.5C708.3 791.7 707.7 796.2 705.0 800.0C702.3 803.8 694.6 808.3 692.5 810.0M730.0 725.0C729.4 727.1 726.9 732.9 726.2 737.5C725.6 742.1 726.7 747.5 726.2 752.5C725.8 757.5 724.2 762.5 723.8 767.5C723.3 772.5 724.4 777.9 723.8 782.5C723.1 787.1 721.9 791.2 720.0 795.0C718.1 798.8 714.6 802.5 712.5 805.0C710.4 807.5 708.3 809.2 707.5 810.0M723.8 722.5C723.1 724.6 720.8 730.4 720.0 735.0C719.2 739.6 719.2 745.4 718.8 750.0C718.3 754.6 717.7 760.4 717.5 762.5M711.2 745.0L726.2 750.0M708.8 756.2L725.0 755.0M707.5 775.0L723.8 778.8M708.1 785.0L722.5 785.0M705.0 795.0L717.5 798.8M716.2 716.2C716.0 714.6 714.4 709.0 715.0 706.2C715.6 703.5 718.3 700.8 720.0 700.0C721.7 699.2 724.0 700.2 725.0 701.2C726.0 702.3 726.9 704.6 726.2 706.2C725.6 707.9 722.1 710.4 721.2 711.2M730.0 685.0L740.0 680.0L747.5 696.2L736.2 700.0ZM680.0 677.5L721.2 677.5L730.0 685.0M683.8 682.5C684.8 682.1 688.5 679.4 690.0 680.0C691.5 680.6 692.9 684.0 692.5 686.2C692.1 688.5 689.6 692.1 687.5 693.8C685.4 695.4 681.2 695.8 680.0 696.2M702.5 708.8C700.4 710.2 692.5 713.1 690.0 717.5C687.5 721.9 687.9 732.1 687.5 735.0M702.5 708.8L710.0 712.5M695.0 733.8C695.8 731.9 697.3 725.6 700.0 722.5C702.7 719.4 709.4 716.2 711.2 715.0M700.0 735.0C700.8 733.3 702.7 727.7 705.0 725.0C707.3 722.3 712.3 719.8 713.8 718.8M705.0 740.0C705.6 738.3 707.1 732.5 708.8 730.0C710.4 727.5 714.0 725.8 715.0 725.0M680.0 740.0L687.5 735.0L702.5 742.5M702.5 742.5L692.5 757.5L687.5 767.5M681.2 770.0C682.3 768.3 686.0 766.9 687.5 767.5C689.0 768.1 690.2 771.9 690.0 773.8C689.8 775.6 687.7 778.1 686.2 778.8C684.8 779.4 682.1 779.0 681.2 777.5C680.4 776.0 680.2 771.7 681.2 770.0ZM680.0 760.0L685.0 765.0M680.0 792.5C682.1 791.7 688.3 790.0 692.5 787.5C696.7 785.0 702.9 779.2 705.0 777.5M680.0 798.8C682.5 797.9 690.4 796.2 695.0 793.8C699.6 791.2 705.4 785.4 707.5 783.8M687.5 801.2L693.8 810.0M703.8 790.0L710.0 798.8"/>
<path fill="#1c1c1c" stroke="#1c1c1c" stroke-width="2.6" d="M756.9 740.7C756.7 741.3 756.5 741.8 756.3 742.3C756.1 742.9 755.8 743.4 755.5 743.9C755.3 744.5 755.0 745.0 754.7 745.4C754.4 745.9 754.1 746.4 753.8 746.9C753.5 747.3 753.2 747.8 752.9 748.2C752.5 748.6 752.2 749.0 751.9 749.4C751.5 749.8 751.2 750.2 750.8 750.5C750.5 750.8 750.1 751.1 749.7 751.4C749.4 751.7 749.0 752.0 748.6 752.2C748.3 752.4 747.9 752.7 747.5 752.8C747.2 753.0 746.8 753.2 746.4 753.3C746.1 753.4 745.7 753.5 745.4 753.6C745.0 753.6 744.7 753.7 744.3 753.7C744.0 753.7 743.6 753.7 743.3 753.6C743.0 753.6 742.7 753.5 742.4 753.4C742.0 753.2 741.7 753.1 741.5 752.9C741.2 752.8 740.9 752.6 740.6 752.3C740.4 752.1 740.1 751.9 739.9 751.6C739.7 751.3 739.5 751.0 739.3 750.7C739.1 750.4 738.9 750.0 738.7 749.6C738.6 749.3 738.4 748.9 738.3 748.4C738.1 748.0 738.0 747.6 737.9 747.1C737.8 746.7 737.8 746.2 737.7 745.7C737.7 745.2 737.6 744.7 737.6 744.2C737.6 743.7 737.6 743.2 737.6 742.7C737.6 742.1 737.7 741.6 737.7 741.0C737.8 740.5 737.9 739.9 738.0 739.4C738.1 738.8 738.2 738.2 738.3 737.7C738.4 737.1 738.6 736.5 738.8 736.0C738.9 735.4 739.1 734.8 739.3 734.3C739.5 733.7 739.7 733.2 740.0 732.7C740.2 732.1 740.4 731.6 740.7 731.1C741.0 730.5 741.2 730.0 741.5 729.6C741.8 729.1 742.1 728.6 742.4 728.1C742.7 727.7 743.1 727.2 743.4 726.8C743.7 726.4 744.0 726.0 744.4 725.6C744.7 725.2 745.1 724.8 745.4 724.5C745.8 724.2 746.2 723.9 746.5 723.6C746.9 723.3 747.2 723.0 747.6 722.8C748.0 722.6 748.4 722.3 748.7 722.2C749.1 722.0 749.5 721.8 749.8 721.7C750.2 721.6 750.5 721.5 750.9 721.4C751.2 721.4 751.6 721.3 751.9 721.3C752.3 721.3 752.6 721.3 752.9 721.4C753.3 721.4 753.6 721.5 753.9 721.6C754.2 721.8 754.5 721.9 754.8 722.1C755.1 722.2 755.3 722.4 755.6 722.7C755.9 722.9 756.1 723.1 756.3 723.4C756.6 723.7 756.8 724.0 757.0 724.3C757.2 724.6 757.4 725.0 757.5 725.4C757.7 725.7 757.8 726.1 758.0 726.6C758.1 727.0 758.2 727.4 758.3 727.9C758.4 728.3 758.5 728.8 758.5 729.3C758.6 729.8 758.6 730.3 758.6 730.8C758.7 731.3 758.7 731.8 758.6 732.3C758.6 732.9 758.6 733.4 758.5 734.0C758.5 734.5 758.4 735.1 758.3 735.6C758.2 736.2 758.1 736.8 757.9 737.3C757.8 737.9 757.7 738.5 757.5 739.0C757.3 739.6 757.1 740.2 756.9 740.7Z"/>
<path fill="none" stroke="#fff" stroke-width="1.5" d="M754.9 739.3C754.8 739.7 754.6 740.1 754.5 740.5C754.3 740.9 754.1 741.3 754.0 741.6C753.8 742.0 753.6 742.4 753.4 742.8C753.2 743.1 753.0 743.5 752.8 743.8C752.6 744.2 752.4 744.5 752.2 744.8C752.0 745.1 751.7 745.4 751.5 745.7C751.3 746.0 751.1 746.3 750.9 746.5C750.6 746.8 750.4 747.0 750.2 747.3C750.0 747.5 749.7 747.7 749.5 747.9C749.3 748.1 749.1 748.2 748.8 748.4C748.6 748.5 748.4 748.6 748.2 748.7C748.0 748.9 747.7 748.9 747.5 749.0C747.3 749.1 747.1 749.1 746.9 749.1C746.7 749.2 746.5 749.2 746.3 749.1C746.2 749.1 746.0 749.1 745.8 749.0C745.6 748.9 745.5 748.9 745.3 748.8C745.2 748.7 745.0 748.5 744.9 748.4C744.7 748.2 744.6 748.1 744.5 747.9C744.4 747.7 744.3 747.5 744.2 747.3C744.1 747.1 744.0 746.8 743.9 746.6C743.8 746.3 743.8 746.0 743.7 745.8C743.7 745.5 743.6 745.2 743.6 744.9C743.6 744.5 743.5 744.2 743.5 743.9C743.5 743.5 743.5 743.2 743.5 742.8C743.6 742.5 743.6 742.1 743.6 741.7C743.7 741.3 743.7 740.9 743.8 740.5C743.9 740.1 743.9 739.8 744.0 739.3C744.1 738.9 744.2 738.5 744.3 738.1C744.4 737.7 744.5 737.3 744.7 736.9C744.8 736.5 744.9 736.1 745.1 735.7C745.2 735.3 745.4 734.9 745.5 734.5C745.7 734.1 745.9 733.7 746.0 733.4C746.2 733.0 746.4 732.6 746.6 732.2C746.8 731.9 747.0 731.5 747.2 731.2C747.4 730.8 747.6 730.5 747.8 730.2C748.0 729.9 748.3 729.6 748.5 729.3C748.7 729.0 748.9 728.7 749.1 728.5C749.4 728.2 749.6 728.0 749.8 727.7C750.0 727.5 750.3 727.3 750.5 727.1C750.7 726.9 750.9 726.8 751.2 726.6C751.4 726.5 751.6 726.4 751.8 726.3C752.0 726.1 752.3 726.1 752.5 726.0C752.7 725.9 752.9 725.9 753.1 725.9C753.3 725.8 753.5 725.8 753.7 725.9C753.8 725.9 754.0 725.9 754.2 726.0C754.4 726.1 754.5 726.1 754.7 726.2C754.8 726.3 755.0 726.5 755.1 726.6C755.3 726.8 755.4 726.9 755.5 727.1C755.6 727.3 755.7 727.5 755.8 727.7C755.9 727.9 756.0 728.2 756.1 728.4C756.2 728.7 756.2 729.0 756.3 729.2C756.3 729.5 756.4 729.8 756.4 730.1C756.4 730.5 756.5 730.8 756.5 731.1C756.5 731.5 756.5 731.8 756.5 732.2C756.4 732.5 756.4 732.9 756.4 733.3C756.3 733.7 756.3 734.1 756.2 734.5C756.1 734.9 756.1 735.2 756.0 735.7C755.9 736.1 755.8 736.5 755.7 736.9C755.6 737.3 755.5 737.7 755.3 738.1C755.2 738.5 755.1 738.9 754.9 739.3ZM754.0 738.3C753.9 738.5 753.8 738.7 753.7 738.9C753.7 739.1 753.6 739.3 753.5 739.5C753.4 739.7 753.3 739.9 753.2 740.1C753.1 740.3 753.0 740.5 752.9 740.7C752.8 740.9 752.7 741.0 752.6 741.2C752.5 741.4 752.4 741.6 752.3 741.7C752.2 741.9 752.1 742.0 752.0 742.2C751.9 742.3 751.7 742.4 751.6 742.6C751.5 742.7 751.4 742.8 751.3 742.9C751.2 743.0 751.1 743.1 751.0 743.2C750.9 743.3 750.8 743.3 750.7 743.4C750.6 743.5 750.5 743.5 750.4 743.5C750.3 743.6 750.2 743.6 750.1 743.6C750.1 743.7 750.0 743.7 749.9 743.7C749.8 743.7 749.7 743.6 749.7 743.6C749.6 743.6 749.5 743.5 749.4 743.5C749.4 743.4 749.3 743.4 749.3 743.3C749.2 743.2 749.2 743.2 749.1 743.1C749.1 743.0 749.0 742.9 749.0 742.8C748.9 742.7 748.9 742.5 748.9 742.4C748.9 742.3 748.8 742.1 748.8 742.0C748.8 741.8 748.8 741.7 748.8 741.5C748.8 741.4 748.8 741.2 748.8 741.0C748.8 740.8 748.8 740.7 748.9 740.5C748.9 740.3 748.9 740.1 748.9 739.9C749.0 739.7 749.0 739.5 749.0 739.3C749.1 739.1 749.1 738.9 749.2 738.7C749.2 738.4 749.3 738.2 749.3 738.0C749.4 737.8 749.5 737.6 749.5 737.4C749.6 737.2 749.7 736.9 749.8 736.7C749.8 736.5 749.9 736.3 750.0 736.1C750.1 735.9 750.2 735.7 750.3 735.5C750.4 735.3 750.5 735.1 750.6 734.9C750.6 734.7 750.7 734.5 750.8 734.3C750.9 734.1 751.1 734.0 751.2 733.8C751.3 733.6 751.4 733.4 751.5 733.3C751.6 733.1 751.7 733.0 751.8 732.8C751.9 732.7 752.0 732.6 752.1 732.4C752.2 732.3 752.3 732.2 752.4 732.1C752.5 732.0 752.6 731.9 752.7 731.8C752.8 731.7 752.9 731.7 753.0 731.6C753.1 731.5 753.2 731.5 753.3 731.5C753.4 731.4 753.5 731.4 753.6 731.4C753.7 731.3 753.8 731.3 753.9 731.3C753.9 731.3 754.0 731.4 754.1 731.4C754.2 731.4 754.2 731.5 754.3 731.5C754.4 731.6 754.4 731.6 754.5 731.7C754.5 731.8 754.6 731.8 754.6 731.9C754.7 732.0 754.7 732.1 754.8 732.2C754.8 732.3 754.8 732.5 754.9 732.6C754.9 732.7 754.9 732.9 754.9 733.0C754.9 733.2 754.9 733.3 754.9 733.5C754.9 733.6 754.9 733.8 754.9 734.0C754.9 734.2 754.9 734.3 754.9 734.5C754.9 734.7 754.8 734.9 754.8 735.1C754.8 735.3 754.8 735.5 754.7 735.7C754.7 735.9 754.6 736.1 754.6 736.3C754.5 736.6 754.5 736.8 754.4 737.0C754.3 737.2 754.3 737.4 754.2 737.6C754.1 737.8 754.1 738.1 754.0 738.3Z"/>
<path fill="#1c1c1c" stroke="#1c1c1c" stroke-width="2.6" d="M680.0 686.2L683.8 685.0L685.0 690.0L680.0 693.8Z"/>
<path fill="none" stroke="#1c1c1c" stroke-width="3" d="M750.0 675.0L750.0 695.0M757.5 675.0L756.2 696.2"/>
<path fill="none" stroke="#1c1c1c" stroke-width="4" d="M762.5 691.2C763.8 690.2 767.9 685.4 770.0 685.0C772.1 684.6 774.4 686.9 775.0 688.8C775.6 690.6 774.0 695.0 773.8 696.2"/>
</g>
<g clip-path="url(#c19)">
<path fill="#1c1c1c" stroke="#1c1c1c" stroke-width="2.6" d="M548.8 827.5L570.0 836.9L572.5 878.8L548.8 862.5ZM570.0 836.9L613.8 813.1L615.0 842.5L606.2 856.2L577.5 877.5L572.5 878.8ZM520.0 817.5L526.2 815.0L530.0 826.2L523.8 828.8Z"/>
<path fill="none" stroke="#1c1c1c" stroke-width="2.6" d="M552.5 823.8L570.0 835.0L611.2 811.9M556.2 826.2C557.3 827.1 560.2 830.6 562.5 831.2C564.8 831.9 568.8 830.2 570.0 830.0M500.0 822.1C500.2 822.5 500.4 822.9 500.5 823.4C500.7 823.8 500.9 824.2 501.0 824.6C501.1 825.1 501.3 825.5 501.4 825.9C501.5 826.3 501.6 826.8 501.7 827.2C501.8 827.6 501.9 828.0 501.9 828.4C502.0 828.8 502.0 829.2 502.1 829.6C502.1 830.0 502.1 830.4 502.1 830.8C502.1 831.2 502.1 831.5 502.0 831.9C502.0 832.2 502.0 832.6 501.9 832.9C501.8 833.2 501.8 833.6 501.7 833.8C501.6 834.1 501.5 834.4 501.4 834.7C501.2 834.9 501.1 835.2 501.0 835.4C500.8 835.6 500.6 835.8 500.5 836.0C500.3 836.2 500.1 836.4 499.9 836.5C499.7 836.7 499.5 836.8 499.3 836.9C499.1 837.0 498.9 837.1 498.6 837.1C498.4 837.2 498.1 837.2 497.9 837.2C497.6 837.3 497.4 837.2 497.1 837.2C496.8 837.2 496.6 837.1 496.3 837.0C496.0 837.0 495.7 836.9 495.4 836.8C495.2 836.6 494.9 836.5 494.6 836.3C494.3 836.2 494.0 836.0 493.7 835.8C493.4 835.6 493.1 835.4 492.8 835.1C492.5 834.9 492.3 834.6 492.0 834.3C491.7 834.1 491.4 833.8 491.1 833.5C490.9 833.2 490.6 832.8 490.3 832.5C490.0 832.2 489.8 831.8 489.5 831.4C489.3 831.1 489.0 830.7 488.8 830.3C488.6 829.9 488.3 829.5 488.1 829.1C487.9 828.7 487.7 828.3 487.5 827.9C487.3 827.5 487.1 827.1 487.0 826.6C486.8 826.2 486.6 825.8 486.5 825.4C486.4 824.9 486.2 824.5 486.1 824.1C486.0 823.7 485.9 823.2 485.8 822.8C485.7 822.4 485.6 822.0 485.6 821.6C485.5 821.2 485.5 820.8 485.4 820.4C485.4 820.0 485.4 819.6 485.4 819.2C485.4 818.8 485.4 818.5 485.5 818.1C485.5 817.8 485.5 817.4 485.6 817.1C485.7 816.8 485.7 816.4 485.8 816.2C485.9 815.9 486.0 815.6 486.1 815.3C486.3 815.1 486.4 814.8 486.5 814.6C486.7 814.4 486.9 814.2 487.0 814.0C487.2 813.8 487.4 813.6 487.6 813.5C487.8 813.3 488.0 813.2 488.2 813.1C488.4 813.0 488.6 812.9 488.9 812.9C489.1 812.8 489.4 812.8 489.6 812.8C489.9 812.7 490.1 812.8 490.4 812.8C490.7 812.8 490.9 812.9 491.2 813.0C491.5 813.0 491.8 813.1 492.1 813.2C492.3 813.4 492.6 813.5 492.9 813.7C493.2 813.8 493.5 814.0 493.8 814.2C494.1 814.4 494.4 814.6 494.7 814.9C495.0 815.1 495.2 815.4 495.5 815.7C495.8 815.9 496.1 816.2 496.4 816.5C496.6 816.8 496.9 817.2 497.2 817.5C497.5 817.8 497.7 818.2 498.0 818.6C498.2 818.9 498.5 819.3 498.7 819.7C498.9 820.1 499.2 820.5 499.4 820.9C499.6 821.3 499.8 821.7 500.0 822.1ZM505.0 836.9L515.0 827.5M468.8 836.2L466.9 845.0L470.0 860.0L481.2 873.8L502.5 880.6L510.0 877.5M468.8 836.2C469.4 835.6 471.0 832.9 472.5 832.5C474.0 832.1 476.7 833.5 477.5 833.8M475.6 841.2L498.8 848.1L495.0 866.2L473.1 858.1ZM526.2 841.2C526.9 842.9 529.8 847.7 530.0 851.2C530.2 854.8 529.2 859.4 527.5 862.5C525.8 865.6 521.2 868.8 520.0 870.0M520.0 833.8C521.7 833.3 527.1 832.7 530.0 831.2C532.9 829.8 535.8 827.3 537.5 825.0C539.2 822.7 539.2 819.6 540.0 817.5C540.8 815.4 542.1 813.3 542.5 812.5M526.2 851.2C528.1 849.6 534.4 844.4 537.5 841.2C540.6 838.1 543.1 835.0 545.0 832.5C546.9 830.0 548.1 827.3 548.8 826.2M527.5 842.5C529.0 841.5 533.8 838.5 536.2 836.2C538.8 834.0 541.5 830.0 542.5 828.8M526.2 813.8L532.5 811.2L536.2 823.8L530.0 826.2ZM615.0 843.8C615.8 841.7 617.5 834.6 620.0 831.2C622.5 827.9 624.6 826.5 630.0 823.8C635.4 821.0 646.7 817.3 652.5 815.0C658.3 812.7 662.9 810.8 665.0 810.0M620.0 846.2C620.8 844.4 622.5 837.9 625.0 835.0C627.5 832.1 629.2 831.5 635.0 828.8C640.8 826.0 652.5 821.9 660.0 818.8C667.5 815.6 676.7 811.5 680.0 810.0M625.0 843.8C626.7 843.3 630.4 843.3 635.0 841.2C639.6 839.2 645.0 835.2 652.5 831.2C660.0 827.3 675.4 819.8 680.0 817.5M627.5 843.8C629.6 844.2 634.6 846.2 640.0 846.2C645.4 846.2 653.3 846.9 660.0 843.8C666.7 840.6 676.7 830.2 680.0 827.5M615.0 825.0C617.1 823.8 622.5 820.0 627.5 817.5C632.5 815.0 642.1 811.2 645.0 810.0M630.0 823.8L635.0 828.8M647.5 817.5L652.5 823.8M656.2 823.8L660.0 831.2M665.0 827.5L670.0 835.0M617.5 842.5C617.1 844.2 616.9 849.6 615.0 852.5C613.1 855.4 610.8 857.1 606.2 860.0C601.7 862.9 592.3 867.0 587.5 870.0C582.7 873.0 579.2 876.8 577.5 878.1M621.2 846.2C620.6 848.1 619.6 854.4 617.5 857.5C615.4 860.6 613.3 862.1 608.8 865.0C604.2 867.9 594.8 872.3 590.0 875.0C585.2 877.7 582.7 880.4 580.0 881.2C577.3 882.1 574.8 880.2 573.8 880.0M606.2 860.0L608.8 865.0M596.2 865.0L598.8 870.6M585.0 871.2L587.5 876.2"/>
<path fill="none" stroke="#1c1c1c" stroke-width="3" d="M476.2 822.5C476.7 818.5 479.2 814.2 482.5 811.2C485.8 808.3 491.7 805.8 496.2 805.0C500.8 804.2 506.5 804.6 510.0 806.2C513.5 807.9 516.7 811.5 517.5 815.0C518.3 818.5 517.1 823.5 515.0 827.5C512.9 831.5 509.2 836.5 505.0 838.8C500.8 841.0 494.2 841.9 490.0 841.2C485.8 840.6 482.3 838.1 480.0 835.0C477.7 831.9 475.8 826.5 476.2 822.5ZM524.2 852.8C524.4 853.5 524.7 854.2 524.9 854.9C525.1 855.6 525.2 856.3 525.4 857.1C525.6 857.8 525.7 858.5 525.8 859.2C525.9 859.9 526.0 860.6 526.0 861.3C526.1 862.0 526.1 862.7 526.1 863.4C526.1 864.1 526.0 864.8 526.0 865.4C525.9 866.1 525.8 866.7 525.7 867.4C525.6 868.0 525.5 868.6 525.3 869.2C525.1 869.8 524.9 870.3 524.7 870.9C524.5 871.4 524.3 872.0 524.0 872.4C523.7 872.9 523.5 873.4 523.1 873.8C522.8 874.3 522.5 874.7 522.2 875.0C521.8 875.4 521.4 875.7 521.0 876.1C520.7 876.4 520.2 876.6 519.8 876.9C519.4 877.1 519.0 877.3 518.5 877.5C518.1 877.6 517.6 877.8 517.1 877.9C516.7 877.9 516.2 878.0 515.7 878.0C515.2 878.0 514.7 878.0 514.2 877.9C513.7 877.9 513.1 877.8 512.6 877.7C512.1 877.5 511.6 877.4 511.1 877.1C510.6 876.9 510.0 876.7 509.5 876.4C509.0 876.1 508.5 875.8 508.0 875.5C507.5 875.1 507.0 874.8 506.5 874.4C506.0 873.9 505.5 873.5 505.1 873.0C504.6 872.6 504.1 872.1 503.7 871.6C503.2 871.0 502.8 870.5 502.4 869.9C502.0 869.3 501.6 868.8 501.2 868.1C500.8 867.5 500.5 866.9 500.1 866.3C499.8 865.6 499.5 864.9 499.2 864.3C498.9 863.6 498.6 862.9 498.3 862.2C498.1 861.5 497.8 860.8 497.6 860.1C497.4 859.4 497.3 858.7 497.1 857.9C496.9 857.2 496.8 856.5 496.7 855.8C496.6 855.1 496.5 854.4 496.5 853.7C496.4 853.0 496.4 852.3 496.4 851.6C496.4 850.9 496.5 850.2 496.5 849.6C496.6 848.9 496.7 848.3 496.8 847.6C496.9 847.0 497.0 846.4 497.2 845.8C497.4 845.2 497.6 844.7 497.8 844.1C498.0 843.6 498.2 843.0 498.5 842.6C498.8 842.1 499.0 841.6 499.4 841.2C499.7 840.7 500.0 840.3 500.3 840.0C500.7 839.6 501.1 839.3 501.5 838.9C501.8 838.6 502.3 838.4 502.7 838.1C503.1 837.9 503.5 837.7 504.0 837.5C504.4 837.4 504.9 837.2 505.4 837.1C505.8 837.1 506.3 837.0 506.8 837.0C507.3 837.0 507.8 837.0 508.3 837.1C508.8 837.1 509.4 837.2 509.9 837.3C510.4 837.5 510.9 837.6 511.4 837.9C511.9 838.1 512.5 838.3 513.0 838.6C513.5 838.9 514.0 839.2 514.5 839.5C515.0 839.9 515.5 840.2 516.0 840.6C516.5 841.1 517.0 841.5 517.4 842.0C517.9 842.4 518.4 842.9 518.8 843.4C519.3 844.0 519.7 844.5 520.1 845.1C520.5 845.7 520.9 846.2 521.3 846.9C521.7 847.5 522.0 848.1 522.4 848.7C522.7 849.4 523.0 850.1 523.3 850.7C523.6 851.4 523.9 852.1 524.2 852.8ZM520.2 853.5C520.4 853.9 520.5 854.2 520.6 854.6C520.7 855.0 520.8 855.4 520.9 855.7C521.0 856.1 521.1 856.5 521.1 856.9C521.2 857.2 521.3 857.6 521.3 858.0C521.3 858.3 521.4 858.7 521.4 859.1C521.4 859.4 521.4 859.8 521.4 860.1C521.4 860.5 521.4 860.8 521.3 861.1C521.3 861.4 521.2 861.7 521.2 862.1C521.1 862.4 521.0 862.6 520.9 862.9C520.9 863.2 520.8 863.5 520.6 863.7C520.5 864.0 520.4 864.2 520.3 864.4C520.1 864.6 520.0 864.8 519.8 865.0C519.7 865.2 519.5 865.4 519.4 865.5C519.2 865.7 519.0 865.8 518.8 865.9C518.6 866.0 518.4 866.1 518.2 866.2C518.0 866.3 517.8 866.3 517.6 866.4C517.4 866.4 517.1 866.4 516.9 866.4C516.7 866.4 516.5 866.4 516.2 866.3C516.0 866.3 515.7 866.2 515.5 866.2C515.3 866.1 515.0 866.0 514.8 865.8C514.5 865.7 514.3 865.6 514.0 865.4C513.8 865.3 513.5 865.1 513.3 864.9C513.1 864.7 512.8 864.5 512.6 864.3C512.3 864.1 512.1 863.8 511.9 863.6C511.7 863.3 511.4 863.0 511.2 862.8C511.0 862.5 510.8 862.2 510.6 861.9C510.4 861.6 510.2 861.3 510.0 860.9C509.8 860.6 509.6 860.3 509.4 859.9C509.3 859.6 509.1 859.2 508.9 858.9C508.8 858.5 508.6 858.1 508.5 857.8C508.4 857.4 508.2 857.0 508.1 856.6C508.0 856.3 507.9 855.9 507.8 855.5C507.7 855.1 507.7 854.8 507.6 854.4C507.5 854.0 507.5 853.6 507.4 853.3C507.4 852.9 507.4 852.5 507.4 852.2C507.4 851.8 507.4 851.5 507.4 851.1C507.4 850.8 507.4 850.5 507.4 850.1C507.5 849.8 507.5 849.5 507.6 849.2C507.6 848.9 507.7 848.6 507.8 848.3C507.9 848.1 508.0 847.8 508.1 847.5C508.2 847.3 508.3 847.1 508.5 846.8C508.6 846.6 508.7 846.4 508.9 846.2C509.1 846.0 509.2 845.9 509.4 845.7C509.6 845.6 509.7 845.4 509.9 845.3C510.1 845.2 510.3 845.1 510.5 845.1C510.7 845.0 510.9 844.9 511.2 844.9C511.4 844.9 511.6 844.8 511.8 844.8C512.1 844.8 512.3 844.9 512.5 844.9C512.8 845.0 513.0 845.0 513.2 845.1C513.5 845.2 513.7 845.3 514.0 845.4C514.2 845.5 514.5 845.7 514.7 845.8C515.0 846.0 515.2 846.1 515.4 846.3C515.7 846.5 515.9 846.7 516.2 847.0C516.4 847.2 516.6 847.4 516.9 847.7C517.1 847.9 517.3 848.2 517.5 848.5C517.8 848.8 518.0 849.1 518.2 849.4C518.4 849.7 518.6 850.0 518.8 850.3C519.0 850.7 519.1 851.0 519.3 851.3C519.5 851.7 519.7 852.0 519.8 852.4C520.0 852.8 520.1 853.1 520.2 853.5Z"/>
<path fill="none" stroke="#1c1c1c" stroke-width="8" d="M497.8 840.4C497.6 840.5 497.1 840.6 496.8 840.7C496.4 840.7 496.1 840.7 495.7 840.7C495.3 840.7 494.9 840.7 494.6 840.6C494.2 840.6 493.8 840.5 493.4 840.4C493.0 840.2 492.6 840.1 492.2 839.9C491.8 839.8 491.4 839.6 491.0 839.3C490.6 839.1 490.2 838.9 489.9 838.6C489.5 838.3 489.1 838.0 488.7 837.7C488.3 837.4 488.0 837.1 487.6 836.7C487.2 836.4 486.9 836.0 486.5 835.6C486.2 835.2 485.8 834.8 485.5 834.3C485.2 833.9 484.9 833.5 484.6 833.0C484.3 832.5 484.0 832.1 483.7 831.6C483.4 831.1 483.2 830.6 482.9 830.1C482.7 829.6 482.5 829.1 482.3 828.6C482.0 828.1 481.9 827.5 481.7 827.0C481.5 826.5 481.4 826.0 481.2 825.4C481.1 824.9 481.0 824.4 480.9 823.8C480.8 823.3 480.7 822.8 480.7 822.3C480.6 821.8 480.6 821.3 480.6 820.8C480.6 820.3 480.6 819.8 480.6 819.3C480.6 818.8 480.7 818.4 480.7 817.9C480.8 817.4 480.9 817.0 481.0 816.6C481.1 816.2 481.3 815.8 481.4 815.4C481.6 815.0 481.7 814.6 481.9 814.3C482.1 813.9 482.3 813.6 482.5 813.3C482.8 813.0 483.0 812.7 483.2 812.4C483.5 812.2 483.8 812.0 484.1 811.7C484.3 811.5 484.6 811.4 485.0 811.2C485.3 811.0 485.8 810.9 485.9 810.8M477.5 838.8L500.0 846.2"/>
<path fill="none" stroke="#1c1c1c" stroke-width="6" d="M471.2 861.2L495.0 870.0"/>
<path fill="none" stroke="#1c1c1c" stroke-width="5" d="M476.2 867.5L481.2 872.5"/>
<path fill="none" stroke="#1c1c1c" stroke-width="4" d="M522.5 852.8C522.7 853.4 522.9 853.9 523.1 854.4C523.2 855.0 523.4 855.5 523.5 856.1C523.6 856.6 523.7 857.2 523.8 857.7C523.9 858.3 523.9 858.8 524.0 859.3C524.0 859.9 524.0 860.4 524.0 860.9C524.0 861.4 524.0 862.0 524.0 862.5C524.0 863.0 523.9 863.5 523.8 863.9C523.8 864.4 523.7 864.9 523.5 865.3C523.4 865.8 523.3 866.2 523.1 866.6C523.0 867.0 522.8 867.4 522.6 867.8C522.4 868.1 522.2 868.5 522.0 868.8C521.8 869.1 521.6 869.4 521.3 869.7C521.1 870.0 520.8 870.2 520.5 870.5C520.2 870.7 519.9 870.9 519.6 871.1C519.3 871.3 519.0 871.4 518.7 871.5C518.4 871.6 518.0 871.7 517.7 871.8C517.3 871.9 517.0 871.9 516.6 871.9C516.2 871.9 515.9 871.9 515.5 871.8C515.1 871.8 514.8 871.7 514.4 871.6C514.0 871.5 513.6 871.3 513.2 871.2C512.9 871.0 512.5 870.8 512.1 870.6C511.7 870.4 511.3 870.2 511.0 869.9C510.6 869.6 510.2 869.3 509.9 869.0C509.5 868.7 509.1 868.4 508.8 868.0C508.4 867.6 508.1 867.2 507.8 866.8C507.4 866.4 507.1 866.0 506.8 865.6C506.5 865.1 506.2 864.7 505.9 864.2C505.6 863.8 505.3 863.3 505.1 862.8C504.8 862.3 504.6 861.8 504.4 861.2C504.1 860.7 503.9 860.2 503.7 859.7C503.5 859.1 503.4 858.6 503.2 858.1C503.0 857.5 502.9 857.0 502.8 856.4C502.7 855.9 502.6 855.3 502.5 854.8C502.4 854.2 502.3 853.7 502.3 853.2C502.2 852.6 502.2 852.1 502.2 851.6C502.2 851.1 502.2 850.5 502.3 850.0C502.3 849.5 502.3 849.0 502.4 848.6C502.5 848.1 502.6 847.6 502.7 847.2C502.8 846.7 503.0 846.3 503.1 845.9C503.3 845.5 503.4 845.1 503.6 844.7C503.8 844.4 504.0 844.0 504.2 843.7C504.4 843.4 504.7 843.1 504.9 842.8C505.2 842.5 505.5 842.3 505.7 842.0C506.0 841.8 506.3 841.6 506.6 841.4C506.9 841.2 507.2 841.1 507.6 841.0C507.9 840.9 508.2 840.8 508.6 840.7C508.9 840.6 509.3 840.6 509.6 840.6C510.0 840.6 510.4 840.6 510.7 840.7C511.1 840.7 511.5 840.8 511.9 840.9C512.2 841.0 512.6 841.2 513.0 841.3C513.4 841.5 513.8 841.7 514.2 841.9C514.5 842.1 514.9 842.3 515.3 842.6C515.7 842.9 516.0 843.2 516.4 843.5C516.8 843.8 517.1 844.1 517.5 844.5C517.8 844.9 518.2 845.3 518.5 845.7C518.8 846.1 519.1 846.5 519.4 846.9C519.8 847.4 520.1 847.8 520.3 848.3C520.6 848.7 520.9 849.2 521.2 849.7C521.4 850.2 521.7 850.7 521.9 851.3C522.1 851.8 522.3 852.3 522.5 852.8Z"/>
</g>
<g clip-path="url(#c20)">
<path fill="none" stroke="#1c1c1c" stroke-width="2.6" d="M680.0 817.5L692.5 810.0M680.0 830.0L707.5 810.0"/>
</g>
<g clip-path="url(#c21)">
<path fill="none" stroke="#1c1c1c" stroke-width="2.6" d="M938.8 235.0C938.1 236.2 936.5 240.2 935.0 242.5C933.5 244.8 932.3 246.9 930.0 248.8C927.7 250.6 923.5 251.7 921.2 253.8C919.0 255.8 917.9 258.3 916.2 261.2C914.6 264.2 912.6 267.3 911.2 271.2C909.9 275.2 908.1 280.6 908.1 285.0C908.1 289.4 909.7 293.5 911.2 297.5C912.8 301.5 915.5 305.8 917.5 308.8C919.5 311.7 922.2 314.0 923.1 315.0M918.1 264.4L928.1 263.8L928.8 281.9L921.2 282.5ZM921.2 282.5L921.9 315.0M928.8 281.9L930.0 316.9M920.6 293.8L918.1 308.8M923.1 315.0C924.7 315.3 929.3 316.5 932.5 316.9C935.7 317.3 939.6 316.6 942.5 317.5C945.4 318.4 948.8 321.7 950.0 322.5M929.4 283.1C930.9 283.2 936.1 282.8 938.8 283.8C941.4 284.7 943.1 287.3 945.0 288.8C946.9 290.2 948.3 291.7 950.0 292.5C951.7 293.3 954.2 293.5 955.0 293.8M930.0 296.2C930.8 297.3 932.9 300.6 935.0 302.5C937.1 304.4 939.2 306.5 942.5 307.5C945.8 308.5 952.9 308.5 955.0 308.8M960.0 237.5C959.6 240.2 959.0 248.8 957.5 253.8C956.0 258.8 953.5 264.0 951.2 267.5C949.0 271.0 945.2 272.7 943.8 275.0C942.3 277.3 941.9 278.8 942.5 281.2C943.1 283.8 945.8 288.0 947.5 290.0C949.2 292.0 951.7 292.6 952.5 293.1M960.0 237.5L987.5 250.6M967.5 235.0L988.8 247.5M955.0 305.0C954.8 302.1 953.8 292.3 953.8 287.5C953.8 282.7 953.8 280.2 955.0 276.2C956.2 272.3 958.3 267.0 961.2 263.8C964.2 260.5 968.1 258.6 972.5 256.9C976.9 255.1 985.0 253.8 987.5 253.1M956.9 302.5C956.8 300.0 955.7 292.1 956.2 287.5C956.8 282.9 957.7 278.3 960.0 275.0C962.3 271.7 966.0 269.3 970.0 267.5C974.0 265.7 979.0 264.9 983.8 264.4C988.5 263.9 996.2 264.4 998.8 264.4M970.6 303.1C970.5 301.6 969.3 296.8 970.0 293.8C970.7 290.7 972.7 287.2 975.0 285.0C977.3 282.8 979.8 281.6 983.8 280.6C987.7 279.7 993.1 279.4 998.8 279.4C1004.4 279.4 1012.7 280.2 1017.5 280.6C1022.3 281.0 1025.8 281.7 1027.5 281.9M955.0 302.5L955.6 325.0M970.6 303.1L970.0 325.0M955.0 302.5C956.2 302.8 959.9 304.3 962.5 304.4C965.1 304.5 969.3 303.3 970.6 303.1M955.6 325.0C956.4 325.8 958.0 329.3 960.0 330.0C962.0 330.7 965.8 330.2 967.5 329.4C969.2 328.5 969.6 325.7 970.0 325.0M1011.2 250.6C1011.2 251.0 1011.2 251.4 1011.2 251.8C1011.1 252.2 1011.1 252.6 1011.0 253.0C1010.9 253.3 1010.8 253.7 1010.7 254.1C1010.6 254.5 1010.4 254.8 1010.3 255.2C1010.1 255.6 1009.9 255.9 1009.7 256.2C1009.5 256.6 1009.3 256.9 1009.1 257.2C1008.9 257.6 1008.6 257.9 1008.4 258.2C1008.1 258.4 1007.8 258.7 1007.5 259.0C1007.2 259.2 1006.9 259.5 1006.6 259.7C1006.3 260.0 1006.0 260.2 1005.6 260.4C1005.3 260.6 1004.9 260.7 1004.6 260.9C1004.2 261.1 1003.8 261.2 1003.5 261.3C1003.1 261.4 1002.7 261.5 1002.3 261.6C1002.0 261.7 1001.6 261.8 1001.2 261.8C1000.8 261.9 1000.4 261.9 1000.0 261.9C999.6 261.9 999.2 261.9 998.8 261.8C998.4 261.8 998.0 261.7 997.7 261.6C997.3 261.5 996.9 261.4 996.5 261.3C996.2 261.2 995.8 261.1 995.4 260.9C995.1 260.7 994.7 260.6 994.4 260.4C994.0 260.2 993.7 260.0 993.4 259.7C993.1 259.5 992.8 259.2 992.5 259.0C992.2 258.7 991.9 258.4 991.6 258.2C991.4 257.9 991.1 257.6 990.9 257.2C990.7 256.9 990.5 256.6 990.3 256.2C990.1 255.9 989.9 255.6 989.7 255.2C989.6 254.8 989.4 254.5 989.3 254.1C989.2 253.7 989.1 253.3 989.0 253.0C988.9 252.6 988.9 252.2 988.8 251.8C988.8 251.4 988.8 251.0 988.8 250.6C988.8 250.2 988.8 249.8 988.8 249.4C988.9 249.1 988.9 248.7 989.0 248.3C989.1 247.9 989.2 247.5 989.3 247.1C989.4 246.8 989.6 246.4 989.7 246.0C989.9 245.7 990.1 245.3 990.3 245.0C990.5 244.7 990.7 244.3 990.9 244.0C991.1 243.7 991.4 243.4 991.6 243.1C991.9 242.8 992.2 242.5 992.5 242.3C992.8 242.0 993.1 241.8 993.4 241.5C993.7 241.3 994.0 241.1 994.4 240.9C994.7 240.7 995.1 240.5 995.4 240.3C995.8 240.2 996.2 240.0 996.5 239.9C996.9 239.8 997.3 239.7 997.7 239.6C998.0 239.5 998.4 239.5 998.8 239.4C999.2 239.4 999.6 239.4 1000.0 239.4C1000.4 239.4 1000.8 239.4 1001.2 239.4C1001.6 239.5 1002.0 239.5 1002.3 239.6C1002.7 239.7 1003.1 239.8 1003.5 239.9C1003.8 240.0 1004.2 240.2 1004.6 240.3C1004.9 240.5 1005.3 240.7 1005.6 240.9C1006.0 241.1 1006.3 241.3 1006.6 241.5C1006.9 241.8 1007.2 242.0 1007.5 242.3C1007.8 242.5 1008.1 242.8 1008.4 243.1C1008.6 243.4 1008.9 243.7 1009.1 244.0C1009.3 244.3 1009.5 244.7 1009.7 245.0C1009.9 245.3 1010.1 245.7 1010.3 246.0C1010.4 246.4 1010.6 246.8 1010.7 247.1C1010.8 247.5 1010.9 247.9 1011.0 248.3C1011.1 248.7 1011.1 249.1 1011.2 249.4C1011.2 249.8 1011.2 250.2 1011.2 250.6ZM1010.0 250.6C1010.0 251.0 1010.0 251.3 1009.9 251.7C1009.9 252.0 1009.9 252.4 1009.8 252.7C1009.7 253.0 1009.6 253.4 1009.5 253.7C1009.4 254.0 1009.3 254.4 1009.1 254.7C1009.0 255.0 1008.8 255.3 1008.7 255.6C1008.5 255.9 1008.3 256.2 1008.1 256.5C1007.9 256.8 1007.7 257.1 1007.4 257.3C1007.2 257.6 1007.0 257.8 1006.7 258.1C1006.4 258.3 1006.2 258.5 1005.9 258.7C1005.6 258.9 1005.3 259.1 1005.0 259.3C1004.7 259.5 1004.4 259.6 1004.1 259.8C1003.7 259.9 1003.4 260.0 1003.1 260.1C1002.8 260.2 1002.4 260.3 1002.1 260.4C1001.7 260.5 1001.4 260.5 1001.0 260.6C1000.7 260.6 1000.3 260.6 1000.0 260.6C999.7 260.6 999.3 260.6 999.0 260.6C998.6 260.5 998.3 260.5 997.9 260.4C997.6 260.3 997.2 260.2 996.9 260.1C996.6 260.0 996.3 259.9 995.9 259.8C995.6 259.6 995.3 259.5 995.0 259.3C994.7 259.1 994.4 258.9 994.1 258.7C993.8 258.5 993.6 258.3 993.3 258.1C993.0 257.8 992.8 257.6 992.6 257.3C992.3 257.1 992.1 256.8 991.9 256.5C991.7 256.2 991.5 255.9 991.3 255.6C991.2 255.3 991.0 255.0 990.9 254.7C990.7 254.4 990.6 254.0 990.5 253.7C990.4 253.4 990.3 253.0 990.2 252.7C990.1 252.4 990.1 252.0 990.1 251.7C990.0 251.3 990.0 251.0 990.0 250.6C990.0 250.3 990.0 249.9 990.1 249.6C990.1 249.2 990.1 248.9 990.2 248.5C990.3 248.2 990.4 247.9 990.5 247.5C990.6 247.2 990.7 246.9 990.9 246.6C991.0 246.2 991.2 245.9 991.3 245.6C991.5 245.3 991.7 245.0 991.9 244.7C992.1 244.5 992.3 244.2 992.6 243.9C992.8 243.7 993.0 243.4 993.3 243.2C993.6 243.0 993.8 242.7 994.1 242.5C994.4 242.3 994.7 242.1 995.0 242.0C995.3 241.8 995.6 241.6 995.9 241.5C996.3 241.3 996.6 241.2 996.9 241.1C997.2 241.0 997.6 240.9 997.9 240.8C998.3 240.8 998.6 240.7 999.0 240.7C999.3 240.6 999.7 240.6 1000.0 240.6C1000.3 240.6 1000.7 240.6 1001.0 240.7C1001.4 240.7 1001.7 240.8 1002.1 240.8C1002.4 240.9 1002.8 241.0 1003.1 241.1C1003.4 241.2 1003.7 241.3 1004.1 241.5C1004.4 241.6 1004.7 241.8 1005.0 242.0C1005.3 242.1 1005.6 242.3 1005.9 242.5C1006.2 242.7 1006.4 243.0 1006.7 243.2C1007.0 243.4 1007.2 243.7 1007.4 243.9C1007.7 244.2 1007.9 244.5 1008.1 244.7C1008.3 245.0 1008.5 245.3 1008.7 245.6C1008.8 245.9 1009.0 246.2 1009.1 246.6C1009.3 246.9 1009.4 247.2 1009.5 247.5C1009.6 247.9 1009.7 248.2 1009.8 248.5C1009.9 248.9 1009.9 249.2 1009.9 249.6C1010.0 249.9 1010.0 250.3 1010.0 250.6ZM1007.0 250.6C1007.0 250.9 1007.0 251.1 1007.0 251.4C1006.9 251.6 1006.9 251.8 1006.8 252.1C1006.8 252.3 1006.7 252.6 1006.7 252.8C1006.6 253.0 1006.5 253.2 1006.4 253.5C1006.3 253.7 1006.2 253.9 1006.1 254.1C1005.9 254.3 1005.8 254.5 1005.7 254.7C1005.5 254.9 1005.4 255.1 1005.2 255.3C1005.0 255.5 1004.9 255.7 1004.7 255.8C1004.5 256.0 1004.3 256.1 1004.1 256.3C1003.9 256.4 1003.7 256.6 1003.5 256.7C1003.3 256.8 1003.1 256.9 1002.8 257.0C1002.6 257.1 1002.4 257.2 1002.2 257.3C1001.9 257.4 1001.7 257.4 1001.5 257.5C1001.2 257.5 1001.0 257.6 1000.7 257.6C1000.5 257.6 1000.2 257.6 1000.0 257.6C999.8 257.6 999.5 257.6 999.3 257.6C999.0 257.6 998.8 257.5 998.5 257.5C998.3 257.4 998.1 257.4 997.8 257.3C997.6 257.2 997.4 257.1 997.2 257.0C996.9 256.9 996.7 256.8 996.5 256.7C996.3 256.6 996.1 256.4 995.9 256.3C995.7 256.1 995.5 256.0 995.3 255.8C995.1 255.7 995.0 255.5 994.8 255.3C994.6 255.1 994.5 254.9 994.3 254.7C994.2 254.5 994.1 254.3 993.9 254.1C993.8 253.9 993.7 253.7 993.6 253.5C993.5 253.2 993.4 253.0 993.3 252.8C993.3 252.6 993.2 252.3 993.2 252.1C993.1 251.8 993.1 251.6 993.0 251.4C993.0 251.1 993.0 250.9 993.0 250.6C993.0 250.4 993.0 250.1 993.0 249.9C993.1 249.7 993.1 249.4 993.2 249.2C993.2 248.9 993.3 248.7 993.3 248.5C993.4 248.2 993.5 248.0 993.6 247.8C993.7 247.6 993.8 247.3 993.9 247.1C994.1 246.9 994.2 246.7 994.3 246.5C994.5 246.3 994.6 246.1 994.8 245.9C995.0 245.8 995.1 245.6 995.3 245.4C995.5 245.3 995.7 245.1 995.9 245.0C996.1 244.8 996.3 244.7 996.5 244.6C996.7 244.4 996.9 244.3 997.2 244.2C997.4 244.1 997.6 244.0 997.8 244.0C998.1 243.9 998.3 243.8 998.5 243.8C998.8 243.7 999.0 243.7 999.3 243.7C999.5 243.6 999.8 243.6 1000.0 243.6C1000.2 243.6 1000.5 243.6 1000.7 243.7C1001.0 243.7 1001.2 243.7 1001.5 243.8C1001.7 243.8 1001.9 243.9 1002.2 244.0C1002.4 244.0 1002.6 244.1 1002.8 244.2C1003.1 244.3 1003.3 244.4 1003.5 244.6C1003.7 244.7 1003.9 244.8 1004.1 245.0C1004.3 245.1 1004.5 245.3 1004.7 245.4C1004.9 245.6 1005.0 245.8 1005.2 245.9C1005.4 246.1 1005.5 246.3 1005.7 246.5C1005.8 246.7 1005.9 246.9 1006.1 247.1C1006.2 247.3 1006.3 247.6 1006.4 247.8C1006.5 248.0 1006.6 248.2 1006.7 248.5C1006.7 248.7 1006.8 248.9 1006.8 249.2C1006.9 249.4 1006.9 249.7 1007.0 249.9C1007.0 250.1 1007.0 250.4 1007.0 250.6ZM1010.0 245.0L1027.5 250.6L1046.2 235.0M1027.5 250.6L1055.0 268.8M1000.0 264.4L1017.5 272.5L1041.2 287.5M1027.5 250.6L1016.2 272.5M1055.0 268.8L1080.0 257.5M1041.2 287.5C1041.7 285.8 1041.5 280.5 1043.8 277.5C1046.0 274.5 1053.1 270.7 1055.0 269.4M1079.4 239.4C1079.4 239.7 1079.4 240.0 1079.3 240.3C1079.3 240.6 1079.2 240.9 1079.1 241.2C1079.0 241.5 1078.9 241.8 1078.7 242.1C1078.6 242.4 1078.4 242.7 1078.2 242.9C1078.1 243.2 1077.8 243.5 1077.6 243.8C1077.4 244.0 1077.1 244.3 1076.9 244.5C1076.6 244.8 1076.3 245.0 1076.0 245.2C1075.7 245.5 1075.4 245.7 1075.0 245.9C1074.7 246.1 1074.3 246.3 1074.0 246.5C1073.6 246.6 1073.2 246.8 1072.8 247.0C1072.4 247.1 1072.0 247.2 1071.6 247.4C1071.2 247.5 1070.7 247.6 1070.3 247.7C1069.9 247.8 1069.4 247.9 1069.0 247.9C1068.5 248.0 1068.1 248.0 1067.6 248.1C1067.2 248.1 1066.7 248.1 1066.2 248.1C1065.8 248.1 1065.3 248.1 1064.9 248.1C1064.4 248.0 1064.0 248.0 1063.5 247.9C1063.1 247.9 1062.6 247.8 1062.2 247.7C1061.8 247.6 1061.3 247.5 1060.9 247.4C1060.5 247.2 1060.1 247.1 1059.7 247.0C1059.3 246.8 1058.9 246.6 1058.5 246.5C1058.2 246.3 1057.8 246.1 1057.5 245.9C1057.1 245.7 1056.8 245.5 1056.5 245.2C1056.2 245.0 1055.9 244.8 1055.6 244.5C1055.4 244.3 1055.1 244.0 1054.9 243.8C1054.7 243.5 1054.4 243.2 1054.3 242.9C1054.1 242.7 1053.9 242.4 1053.8 242.1C1053.6 241.8 1053.5 241.5 1053.4 241.2C1053.3 240.9 1053.2 240.6 1053.2 240.3C1053.1 240.0 1053.1 239.7 1053.1 239.4C1053.1 239.1 1053.1 238.8 1053.2 238.5C1053.2 238.2 1053.3 237.9 1053.4 237.6C1053.5 237.3 1053.6 237.0 1053.8 236.7C1053.9 236.4 1054.1 236.1 1054.3 235.8C1054.4 235.5 1054.7 235.3 1054.9 235.0C1055.1 234.7 1055.4 234.5 1055.6 234.2C1055.9 234.0 1056.2 233.7 1056.5 233.5C1056.8 233.3 1057.1 233.1 1057.5 232.9C1057.8 232.7 1058.2 232.5 1058.5 232.3C1058.9 232.1 1059.3 231.9 1059.7 231.8C1060.1 231.6 1060.5 231.5 1060.9 231.4C1061.3 231.3 1061.8 231.1 1062.2 231.1C1062.6 231.0 1063.1 230.9 1063.5 230.8C1064.0 230.8 1064.4 230.7 1064.9 230.7C1065.3 230.6 1065.8 230.6 1066.2 230.6C1066.7 230.6 1067.2 230.6 1067.6 230.7C1068.1 230.7 1068.5 230.8 1069.0 230.8C1069.4 230.9 1069.9 231.0 1070.3 231.1C1070.7 231.1 1071.2 231.3 1071.6 231.4C1072.0 231.5 1072.4 231.6 1072.8 231.8C1073.2 231.9 1073.6 232.1 1074.0 232.3C1074.3 232.5 1074.7 232.7 1075.0 232.9C1075.4 233.1 1075.7 233.3 1076.0 233.5C1076.3 233.7 1076.6 234.0 1076.9 234.2C1077.1 234.5 1077.4 234.7 1077.6 235.0C1077.8 235.3 1078.1 235.5 1078.2 235.8C1078.4 236.1 1078.6 236.4 1078.7 236.7C1078.9 237.0 1079.0 237.3 1079.1 237.6C1079.2 237.9 1079.3 238.2 1079.3 238.5C1079.4 238.8 1079.4 239.1 1079.4 239.4ZM1078.1 239.4C1078.1 239.6 1078.1 239.9 1078.1 240.2C1078.0 240.4 1078.0 240.7 1077.9 240.9C1077.8 241.2 1077.7 241.4 1077.5 241.7C1077.4 241.9 1077.3 242.2 1077.1 242.4C1076.9 242.7 1076.7 242.9 1076.5 243.1C1076.3 243.4 1076.1 243.6 1075.9 243.8C1075.6 244.0 1075.4 244.2 1075.1 244.4C1074.8 244.6 1074.5 244.8 1074.2 244.9C1073.9 245.1 1073.6 245.3 1073.2 245.4C1072.9 245.6 1072.5 245.7 1072.2 245.9C1071.8 246.0 1071.5 246.1 1071.1 246.2C1070.7 246.3 1070.3 246.4 1069.9 246.5C1069.5 246.6 1069.1 246.7 1068.7 246.7C1068.3 246.8 1067.9 246.8 1067.5 246.8C1067.1 246.9 1066.7 246.9 1066.2 246.9C1065.8 246.9 1065.4 246.9 1065.0 246.8C1064.6 246.8 1064.2 246.8 1063.8 246.7C1063.4 246.7 1063.0 246.6 1062.6 246.5C1062.2 246.4 1061.8 246.3 1061.4 246.2C1061.0 246.1 1060.7 246.0 1060.3 245.9C1060.0 245.7 1059.6 245.6 1059.3 245.4C1058.9 245.3 1058.6 245.1 1058.3 244.9C1058.0 244.8 1057.7 244.6 1057.4 244.4C1057.1 244.2 1056.9 244.0 1056.6 243.8C1056.4 243.6 1056.2 243.4 1056.0 243.1C1055.8 242.9 1055.6 242.7 1055.4 242.4C1055.2 242.2 1055.1 241.9 1055.0 241.7C1054.8 241.4 1054.7 241.2 1054.6 240.9C1054.5 240.7 1054.5 240.4 1054.4 240.2C1054.4 239.9 1054.4 239.6 1054.4 239.4C1054.4 239.1 1054.4 238.9 1054.4 238.6C1054.5 238.3 1054.5 238.1 1054.6 237.8C1054.7 237.6 1054.8 237.3 1055.0 237.1C1055.1 236.8 1055.2 236.6 1055.4 236.3C1055.6 236.1 1055.8 235.9 1056.0 235.6C1056.2 235.4 1056.4 235.2 1056.6 235.0C1056.9 234.8 1057.1 234.6 1057.4 234.4C1057.7 234.2 1058.0 234.0 1058.3 233.8C1058.6 233.6 1058.9 233.5 1059.3 233.3C1059.6 233.2 1060.0 233.0 1060.3 232.9C1060.7 232.7 1061.0 232.6 1061.4 232.5C1061.8 232.4 1062.2 232.3 1062.6 232.2C1063.0 232.2 1063.4 232.1 1063.8 232.0C1064.2 232.0 1064.6 231.9 1065.0 231.9C1065.4 231.9 1065.8 231.9 1066.2 231.9C1066.7 231.9 1067.1 231.9 1067.5 231.9C1067.9 231.9 1068.3 232.0 1068.7 232.0C1069.1 232.1 1069.5 232.2 1069.9 232.2C1070.3 232.3 1070.7 232.4 1071.1 232.5C1071.5 232.6 1071.8 232.7 1072.2 232.9C1072.5 233.0 1072.9 233.2 1073.2 233.3C1073.6 233.5 1073.9 233.6 1074.2 233.8C1074.5 234.0 1074.8 234.2 1075.1 234.4C1075.4 234.6 1075.6 234.8 1075.9 235.0C1076.1 235.2 1076.3 235.4 1076.5 235.6C1076.7 235.9 1076.9 236.1 1077.1 236.3C1077.3 236.6 1077.4 236.8 1077.5 237.1C1077.7 237.3 1077.8 237.6 1077.9 237.8C1078.0 238.1 1078.0 238.3 1078.1 238.6C1078.1 238.9 1078.1 239.1 1078.1 239.4ZM1075.6 239.4C1075.6 239.6 1075.6 239.8 1075.6 240.0C1075.5 240.2 1075.5 240.4 1075.4 240.5C1075.4 240.7 1075.3 240.9 1075.2 241.1C1075.1 241.3 1074.9 241.5 1074.8 241.7C1074.7 241.8 1074.5 242.0 1074.4 242.2C1074.2 242.4 1074.0 242.5 1073.8 242.7C1073.6 242.8 1073.4 243.0 1073.2 243.1C1073.0 243.3 1072.8 243.4 1072.5 243.6C1072.3 243.7 1072.0 243.8 1071.8 243.9C1071.5 244.0 1071.2 244.1 1070.9 244.2C1070.7 244.3 1070.4 244.4 1070.1 244.5C1069.8 244.6 1069.5 244.7 1069.1 244.7C1068.8 244.8 1068.5 244.8 1068.2 244.9C1067.9 244.9 1067.6 244.9 1067.2 245.0C1066.9 245.0 1066.6 245.0 1066.2 245.0C1065.9 245.0 1065.6 245.0 1065.3 245.0C1064.9 244.9 1064.6 244.9 1064.3 244.9C1064.0 244.8 1063.7 244.8 1063.4 244.7C1063.0 244.7 1062.7 244.6 1062.4 244.5C1062.1 244.4 1061.8 244.3 1061.6 244.2C1061.3 244.1 1061.0 244.0 1060.7 243.9C1060.5 243.8 1060.2 243.7 1060.0 243.6C1059.7 243.4 1059.5 243.3 1059.3 243.1C1059.1 243.0 1058.9 242.8 1058.7 242.7C1058.5 242.5 1058.3 242.4 1058.1 242.2C1058.0 242.0 1057.8 241.8 1057.7 241.7C1057.6 241.5 1057.4 241.3 1057.3 241.1C1057.2 240.9 1057.1 240.7 1057.1 240.5C1057.0 240.4 1057.0 240.2 1056.9 240.0C1056.9 239.8 1056.9 239.6 1056.9 239.4C1056.9 239.2 1056.9 239.0 1056.9 238.8C1057.0 238.6 1057.0 238.4 1057.1 238.2C1057.1 238.0 1057.2 237.8 1057.3 237.6C1057.4 237.5 1057.6 237.3 1057.7 237.1C1057.8 236.9 1058.0 236.7 1058.1 236.6C1058.3 236.4 1058.5 236.2 1058.7 236.1C1058.9 235.9 1059.1 235.8 1059.3 235.6C1059.5 235.5 1059.7 235.3 1060.0 235.2C1060.2 235.1 1060.5 234.9 1060.7 234.8C1061.0 234.7 1061.3 234.6 1061.6 234.5C1061.8 234.4 1062.1 234.3 1062.4 234.2C1062.7 234.2 1063.0 234.1 1063.4 234.0C1063.7 234.0 1064.0 233.9 1064.3 233.9C1064.6 233.8 1064.9 233.8 1065.3 233.8C1065.6 233.8 1065.9 233.8 1066.2 233.8C1066.6 233.8 1066.9 233.8 1067.2 233.8C1067.6 233.8 1067.9 233.8 1068.2 233.9C1068.5 233.9 1068.8 234.0 1069.1 234.0C1069.5 234.1 1069.8 234.2 1070.1 234.2C1070.4 234.3 1070.7 234.4 1070.9 234.5C1071.2 234.6 1071.5 234.7 1071.8 234.8C1072.0 234.9 1072.3 235.1 1072.5 235.2C1072.8 235.3 1073.0 235.5 1073.2 235.6C1073.4 235.8 1073.6 235.9 1073.8 236.1C1074.0 236.2 1074.2 236.4 1074.4 236.6C1074.5 236.7 1074.7 236.9 1074.8 237.1C1074.9 237.3 1075.1 237.5 1075.2 237.6C1075.3 237.8 1075.4 238.0 1075.4 238.2C1075.5 238.4 1075.5 238.6 1075.6 238.8C1075.6 239.0 1075.6 239.2 1075.6 239.4ZM1053.1 242.5L1055.0 268.8M1079.4 241.2L1080.0 257.5M1087.5 235.0C1086.7 236.7 1083.8 242.5 1082.5 245.0C1081.2 247.5 1079.6 248.3 1080.0 250.0C1080.4 251.7 1081.7 253.5 1085.0 255.0C1088.3 256.5 1094.2 257.6 1100.0 258.8C1105.8 259.9 1116.7 261.4 1120.0 261.9M1092.5 235.0C1091.7 236.9 1088.5 243.6 1087.5 246.2C1086.5 248.9 1085.8 249.5 1086.2 250.6C1086.7 251.8 1087.3 252.3 1090.0 253.1C1092.7 254.0 1097.5 254.8 1102.5 255.6C1107.5 256.5 1117.1 257.7 1120.0 258.1M1085.0 255.0C1086.2 255.8 1091.5 257.9 1092.5 260.0C1093.5 262.1 1092.3 265.2 1091.2 267.5C1090.2 269.8 1086.5 271.7 1086.2 273.8C1086.0 275.8 1089.4 279.0 1090.0 280.0M1096.2 258.8C1096.5 260.0 1098.1 264.0 1097.5 266.2C1096.9 268.5 1092.9 270.4 1092.5 272.5C1092.1 274.6 1094.6 277.7 1095.0 278.8M1000.6 295.0C1001.8 294.2 1004.1 295.8 1005.0 297.5C1005.9 299.2 1006.4 302.5 1006.2 305.0C1006.1 307.5 1005.4 311.7 1004.4 312.5C1003.3 313.3 1001.0 311.7 1000.0 310.0C999.0 308.3 998.0 305.0 998.1 302.5C998.2 300.0 999.5 295.8 1000.6 295.0ZM999.4 295.6L1022.5 284.4M1005.0 312.5L1031.2 304.4L1065.6 287.5M1065.6 287.5C1065.8 286.5 1067.4 283.3 1066.9 281.2C1066.4 279.2 1064.4 277.0 1062.5 275.0C1060.6 273.0 1056.8 270.3 1055.6 269.4M1005.0 313.1C1005.2 313.9 1004.6 316.9 1006.2 317.5C1007.9 318.1 1012.1 317.5 1015.0 316.9C1017.9 316.2 1022.0 315.1 1023.8 313.8C1025.5 312.4 1025.3 309.6 1025.6 308.8M1003.8 315.0C1002.5 316.2 997.9 320.0 996.2 322.5C994.6 325.0 993.5 326.9 993.8 330.0C994.0 333.1 996.2 337.1 997.5 341.2C998.8 345.4 1000.0 350.2 1001.2 355.0C1002.5 359.8 1004.4 367.5 1005.0 370.0M1031.2 306.2C1032.7 306.9 1037.3 308.8 1040.0 310.0C1042.7 311.2 1045.0 311.9 1047.5 313.8C1050.0 315.6 1051.7 319.2 1055.0 321.2C1058.3 323.3 1063.8 324.2 1067.5 326.2C1071.2 328.3 1075.2 330.6 1077.5 333.8C1079.8 336.9 1080.6 343.1 1081.2 345.0M1053.1 293.8C1054.5 295.4 1058.4 301.0 1061.2 303.8C1064.1 306.5 1066.9 307.9 1070.0 310.0C1073.1 312.1 1076.7 313.8 1080.0 316.2C1083.3 318.8 1087.5 321.5 1090.0 325.0C1092.5 328.5 1092.5 334.4 1095.0 337.5C1097.5 340.6 1100.8 341.7 1105.0 343.8C1109.2 345.8 1117.5 349.0 1120.0 350.0M1067.5 288.8C1068.3 290.6 1070.0 296.9 1072.5 300.0C1075.0 303.1 1078.8 305.0 1082.5 307.5C1086.2 310.0 1091.7 312.5 1095.0 315.0C1098.3 317.5 1100.8 320.0 1102.5 322.5C1104.2 325.0 1102.5 327.9 1105.0 330.0C1107.5 332.1 1115.4 334.2 1117.5 335.0M1066.2 280.0C1067.7 280.8 1072.7 282.7 1075.0 285.0C1077.3 287.3 1077.5 291.7 1080.0 293.8C1082.5 295.8 1086.2 296.0 1090.0 297.5C1093.8 299.0 1098.8 300.4 1102.5 302.5C1106.2 304.6 1109.6 307.9 1112.5 310.0C1115.4 312.1 1118.8 314.2 1120.0 315.0M1090.0 280.0C1091.7 280.8 1096.5 282.9 1100.0 285.0C1103.5 287.1 1107.9 290.0 1111.2 292.5C1114.6 295.0 1118.5 298.8 1120.0 300.0M1095.0 275.0C1096.7 275.4 1101.7 276.0 1105.0 277.5C1108.3 279.0 1112.5 282.1 1115.0 283.8C1117.5 285.4 1119.2 286.9 1120.0 287.5M1100.0 316.2C1100.8 317.9 1103.1 323.8 1105.0 326.2C1106.9 328.8 1110.2 330.4 1111.2 331.2M1011.2 370.0C1010.9 367.3 1009.4 359.0 1009.4 353.8C1009.4 348.5 1009.9 342.9 1011.2 338.8C1012.6 334.6 1014.4 331.4 1017.5 328.8C1020.6 326.1 1025.4 323.6 1030.0 323.1C1034.6 322.6 1040.0 324.0 1045.0 325.6C1050.0 327.3 1055.0 330.1 1060.0 333.1C1065.0 336.1 1071.2 340.8 1075.0 343.8C1078.8 346.7 1081.2 349.5 1082.5 350.6M1012.5 341.2C1014.0 340.7 1018.3 337.9 1021.2 338.1C1024.2 338.3 1026.5 340.1 1030.0 342.5C1033.5 344.9 1040.4 350.8 1042.5 352.5M1011.2 355.6C1012.5 355.3 1016.0 353.3 1018.8 353.8C1021.5 354.2 1024.0 355.9 1027.5 358.1C1031.0 360.3 1037.9 365.4 1040.0 366.9M1047.5 326.9L1053.8 351.2M892.5 340.6L912.5 327.5L936.2 338.1L917.5 353.1ZM892.5 340.6L890.0 353.1L917.5 367.5L918.8 353.1M936.2 338.1L937.8 359.4M890.6 349.4L917.5 363.1M935.0 336.9L950.6 325.6M939.4 355.6L966.2 340.6M937.5 340.0L957.5 370.0M965.0 330.6L983.8 370.0M1046.2 370.0C1045.8 368.8 1043.1 365.0 1043.8 362.5C1044.4 360.0 1047.5 356.0 1050.0 355.0C1052.5 354.0 1056.9 355.0 1058.8 356.2C1060.6 357.5 1060.8 361.5 1061.2 362.5M1048.8 370.0C1048.5 369.0 1046.9 365.6 1047.5 363.8C1048.1 361.9 1050.8 359.4 1052.5 358.8C1054.2 358.1 1056.7 359.8 1057.5 360.0M1087.5 355.0L1075.0 370.0M1092.5 358.8L1082.5 370.0"/>
<path fill="none" stroke="#1c1c1c" stroke-width="4" d="M1055.0 370.0L1085.0 351.2"/>
<path fill="none" stroke="#1c1c1c" stroke-width="5" d="M1085.0 350.6L1092.5 355.6"/>
</g>
<g clip-path="url(#c22)">
<path fill="none" stroke="#1c1c1c" stroke-width="2.6" d="M1121.2 237.5C1123.1 238.3 1129.0 241.4 1132.5 242.5C1136.0 243.6 1136.7 244.2 1142.5 244.4C1148.3 244.6 1161.2 243.2 1167.5 243.8C1173.8 244.3 1175.8 245.8 1180.0 247.5C1184.2 249.2 1189.2 251.9 1192.5 253.8C1195.8 255.6 1198.8 257.9 1200.0 258.8M1127.5 235.0C1129.2 235.8 1134.6 239.0 1137.5 240.0C1140.4 241.0 1140.0 241.1 1145.0 241.2C1150.0 241.4 1161.2 240.2 1167.5 240.6C1173.8 241.0 1177.9 242.2 1182.5 243.8C1187.1 245.3 1191.9 248.1 1195.0 250.0C1198.1 251.9 1200.2 254.2 1201.2 255.0M1117.5 242.5C1119.6 243.2 1125.8 245.9 1130.0 246.9C1134.2 247.8 1136.5 248.0 1142.5 248.1C1148.5 248.2 1160.2 246.9 1166.2 247.5C1172.3 248.1 1174.8 250.0 1178.8 251.9C1182.7 253.8 1187.1 257.1 1190.0 258.8C1192.9 260.4 1195.2 261.4 1196.2 261.9M1167.5 248.8C1169.2 249.6 1174.2 251.9 1177.5 253.8C1180.8 255.6 1185.0 258.5 1187.5 260.0C1190.0 261.5 1191.7 262.1 1192.5 262.5M1188.8 235.0L1201.2 253.8M1117.5 261.2C1119.2 260.7 1124.2 258.5 1127.5 258.1C1130.8 257.7 1133.8 257.8 1137.5 258.8C1141.2 259.7 1145.4 261.5 1150.0 263.8C1154.6 266.0 1160.4 269.0 1165.0 272.5C1169.6 276.0 1174.6 280.8 1177.5 285.0C1180.4 289.2 1181.9 293.8 1182.5 297.5C1183.1 301.2 1182.1 304.6 1181.2 307.5C1180.4 310.4 1178.1 313.8 1177.5 315.0M1130.0 265.0C1131.7 265.1 1136.7 264.8 1140.0 265.6C1143.3 266.5 1146.5 267.8 1150.0 270.0C1153.5 272.2 1157.7 275.4 1161.2 278.8C1164.8 282.1 1169.0 286.5 1171.2 290.0C1173.5 293.5 1174.8 297.3 1175.0 300.0C1175.2 302.7 1174.2 304.2 1172.5 306.2C1170.8 308.3 1167.9 310.2 1165.0 312.5C1162.1 314.8 1156.7 318.8 1155.0 320.0M1096.2 271.2C1097.7 270.4 1101.9 267.7 1105.0 266.2C1108.1 264.8 1112.1 263.2 1115.0 262.5C1117.9 261.8 1120.0 261.0 1122.5 261.9C1125.0 262.7 1127.7 265.1 1130.0 267.5C1132.3 269.9 1134.8 273.3 1136.2 276.2C1137.7 279.2 1137.7 281.9 1138.8 285.0C1139.8 288.1 1140.6 291.7 1142.5 295.0C1144.4 298.3 1148.3 301.7 1150.0 305.0C1151.7 308.3 1151.9 312.5 1152.5 315.0C1153.1 317.5 1153.5 319.2 1153.8 320.0M1138.8 285.0C1138.8 283.5 1139.4 278.8 1138.8 276.2C1138.1 273.8 1136.2 271.8 1135.0 270.0C1133.8 268.2 1131.9 266.4 1131.2 265.6M1091.2 276.2C1093.1 277.1 1099.0 279.2 1102.5 281.2C1106.0 283.3 1109.4 285.6 1112.5 288.8C1115.6 291.9 1118.8 296.0 1121.2 300.0C1123.8 304.0 1126.2 309.0 1127.5 312.5C1128.8 316.0 1128.5 319.8 1128.8 321.2M1080.0 281.2C1081.7 282.3 1086.7 284.8 1090.0 287.5C1093.3 290.2 1096.2 294.6 1100.0 297.5C1103.8 300.4 1109.0 302.9 1112.5 305.0C1116.0 307.1 1118.8 307.3 1121.2 310.0C1123.8 312.7 1126.5 319.4 1127.5 321.2M1080.0 300.0C1081.7 300.8 1087.1 302.9 1090.0 305.0C1092.9 307.1 1095.0 309.6 1097.5 312.5C1100.0 315.4 1102.1 319.6 1105.0 322.5C1107.9 325.4 1111.2 327.9 1115.0 330.0C1118.8 332.1 1124.4 332.9 1127.5 335.0C1130.6 337.1 1131.7 340.4 1133.8 342.5C1135.8 344.6 1137.7 345.4 1140.0 347.5C1142.3 349.6 1145.6 351.2 1147.5 355.0C1149.4 358.8 1150.6 367.5 1151.2 370.0M1080.0 322.5C1081.2 323.3 1085.4 325.4 1087.5 327.5C1089.6 329.6 1090.4 332.5 1092.5 335.0C1094.6 337.5 1096.7 340.6 1100.0 342.5C1103.3 344.4 1108.3 344.8 1112.5 346.2C1116.7 347.7 1121.7 349.0 1125.0 351.2C1128.3 353.5 1130.8 356.9 1132.5 360.0C1134.2 363.1 1134.6 368.3 1135.0 370.0M1098.8 316.2C1099.8 317.7 1102.3 321.9 1105.0 325.0C1107.7 328.1 1111.2 331.9 1115.0 335.0C1118.8 338.1 1124.6 341.7 1127.5 343.8C1130.4 345.8 1131.7 346.9 1132.5 347.5M1102.5 321.2C1104.0 322.3 1107.9 324.6 1111.2 327.5C1114.6 330.4 1120.6 336.9 1122.5 338.8M1150.0 328.8L1163.8 316.2L1176.2 321.2L1163.1 333.8ZM1150.0 328.8L1149.4 340.0L1161.9 345.0L1163.1 333.8M1176.2 321.2L1175.6 332.5L1161.9 345.0M1187.5 297.5L1201.9 285.6L1215.0 290.6L1201.2 303.1ZM1187.5 297.5L1186.9 310.0L1200.0 315.6L1201.2 303.1M1215.0 290.6L1214.4 302.5L1200.0 315.6M1226.9 271.2L1240.6 258.8L1253.1 263.8L1240.0 276.2ZM1226.9 271.2L1226.2 282.5L1239.4 287.5L1240.0 276.2M1253.1 263.8L1252.5 275.0L1239.4 287.5M1188.8 293.8C1188.3 291.9 1186.2 286.5 1186.2 282.5C1186.2 278.5 1187.1 273.8 1188.8 270.0C1190.4 266.2 1193.1 262.9 1196.2 260.0C1199.4 257.1 1203.5 254.4 1207.5 252.5C1211.5 250.6 1215.8 249.8 1220.0 248.8C1224.2 247.7 1228.3 247.4 1232.5 246.2C1236.7 245.1 1240.8 243.3 1245.0 241.9C1249.2 240.4 1253.8 238.6 1257.5 237.5C1261.2 236.4 1265.8 235.4 1267.5 235.0M1200.0 286.2C1200.2 284.6 1200.2 279.4 1201.2 276.2C1202.3 273.1 1204.0 270.0 1206.2 267.5C1208.5 265.0 1211.5 262.8 1215.0 261.2C1218.5 259.7 1222.9 259.4 1227.5 258.1C1232.1 256.9 1237.9 255.5 1242.5 253.8C1247.1 252.0 1250.8 249.4 1255.0 247.5C1259.2 245.6 1263.3 243.8 1267.5 242.5C1271.7 241.2 1275.8 241.2 1280.0 240.0C1284.2 238.8 1290.4 235.8 1292.5 235.0M1192.5 272.5L1201.9 276.2M1245.0 241.9L1248.8 251.2M1230.0 235.0L1236.2 243.8M1175.0 343.1L1271.2 272.5L1255.0 252.5M1181.2 348.8L1276.2 278.8M1276.2 278.8C1277.1 278.1 1280.6 276.7 1281.2 275.0C1281.9 273.3 1283.5 273.3 1280.0 268.8C1276.5 264.2 1263.3 251.0 1260.0 247.5M1265.0 277.5L1271.2 281.9M1197.5 326.9L1201.2 331.9M1179.6 345.3C1179.7 345.4 1179.7 345.6 1179.8 345.7C1179.8 345.8 1179.9 345.9 1179.9 346.1C1180.0 346.2 1180.0 346.3 1180.1 346.5C1180.1 346.6 1180.1 346.7 1180.2 346.9C1180.2 347.0 1180.2 347.1 1180.2 347.3C1180.2 347.4 1180.2 347.5 1180.2 347.6C1180.2 347.8 1180.2 347.9 1180.2 348.0C1180.2 348.2 1180.2 348.3 1180.2 348.4C1180.1 348.5 1180.1 348.6 1180.1 348.8C1180.0 348.9 1180.0 349.0 1180.0 349.1C1179.9 349.2 1179.9 349.3 1179.8 349.4C1179.7 349.5 1179.7 349.6 1179.6 349.7C1179.5 349.8 1179.5 349.9 1179.4 349.9C1179.3 350.0 1179.2 350.1 1179.1 350.2C1179.1 350.2 1179.0 350.3 1178.9 350.3C1178.8 350.4 1178.7 350.4 1178.6 350.5C1178.5 350.5 1178.4 350.6 1178.3 350.6C1178.2 350.6 1178.1 350.6 1177.9 350.7C1177.8 350.7 1177.7 350.7 1177.6 350.7C1177.5 350.7 1177.4 350.7 1177.3 350.7C1177.1 350.6 1177.0 350.6 1176.9 350.6C1176.8 350.6 1176.7 350.5 1176.6 350.5C1176.4 350.5 1176.3 350.4 1176.2 350.4C1176.1 350.3 1176.0 350.2 1175.9 350.2C1175.7 350.1 1175.6 350.0 1175.5 350.0C1175.4 349.9 1175.3 349.8 1175.2 349.7C1175.1 349.6 1175.0 349.5 1174.9 349.4C1174.8 349.3 1174.7 349.2 1174.6 349.1C1174.6 349.0 1174.5 348.9 1174.4 348.8C1174.3 348.7 1174.2 348.6 1174.2 348.4C1174.1 348.3 1174.0 348.2 1174.0 348.1C1173.9 347.9 1173.9 347.8 1173.8 347.7C1173.8 347.6 1173.7 347.4 1173.7 347.3C1173.6 347.2 1173.6 347.0 1173.6 346.9C1173.6 346.8 1173.5 346.6 1173.5 346.5C1173.5 346.4 1173.5 346.2 1173.5 346.1C1173.5 346.0 1173.5 345.8 1173.5 345.7C1173.5 345.6 1173.6 345.5 1173.6 345.3C1173.6 345.2 1173.6 345.1 1173.7 345.0C1173.7 344.9 1173.7 344.8 1173.8 344.7C1173.8 344.5 1173.9 344.4 1173.9 344.3C1174.0 344.2 1174.1 344.2 1174.1 344.1C1174.2 344.0 1174.3 343.9 1174.4 343.8C1174.4 343.7 1174.5 343.7 1174.6 343.6C1174.7 343.5 1174.8 343.5 1174.9 343.4C1175.0 343.4 1175.1 343.3 1175.2 343.3C1175.3 343.2 1175.4 343.2 1175.5 343.2C1175.6 343.1 1175.7 343.1 1175.8 343.1C1175.9 343.1 1176.0 343.1 1176.1 343.1C1176.3 343.1 1176.4 343.1 1176.5 343.1C1176.6 343.1 1176.7 343.1 1176.8 343.2C1177.0 343.2 1177.1 343.2 1177.2 343.3C1177.3 343.3 1177.4 343.3 1177.5 343.4C1177.7 343.4 1177.8 343.5 1177.9 343.6C1178.0 343.6 1178.1 343.7 1178.2 343.8C1178.3 343.9 1178.4 344.0 1178.5 344.0C1178.6 344.1 1178.7 344.2 1178.8 344.3C1178.9 344.4 1179.0 344.5 1179.1 344.6C1179.2 344.7 1179.3 344.8 1179.4 345.0C1179.4 345.1 1179.5 345.2 1179.6 345.3ZM1194.4 353.1C1194.4 353.2 1194.4 353.4 1194.4 353.5C1194.3 353.6 1194.3 353.7 1194.3 353.9C1194.2 354.0 1194.2 354.1 1194.2 354.2C1194.1 354.3 1194.1 354.4 1194.0 354.5C1193.9 354.7 1193.9 354.8 1193.8 354.9C1193.7 355.0 1193.6 355.1 1193.5 355.2C1193.4 355.3 1193.4 355.4 1193.3 355.5C1193.1 355.6 1193.0 355.6 1192.9 355.7C1192.8 355.8 1192.7 355.9 1192.6 356.0C1192.4 356.0 1192.3 356.1 1192.2 356.2C1192.1 356.2 1191.9 356.3 1191.8 356.3C1191.6 356.4 1191.5 356.4 1191.4 356.5C1191.2 356.5 1191.1 356.5 1190.9 356.5C1190.8 356.6 1190.6 356.6 1190.5 356.6C1190.3 356.6 1190.2 356.6 1190.0 356.6C1189.8 356.6 1189.7 356.6 1189.5 356.6C1189.4 356.6 1189.2 356.6 1189.1 356.5C1188.9 356.5 1188.8 356.5 1188.6 356.5C1188.5 356.4 1188.4 356.4 1188.2 356.3C1188.1 356.3 1187.9 356.2 1187.8 356.2C1187.7 356.1 1187.6 356.0 1187.4 356.0C1187.3 355.9 1187.2 355.8 1187.1 355.7C1187.0 355.6 1186.9 355.6 1186.7 355.5C1186.6 355.4 1186.6 355.3 1186.5 355.2C1186.4 355.1 1186.3 355.0 1186.2 354.9C1186.1 354.8 1186.1 354.7 1186.0 354.5C1185.9 354.4 1185.9 354.3 1185.8 354.2C1185.8 354.1 1185.8 354.0 1185.7 353.9C1185.7 353.7 1185.7 353.6 1185.6 353.5C1185.6 353.4 1185.6 353.2 1185.6 353.1C1185.6 353.0 1185.6 352.9 1185.6 352.8C1185.7 352.6 1185.7 352.5 1185.7 352.4C1185.8 352.3 1185.8 352.2 1185.8 352.0C1185.9 351.9 1185.9 351.8 1186.0 351.7C1186.1 351.6 1186.1 351.5 1186.2 351.4C1186.3 351.3 1186.4 351.2 1186.5 351.1C1186.6 351.0 1186.6 350.9 1186.7 350.8C1186.9 350.7 1187.0 350.6 1187.1 350.5C1187.2 350.4 1187.3 350.4 1187.4 350.3C1187.6 350.2 1187.7 350.2 1187.8 350.1C1187.9 350.0 1188.1 350.0 1188.2 349.9C1188.4 349.9 1188.5 349.8 1188.6 349.8C1188.8 349.8 1188.9 349.7 1189.1 349.7C1189.2 349.7 1189.4 349.7 1189.5 349.6C1189.7 349.6 1189.8 349.6 1190.0 349.6C1190.2 349.6 1190.3 349.6 1190.5 349.6C1190.6 349.7 1190.8 349.7 1190.9 349.7C1191.1 349.7 1191.2 349.8 1191.4 349.8C1191.5 349.8 1191.6 349.9 1191.8 349.9C1191.9 350.0 1192.1 350.0 1192.2 350.1C1192.3 350.2 1192.4 350.2 1192.6 350.3C1192.7 350.4 1192.8 350.4 1192.9 350.5C1193.0 350.6 1193.1 350.7 1193.3 350.8C1193.4 350.9 1193.4 351.0 1193.5 351.1C1193.6 351.2 1193.7 351.3 1193.8 351.4C1193.9 351.5 1193.9 351.6 1194.0 351.7C1194.1 351.8 1194.1 351.9 1194.2 352.0C1194.2 352.2 1194.2 352.3 1194.3 352.4C1194.3 352.5 1194.3 352.6 1194.4 352.8C1194.4 352.9 1194.4 353.0 1194.4 353.1ZM1185.6 353.8L1178.8 370.0M1194.4 354.4L1188.8 370.0M1266.2 318.8C1266.2 319.0 1266.2 319.3 1266.2 319.5C1266.1 319.8 1266.1 320.1 1266.0 320.3C1265.9 320.6 1265.8 320.8 1265.6 321.1C1265.5 321.3 1265.3 321.6 1265.2 321.8C1265.0 322.0 1264.8 322.3 1264.6 322.5C1264.4 322.7 1264.1 322.9 1263.9 323.2C1263.6 323.4 1263.3 323.6 1263.0 323.8C1262.7 324.0 1262.4 324.1 1262.1 324.3C1261.8 324.5 1261.4 324.7 1261.1 324.8C1260.7 325.0 1260.4 325.1 1260.0 325.2C1259.6 325.4 1259.2 325.5 1258.8 325.6C1258.4 325.7 1258.0 325.8 1257.6 325.9C1257.2 326.0 1256.8 326.0 1256.3 326.1C1255.9 326.1 1255.5 326.2 1255.1 326.2C1254.6 326.2 1254.2 326.2 1253.8 326.2C1253.3 326.2 1252.9 326.2 1252.4 326.2C1252.0 326.2 1251.6 326.1 1251.2 326.1C1250.7 326.0 1250.3 326.0 1249.9 325.9C1249.5 325.8 1249.1 325.7 1248.7 325.6C1248.3 325.5 1247.9 325.4 1247.5 325.2C1247.1 325.1 1246.8 325.0 1246.4 324.8C1246.1 324.7 1245.7 324.5 1245.4 324.3C1245.1 324.1 1244.8 324.0 1244.5 323.8C1244.2 323.6 1243.9 323.4 1243.6 323.2C1243.4 322.9 1243.1 322.7 1242.9 322.5C1242.7 322.3 1242.5 322.0 1242.3 321.8C1242.2 321.6 1242.0 321.3 1241.9 321.1C1241.7 320.8 1241.6 320.6 1241.5 320.3C1241.4 320.1 1241.4 319.8 1241.3 319.5C1241.3 319.3 1241.2 319.0 1241.2 318.8C1241.2 318.5 1241.3 318.2 1241.3 318.0C1241.4 317.7 1241.4 317.4 1241.5 317.2C1241.6 316.9 1241.7 316.7 1241.9 316.4C1242.0 316.2 1242.2 315.9 1242.3 315.7C1242.5 315.5 1242.7 315.2 1242.9 315.0C1243.1 314.8 1243.4 314.6 1243.6 314.3C1243.9 314.1 1244.2 313.9 1244.5 313.7C1244.8 313.5 1245.1 313.4 1245.4 313.2C1245.7 313.0 1246.1 312.8 1246.4 312.7C1246.8 312.5 1247.1 312.4 1247.5 312.3C1247.9 312.1 1248.3 312.0 1248.7 311.9C1249.1 311.8 1249.5 311.7 1249.9 311.6C1250.3 311.5 1250.7 311.5 1251.2 311.4C1251.6 311.4 1252.0 311.3 1252.4 311.3C1252.9 311.3 1253.3 311.2 1253.8 311.2C1254.2 311.2 1254.6 311.3 1255.1 311.3C1255.5 311.3 1255.9 311.4 1256.3 311.4C1256.8 311.5 1257.2 311.5 1257.6 311.6C1258.0 311.7 1258.4 311.8 1258.8 311.9C1259.2 312.0 1259.6 312.1 1260.0 312.3C1260.4 312.4 1260.7 312.5 1261.1 312.7C1261.4 312.8 1261.8 313.0 1262.1 313.2C1262.4 313.4 1262.7 313.5 1263.0 313.7C1263.3 313.9 1263.6 314.1 1263.9 314.3C1264.1 314.6 1264.4 314.8 1264.6 315.0C1264.8 315.2 1265.0 315.5 1265.2 315.7C1265.3 315.9 1265.5 316.2 1265.6 316.4C1265.8 316.7 1265.9 316.9 1266.0 317.2C1266.1 317.4 1266.1 317.7 1266.2 318.0C1266.2 318.2 1266.2 318.5 1266.2 318.8ZM1241.2 320.6L1242.5 335.0M1266.2 319.4L1266.2 335.0M1242.5 335.0C1243.3 335.8 1244.6 339.2 1247.5 340.0C1250.4 340.8 1256.9 340.8 1260.0 340.0C1263.1 339.2 1265.2 335.8 1266.2 335.0M1221.2 370.0C1221.1 365.2 1220.4 349.2 1220.6 341.2C1220.8 333.3 1221.6 327.3 1222.5 322.5C1223.4 317.7 1224.8 314.3 1226.2 312.5C1227.7 310.7 1230.0 310.2 1231.2 311.9C1232.5 313.5 1232.1 319.9 1233.8 322.5C1235.4 325.1 1240.0 326.7 1241.2 327.5M1225.0 370.0C1224.9 365.4 1224.3 349.8 1224.4 342.5C1224.5 335.2 1225.0 330.4 1225.6 326.2C1226.2 322.1 1227.1 317.7 1228.1 317.5C1229.2 317.3 1229.8 322.9 1231.9 325.0C1234.0 327.1 1239.2 329.2 1240.6 330.0M1260.0 307.5C1261.7 307.2 1266.2 304.8 1270.0 305.6C1273.8 306.5 1279.0 310.1 1282.5 312.5C1286.0 314.9 1289.8 318.8 1291.2 320.0M1261.2 311.2C1262.7 310.9 1266.7 308.5 1270.0 309.4C1273.3 310.2 1278.1 314.1 1281.2 316.2C1284.4 318.4 1287.5 321.5 1288.8 322.5M1278.8 245.0C1279.4 247.5 1281.5 254.4 1282.5 260.0C1283.5 265.6 1283.3 273.1 1285.0 278.8C1286.7 284.4 1289.2 288.5 1292.5 293.8C1295.8 299.0 1302.1 305.2 1305.0 310.0C1307.9 314.8 1309.6 318.3 1310.0 322.5C1310.4 326.7 1308.8 330.8 1307.5 335.0C1306.2 339.2 1304.0 343.3 1302.5 347.5C1301.0 351.7 1299.4 357.9 1298.8 360.0M1282.5 285.0C1283.8 287.1 1286.9 293.1 1290.0 297.5C1293.1 301.9 1298.8 307.1 1301.2 311.2C1303.8 315.4 1304.6 319.0 1305.0 322.5C1305.4 326.0 1305.0 328.3 1303.8 332.5C1302.5 336.7 1299.2 342.9 1297.5 347.5C1295.8 352.1 1294.4 357.9 1293.8 360.0M1275.0 246.2C1275.6 249.6 1277.9 260.2 1278.8 266.2C1279.6 272.3 1278.5 277.3 1280.0 282.5C1281.5 287.7 1284.4 292.5 1287.5 297.5C1290.6 302.5 1296.5 307.9 1298.8 312.5C1301.0 317.1 1301.2 320.8 1301.2 325.0C1301.2 329.2 1300.2 332.9 1298.8 337.5C1297.3 342.1 1294.0 348.8 1292.5 352.5C1291.0 356.2 1290.4 358.8 1290.0 360.0M1286.2 272.5C1287.3 275.0 1289.4 282.5 1292.5 287.5C1295.6 292.5 1301.5 297.9 1305.0 302.5C1308.5 307.1 1311.7 310.4 1313.8 315.0C1315.8 319.6 1317.3 325.0 1317.5 330.0C1317.7 335.0 1315.4 342.5 1315.0 345.0M1291.2 321.2C1290.2 323.5 1288.1 331.2 1285.0 335.0C1281.9 338.8 1277.1 341.7 1272.5 343.8C1267.9 345.8 1264.2 345.6 1257.5 347.5C1250.8 349.4 1239.8 352.5 1232.5 355.0C1225.2 357.5 1218.3 360.0 1213.8 362.5C1209.2 365.0 1206.5 368.8 1205.0 370.0M1293.8 325.0C1292.7 327.1 1290.8 334.0 1287.5 337.5C1284.2 341.0 1278.5 344.2 1273.8 346.2C1269.0 348.3 1265.4 348.1 1258.8 350.0C1252.1 351.9 1240.8 355.0 1233.8 357.5C1226.7 360.0 1220.2 362.9 1216.2 365.0C1212.3 367.1 1211.0 369.2 1210.0 370.0M1260.0 351.2C1259.2 352.3 1258.8 355.6 1255.0 357.5C1251.2 359.4 1241.9 360.4 1237.5 362.5C1233.1 364.6 1230.2 368.8 1228.8 370.0M1262.5 351.9C1261.7 353.1 1261.2 357.2 1257.5 359.4C1253.8 361.6 1244.2 363.2 1240.0 365.0C1235.8 366.8 1233.8 369.2 1232.5 370.0M1257.5 351.2C1256.7 352.0 1256.2 354.2 1252.5 355.6C1248.8 357.1 1239.6 357.6 1235.0 360.0C1230.4 362.4 1226.7 368.3 1225.0 370.0M1292.5 322.5L1282.5 352.5M1297.5 326.2L1287.5 355.0M1300.0 328.8L1293.1 352.5M1295.0 351.2C1291.9 352.7 1281.2 356.9 1276.2 360.0C1271.2 363.1 1266.9 368.3 1265.0 370.0M1295.0 353.8C1292.3 355.2 1282.9 359.8 1278.8 362.5C1274.6 365.2 1271.5 368.8 1270.0 370.0M1293.8 356.2C1291.7 357.7 1284.4 362.7 1281.2 365.0C1278.1 367.3 1276.0 369.2 1275.0 370.0M1307.5 348.8L1312.5 346.2L1320.0 350.0L1320.0 370.0L1303.8 361.2ZM1312.5 346.2L1305.0 362.5M1320.0 281.2C1318.8 282.3 1314.4 284.8 1312.5 287.5C1310.6 290.2 1309.0 294.0 1308.8 297.5C1308.5 301.0 1309.4 306.7 1311.2 308.8C1313.1 310.8 1318.5 309.8 1320.0 310.0M1277.5 247.5L1292.5 257.5L1320.0 266.2"/>
</g>
<g>
<path fill="none" stroke="#1c1c1c" stroke-width="2.6" d="M560.0 613.8L578.8 606.2L591.2 607.5L597.5 601.9M596.9 602.5L601.2 600.6L623.8 613.8L620.0 616.9ZM593.8 608.8L597.5 606.9L618.8 618.1L615.0 620.6ZM580.0 613.1L613.8 627.5M583.8 610.0L616.2 623.8M575.0 620.0L578.8 617.5L605.0 630.0L602.5 635.0ZM565.0 631.2L570.0 627.5L601.2 640.0M560.0 637.5L603.8 655.0M563.8 635.0L607.5 651.2M617.5 603.8L621.2 600.6L641.2 610.0L638.1 612.5L624.4 612.2ZM632.5 590.0L633.8 600.0L637.5 601.2L640.0 590.0M647.5 597.5C648.3 596.9 651.2 595.0 652.5 593.8C653.8 592.5 654.6 590.6 655.0 590.0M601.2 638.8L618.8 626.2L635.0 630.0L617.5 646.2ZM617.5 625.0C619.2 624.8 624.6 623.3 627.5 623.8C630.4 624.2 633.8 626.9 635.0 627.5M691.2 590.0L647.5 625.6L576.2 693.8L560.0 708.8M696.2 591.2L651.2 627.5L580.0 696.2L562.5 711.2M651.2 627.5C650.6 629.6 647.7 636.2 647.5 640.0C647.3 643.8 649.6 648.3 650.0 650.0M650.0 627.5C652.1 628.1 658.8 629.2 662.5 631.2C666.2 633.3 670.4 637.1 672.5 640.0C674.6 642.9 673.3 646.2 675.0 648.8C676.7 651.2 681.0 653.1 682.5 655.0C684.0 656.9 683.5 659.2 683.8 660.0M637.5 643.8C637.1 644.6 635.2 647.3 635.0 648.8C634.8 650.2 636.0 651.9 636.2 652.5M638.8 643.1L680.0 660.0L692.5 665.0L721.2 666.9M636.2 652.5L677.5 668.8L692.5 673.8L721.2 676.2M692.5 665.0L692.5 673.8M721.2 666.9L722.5 676.2M722.5 670.0L731.2 677.5L743.8 693.8L737.5 700.0L728.8 682.5L722.5 676.2M641.2 655.0L620.0 666.2M585.0 690.0C586.7 693.3 592.1 704.2 595.0 710.0C597.9 715.8 601.2 722.5 602.5 725.0M633.8 677.5L647.5 670.0L662.5 677.5L665.0 692.5L657.5 705.0L680.0 715.0M633.8 677.5L640.0 687.5M665.0 692.5C665.8 694.2 667.5 699.0 670.0 702.5C672.5 706.0 678.3 711.9 680.0 713.8M681.5 688.1C681.6 688.3 681.7 688.6 681.8 688.8C681.8 689.1 681.9 689.3 682.0 689.6C682.0 689.8 682.0 690.1 682.1 690.3C682.1 690.6 682.1 690.9 682.1 691.1C682.1 691.4 682.1 691.6 682.1 691.9C682.1 692.1 682.1 692.3 682.0 692.6C682.0 692.8 682.0 693.1 681.9 693.3C681.8 693.5 681.8 693.7 681.7 694.0C681.6 694.2 681.5 694.4 681.4 694.6C681.3 694.8 681.2 695.0 681.1 695.1C681.0 695.3 680.9 695.5 680.7 695.7C680.6 695.8 680.5 696.0 680.3 696.1C680.2 696.2 680.0 696.4 679.9 696.5C679.7 696.6 679.5 696.7 679.4 696.8C679.2 696.9 679.0 697.0 678.8 697.0C678.6 697.1 678.4 697.2 678.2 697.2C678.1 697.3 677.9 697.3 677.7 697.3C677.5 697.3 677.3 697.3 677.1 697.3C676.9 697.3 676.6 697.3 676.4 697.2C676.2 697.2 676.0 697.1 675.8 697.1C675.6 697.0 675.4 696.9 675.2 696.8C675.0 696.7 674.8 696.6 674.6 696.5C674.4 696.4 674.2 696.3 674.0 696.1C673.8 696.0 673.7 695.9 673.5 695.7C673.3 695.5 673.1 695.4 673.0 695.2C672.8 695.0 672.6 694.8 672.5 694.6C672.3 694.4 672.2 694.2 672.0 694.0C671.9 693.8 671.7 693.6 671.6 693.3C671.5 693.1 671.4 692.9 671.3 692.7C671.2 692.4 671.1 692.2 671.0 691.9C670.9 691.7 670.8 691.4 670.7 691.2C670.7 690.9 670.6 690.7 670.5 690.4C670.5 690.2 670.5 689.9 670.4 689.7C670.4 689.4 670.4 689.1 670.4 688.9C670.4 688.6 670.4 688.4 670.4 688.1C670.4 687.9 670.4 687.7 670.5 687.4C670.5 687.2 670.5 686.9 670.6 686.7C670.7 686.5 670.7 686.3 670.8 686.0C670.9 685.8 671.0 685.6 671.1 685.4C671.2 685.2 671.3 685.0 671.4 684.9C671.5 684.7 671.6 684.5 671.8 684.3C671.9 684.2 672.0 684.0 672.2 683.9C672.3 683.8 672.5 683.6 672.6 683.5C672.8 683.4 673.0 683.3 673.1 683.2C673.3 683.1 673.5 683.0 673.7 683.0C673.9 682.9 674.1 682.8 674.3 682.8C674.4 682.7 674.6 682.7 674.8 682.7C675.0 682.7 675.2 682.7 675.4 682.7C675.6 682.7 675.9 682.7 676.1 682.8C676.3 682.8 676.5 682.9 676.7 682.9C676.9 683.0 677.1 683.1 677.3 683.2C677.5 683.3 677.7 683.4 677.9 683.5C678.1 683.6 678.3 683.7 678.5 683.9C678.7 684.0 678.8 684.1 679.0 684.3C679.2 684.5 679.4 684.6 679.5 684.8C679.7 685.0 679.9 685.2 680.0 685.4C680.2 685.6 680.3 685.8 680.5 686.0C680.6 686.2 680.8 686.4 680.9 686.7C681.0 686.9 681.1 687.1 681.2 687.3C681.3 687.6 681.4 687.8 681.5 688.1ZM684.7 687.0C684.8 687.3 684.9 687.5 684.9 687.7C685.0 688.0 685.0 688.2 685.1 688.4C685.1 688.7 685.2 688.9 685.2 689.1C685.2 689.4 685.2 689.6 685.2 689.8C685.3 690.0 685.3 690.3 685.2 690.5C685.2 690.7 685.2 690.9 685.2 691.2C685.2 691.4 685.1 691.6 685.1 691.8C685.0 692.0 685.0 692.2 684.9 692.4C684.8 692.6 684.7 692.8 684.7 693.0C684.6 693.2 684.5 693.3 684.4 693.5C684.3 693.7 684.2 693.8 684.1 694.0C683.9 694.1 683.8 694.2 683.7 694.4C683.6 694.5 683.4 694.6 683.3 694.7C683.1 694.8 683.0 694.9 682.8 695.0C682.7 695.1 682.5 695.2 682.4 695.2C682.2 695.3 682.0 695.3 681.8 695.4C681.7 695.4 681.5 695.4 681.3 695.4C681.1 695.4 681.0 695.4 680.8 695.4C680.6 695.4 680.4 695.4 680.2 695.3C680.1 695.3 679.9 695.3 679.7 695.2C679.5 695.1 679.3 695.1 679.1 695.0C679.0 694.9 678.8 694.8 678.6 694.7C678.4 694.6 678.3 694.5 678.1 694.3C677.9 694.2 677.7 694.1 677.6 693.9C677.4 693.8 677.3 693.6 677.1 693.5C677.0 693.3 676.8 693.1 676.7 692.9C676.5 692.8 676.4 692.6 676.3 692.4C676.1 692.2 676.0 692.0 675.9 691.8C675.8 691.6 675.7 691.3 675.6 691.1C675.5 690.9 675.4 690.7 675.3 690.5C675.2 690.2 675.1 690.0 675.1 689.8C675.0 689.5 675.0 689.3 674.9 689.1C674.9 688.8 674.8 688.6 674.8 688.4C674.8 688.1 674.8 687.9 674.8 687.7C674.7 687.5 674.7 687.2 674.8 687.0C674.8 686.8 674.8 686.6 674.8 686.3C674.8 686.1 674.9 685.9 674.9 685.7C675.0 685.5 675.0 685.3 675.1 685.1C675.2 684.9 675.3 684.7 675.3 684.5C675.4 684.3 675.5 684.2 675.6 684.0C675.7 683.8 675.8 683.7 675.9 683.5C676.1 683.4 676.2 683.3 676.3 683.1C676.4 683.0 676.6 682.9 676.7 682.8C676.9 682.7 677.0 682.6 677.2 682.5C677.3 682.4 677.5 682.3 677.6 682.3C677.8 682.2 678.0 682.2 678.2 682.1C678.3 682.1 678.5 682.1 678.7 682.1C678.9 682.1 679.0 682.1 679.2 682.1C679.4 682.1 679.6 682.1 679.8 682.2C679.9 682.2 680.1 682.2 680.3 682.3C680.5 682.4 680.7 682.4 680.9 682.5C681.0 682.6 681.2 682.7 681.4 682.8C681.6 682.9 681.7 683.0 681.9 683.2C682.1 683.3 682.3 683.4 682.4 683.6C682.6 683.7 682.7 683.9 682.9 684.0C683.0 684.2 683.2 684.4 683.3 684.6C683.5 684.7 683.6 684.9 683.7 685.1C683.9 685.3 684.0 685.5 684.1 685.7C684.2 685.9 684.3 686.2 684.4 686.4C684.5 686.6 684.6 686.8 684.7 687.0ZM675.0 682.5L686.2 676.2M686.2 676.2C687.3 676.9 691.5 678.1 692.5 680.0C693.5 681.9 693.8 685.0 692.5 687.5C691.2 690.0 686.2 693.8 685.0 695.0M685.0 598.8C687.1 599.4 693.3 600.2 697.5 602.5C701.7 604.8 706.2 609.4 710.0 612.5C713.8 615.6 718.3 619.8 720.0 621.2M696.2 590.0C699.0 591.7 707.7 596.2 712.5 600.0C717.3 603.8 721.7 608.8 725.0 612.5C728.3 616.2 731.2 620.8 732.5 622.5M718.8 590.0C721.0 591.9 729.4 597.1 732.5 601.2C735.6 605.4 736.7 612.7 737.5 615.0M735.0 590.0C736.0 591.7 739.8 596.7 741.2 600.0C742.7 603.3 741.5 606.9 743.8 610.0C746.0 613.1 751.5 615.8 755.0 618.8C758.5 621.7 763.3 626.0 765.0 627.5M747.5 590.0C748.1 591.2 749.8 595.0 751.2 597.5C752.7 600.0 754.0 602.3 756.2 605.0C758.5 607.7 761.9 610.6 765.0 613.8C768.1 616.9 773.8 621.0 775.0 623.8C776.2 626.5 774.2 627.9 772.5 630.0C770.8 632.1 766.2 635.2 765.0 636.2M765.0 627.5L772.5 622.5M721.2 643.8L732.5 675.0M725.0 643.8L736.2 675.0M735.0 622.5C736.2 623.3 740.4 625.4 742.5 627.5C744.6 629.6 745.8 632.9 747.5 635.0C749.2 637.1 751.7 639.2 752.5 640.0M755.6 638.1C755.6 638.2 755.6 638.3 755.6 638.5C755.6 638.6 755.6 638.7 755.6 638.8C755.5 638.9 755.5 639.0 755.5 639.1C755.4 639.2 755.4 639.3 755.4 639.4C755.3 639.5 755.3 639.6 755.2 639.7C755.2 639.8 755.1 639.9 755.0 640.0C755.0 640.0 754.9 640.1 754.8 640.2C754.7 640.3 754.7 640.4 754.6 640.4C754.5 640.5 754.4 640.6 754.3 640.7C754.2 640.7 754.2 640.8 754.1 640.8C754.0 640.9 753.9 640.9 753.8 641.0C753.7 641.0 753.6 641.1 753.5 641.1C753.4 641.1 753.3 641.2 753.1 641.2C753.0 641.2 752.9 641.2 752.8 641.2C752.7 641.2 752.6 641.2 752.5 641.2C752.4 641.2 752.3 641.2 752.2 641.2C752.1 641.2 752.0 641.2 751.9 641.2C751.7 641.2 751.6 641.1 751.5 641.1C751.4 641.1 751.3 641.0 751.2 641.0C751.1 640.9 751.0 640.9 750.9 640.8C750.8 640.8 750.8 640.7 750.7 640.7C750.6 640.6 750.5 640.5 750.4 640.4C750.3 640.4 750.3 640.3 750.2 640.2C750.1 640.1 750.0 640.0 750.0 640.0C749.9 639.9 749.8 639.8 749.8 639.7C749.7 639.6 749.7 639.5 749.6 639.4C749.6 639.3 749.6 639.2 749.5 639.1C749.5 639.0 749.5 638.9 749.4 638.8C749.4 638.7 749.4 638.6 749.4 638.5C749.4 638.3 749.4 638.2 749.4 638.1C749.4 638.0 749.4 637.9 749.4 637.8C749.4 637.7 749.4 637.6 749.4 637.5C749.5 637.4 749.5 637.3 749.5 637.2C749.6 637.1 749.6 637.0 749.6 636.9C749.7 636.8 749.7 636.7 749.8 636.6C749.8 636.5 749.9 636.4 750.0 636.3C750.0 636.2 750.1 636.1 750.2 636.0C750.3 636.0 750.3 635.9 750.4 635.8C750.5 635.7 750.6 635.7 750.7 635.6C750.8 635.5 750.8 635.5 750.9 635.4C751.0 635.4 751.1 635.3 751.2 635.3C751.3 635.2 751.4 635.2 751.5 635.2C751.6 635.1 751.7 635.1 751.9 635.1C752.0 635.0 752.1 635.0 752.2 635.0C752.3 635.0 752.4 635.0 752.5 635.0C752.6 635.0 752.7 635.0 752.8 635.0C752.9 635.0 753.0 635.0 753.1 635.1C753.3 635.1 753.4 635.1 753.5 635.2C753.6 635.2 753.7 635.2 753.8 635.3C753.9 635.3 754.0 635.4 754.1 635.4C754.2 635.5 754.2 635.5 754.3 635.6C754.4 635.7 754.5 635.7 754.6 635.8C754.7 635.9 754.7 636.0 754.8 636.0C754.9 636.1 755.0 636.2 755.0 636.3C755.1 636.4 755.2 636.5 755.2 636.6C755.3 636.7 755.3 636.8 755.4 636.9C755.4 637.0 755.4 637.1 755.5 637.2C755.5 637.3 755.5 637.4 755.6 637.5C755.6 637.6 755.6 637.7 755.6 637.8C755.6 637.9 755.6 638.0 755.6 638.1ZM770.0 640.0C770.6 642.3 773.1 649.4 773.8 653.8C774.4 658.1 774.2 661.9 773.8 666.2C773.3 670.6 772.7 676.0 771.2 680.0C769.8 684.0 766.0 688.3 765.0 690.0M762.5 690.0L772.5 685.0M727.5 708.8C729.8 707.7 736.7 704.6 741.2 702.5C745.8 700.4 751.0 697.3 755.0 696.2C759.0 695.2 761.2 696.0 765.0 696.2C768.8 696.5 774.2 696.5 777.5 697.5C780.8 698.5 783.3 700.4 785.0 702.5C786.7 704.6 787.1 708.8 787.5 710.0M730.0 715.0C732.1 714.2 738.3 711.5 742.5 710.0C746.7 708.5 751.2 706.9 755.0 706.2C758.8 705.6 761.9 705.8 765.0 706.2C768.1 706.7 771.7 707.3 773.8 708.8C775.8 710.2 777.3 712.7 777.5 715.0C777.7 717.3 775.4 721.2 775.0 722.5M762.5 696.2L765.0 706.2M776.2 697.5L777.5 707.5M727.5 708.8L730.0 715.0M796.2 718.8C796.2 719.0 796.2 719.2 796.2 719.4C796.2 719.6 796.2 719.8 796.1 720.0C796.1 720.3 796.1 720.5 796.0 720.7C796.0 720.9 795.9 721.1 795.8 721.3C795.7 721.5 795.7 721.7 795.6 721.9C795.5 722.1 795.4 722.2 795.3 722.4C795.2 722.6 795.1 722.8 795.0 722.9C794.8 723.1 794.7 723.2 794.6 723.4C794.5 723.5 794.3 723.7 794.2 723.8C794.0 723.9 793.9 724.1 793.8 724.2C793.6 724.3 793.4 724.4 793.3 724.5C793.1 724.5 793.0 724.6 792.8 724.7C792.6 724.8 792.5 724.8 792.3 724.9C792.1 724.9 791.9 724.9 791.8 725.0C791.6 725.0 791.4 725.0 791.2 725.0C791.1 725.0 790.9 725.0 790.7 725.0C790.6 724.9 790.4 724.9 790.2 724.9C790.0 724.8 789.9 724.8 789.7 724.7C789.5 724.6 789.4 724.5 789.2 724.5C789.1 724.4 788.9 724.3 788.8 724.2C788.6 724.1 788.5 723.9 788.3 723.8C788.2 723.7 788.0 723.5 787.9 723.4C787.8 723.2 787.7 723.1 787.5 722.9C787.4 722.8 787.3 722.6 787.2 722.4C787.1 722.2 787.0 722.1 786.9 721.9C786.8 721.7 786.8 721.5 786.7 721.3C786.6 721.1 786.5 720.9 786.5 720.7C786.4 720.5 786.4 720.3 786.4 720.0C786.3 719.8 786.3 719.6 786.3 719.4C786.3 719.2 786.2 719.0 786.2 718.8C786.2 718.5 786.3 718.3 786.3 718.1C786.3 717.9 786.3 717.7 786.4 717.5C786.4 717.2 786.4 717.0 786.5 716.8C786.5 716.6 786.6 716.4 786.7 716.2C786.8 716.0 786.8 715.8 786.9 715.6C787.0 715.4 787.1 715.3 787.2 715.1C787.3 714.9 787.4 714.7 787.5 714.6C787.7 714.4 787.8 714.3 787.9 714.1C788.0 714.0 788.2 713.8 788.3 713.7C788.5 713.6 788.6 713.4 788.8 713.3C788.9 713.2 789.1 713.1 789.2 713.0C789.4 713.0 789.5 712.9 789.7 712.8C789.9 712.7 790.0 712.7 790.2 712.6C790.4 712.6 790.6 712.6 790.7 712.5C790.9 712.5 791.1 712.5 791.2 712.5C791.4 712.5 791.6 712.5 791.8 712.5C791.9 712.6 792.1 712.6 792.3 712.6C792.5 712.7 792.6 712.7 792.8 712.8C793.0 712.9 793.1 713.0 793.3 713.0C793.4 713.1 793.6 713.2 793.8 713.3C793.9 713.4 794.0 713.6 794.2 713.7C794.3 713.8 794.5 714.0 794.6 714.1C794.7 714.3 794.8 714.4 795.0 714.6C795.1 714.7 795.2 714.9 795.3 715.1C795.4 715.3 795.5 715.4 795.6 715.6C795.7 715.8 795.7 716.0 795.8 716.2C795.9 716.4 796.0 716.6 796.0 716.8C796.1 717.0 796.1 717.2 796.1 717.5C796.2 717.7 796.2 717.9 796.2 718.1C796.2 718.3 796.2 718.5 796.2 718.8ZM772.5 716.2L785.0 715.0M713.8 716.2C713.5 714.6 711.9 709.0 712.5 706.2C713.1 703.5 715.8 700.8 717.5 700.0C719.2 699.2 721.5 700.2 722.5 701.2C723.5 702.3 724.4 704.6 723.8 706.2C723.1 707.9 719.6 710.4 718.8 711.2M690.0 725.0C690.4 723.3 690.2 717.9 692.5 715.0C694.8 712.1 700.6 708.3 703.8 707.5C706.9 706.7 710.0 709.6 711.2 710.0M583.8 710.0L593.8 705.0L596.2 708.8L586.2 715.0ZM562.5 658.1L596.2 658.8L597.5 665.0L562.5 663.8ZM560.0 655.0L577.5 653.8L596.2 658.8M560.0 696.2L568.8 690.0L572.5 693.8L562.5 701.2Z"/>
<path fill="none" stroke="#1c1c1c" stroke-width="5" d="M692.5 591.2L647.5 626.2M681.2 638.8C681.2 636.7 691.7 630.4 697.5 627.5C703.3 624.6 709.6 621.9 716.2 621.2C722.9 620.6 736.9 622.3 737.5 623.8C738.1 625.2 726.7 627.3 720.0 630.0C713.3 632.7 704.0 638.5 697.5 640.0C691.0 641.5 681.2 640.8 681.2 638.8ZM703.8 647.5C704.2 645.8 710.6 640.7 715.0 638.8C719.4 636.8 725.6 635.5 730.0 635.6C734.4 635.7 741.7 638.2 741.2 639.4C740.8 640.5 732.3 640.9 727.5 642.5C722.7 644.1 716.5 647.9 712.5 648.8C708.5 649.6 703.3 649.2 703.8 647.5Z"/>
<path fill="none" stroke="#1c1c1c" stroke-width="4" d="M618.8 670.0C620.6 671.7 626.8 676.2 630.0 680.0C633.2 683.8 634.8 688.8 638.1 692.5C641.5 696.2 646.4 697.1 650.0 702.5C653.6 707.9 658.3 721.2 660.0 725.0M606.2 676.2C608.5 678.1 615.2 682.5 620.0 687.5C624.8 692.5 630.8 699.8 635.0 706.0C639.2 712.2 643.3 721.8 645.0 725.0M757.5 645.0C756.2 645.6 751.9 647.3 750.0 648.8C748.1 650.2 746.6 651.7 746.2 653.8C745.9 655.8 747.3 657.5 748.1 661.2C749.0 665.0 750.5 670.8 751.2 676.2C752.0 681.7 752.3 690.8 752.5 693.8M767.5 640.0C766.2 640.6 761.9 642.3 760.0 643.8C758.1 645.2 756.7 645.8 756.2 648.8C755.8 651.7 756.9 656.5 757.5 661.2C758.1 666.0 759.8 672.1 760.0 677.5C760.2 682.9 759.0 691.0 758.8 693.8M570.0 672.5L567.5 680.0"/>
<path fill="none" stroke="#1c1c1c" stroke-width="3.5" d="M595.0 685.0C597.5 687.1 605.8 691.5 610.0 697.5C614.2 703.5 618.1 716.4 620.0 721.0C621.9 725.6 621.0 724.3 621.2 725.0"/>
<path fill="#1c1c1c" stroke="#1c1c1c" stroke-width="2.6" d="M767.5 688.8L772.5 686.2L775.0 691.2L770.0 693.8ZM573.8 712.5L577.5 708.8L582.5 713.8L578.8 718.8Z"/>
<path fill="none" stroke="#1c1c1c" stroke-width="8" d="M567.5 670.0L595.0 665.0"/>
<path fill="none" stroke="#1c1c1c" stroke-width="6" d="M575.0 675.0L593.8 671.2"/>
</g>
<g>
<path fill="none" stroke="#1c1c1c" stroke-width="4" d="M560.0 732.5L588.8 762.5M560.0 745.0L585.0 775.0M560.0 757.5L578.8 783.8M563.8 725.0L591.2 753.8M621.0 725.0C621.9 726.7 624.5 731.5 626.2 735.0C628.0 738.5 629.8 743.1 631.2 746.2C632.7 749.4 634.4 752.5 635.0 753.8M646.0 725.0C646.5 726.2 648.1 730.0 648.8 732.5C649.4 735.0 649.8 738.8 650.0 740.0"/>
<path fill="none" stroke="#1c1c1c" stroke-width="2.8" d="M560.0 766.2L575.0 756.2M562.5 777.5L582.5 765.0M567.5 787.5L587.5 775.0M560.0 753.8L572.5 741.2M565.0 740.0L577.5 730.0"/>
<path fill="none" stroke="#1c1c1c" stroke-width="2.6" d="M582.5 757.5L596.2 753.8L591.2 761.2ZM591.2 767.5L606.2 762.5L596.2 771.2ZM570.0 785.0L576.2 783.8L572.5 792.5ZM600.0 736.2L612.5 730.0L616.2 736.2L603.8 742.5ZM617.5 761.2L630.0 755.0L633.8 761.2L621.2 767.5ZM602.5 725.0C603.1 727.1 605.4 734.4 606.2 737.5C607.1 740.6 607.3 742.7 607.5 743.8M607.5 743.8L617.5 761.2M616.2 736.2L630.0 755.0M660.0 725.0C660.2 726.0 661.0 730.2 661.2 731.2M672.5 725.0L635.0 746.2M616.2 785.0L618.8 775.0L660.0 746.2L665.0 748.8L666.2 753.8L630.0 775.0L622.5 780.0L621.2 786.2M621.2 777.5L661.2 749.4M606.2 780.0C606.5 778.5 608.5 777.5 610.0 777.5C611.5 777.5 614.4 778.8 615.0 780.0C615.6 781.2 614.8 784.0 613.8 785.0C612.7 786.0 610.0 787.1 608.8 786.2C607.5 785.4 606.0 781.5 606.2 780.0ZM625.0 780.0C625.8 779.2 627.9 775.8 630.0 775.0C632.1 774.2 635.0 774.4 637.5 775.0C640.0 775.6 642.5 777.1 645.0 778.8C647.5 780.4 651.0 782.7 652.5 785.0C654.0 787.3 654.6 790.0 653.8 792.5C652.9 795.0 649.6 797.9 647.5 800.0C645.4 802.1 642.3 804.2 641.2 805.0M631.2 777.5C632.3 778.8 636.0 782.1 637.5 785.0C639.0 787.9 639.6 791.7 640.0 795.0C640.4 798.3 640.0 803.3 640.0 805.0M637.5 775.0C638.8 776.2 643.1 779.6 645.0 782.5C646.9 785.4 648.5 789.4 648.8 792.5C649.0 795.6 646.7 799.8 646.2 801.2M625.0 780.0C625.2 781.2 625.0 785.4 626.2 787.5C627.5 789.6 631.0 790.4 632.5 792.5C634.0 794.6 634.8 797.7 635.0 800.0C635.2 802.3 634.0 805.2 633.8 806.2M652.5 785.0L660.0 782.5L663.8 775.0L657.5 772.5L655.0 777.5M656.2 775.0L662.5 771.2L665.0 776.2L660.0 780.0ZM671.2 760.0C671.0 758.3 669.4 752.9 670.0 750.0C670.6 747.1 673.1 744.2 675.0 742.5C676.9 740.8 679.4 740.6 681.2 740.0C683.1 739.4 685.0 739.6 686.2 738.8C687.5 737.9 687.7 735.4 688.8 735.0C689.8 734.6 691.0 735.2 692.5 736.2C694.0 737.3 696.2 739.4 697.5 741.2C698.8 743.1 700.4 745.4 700.0 747.5C699.6 749.6 696.7 751.2 695.0 753.8C693.3 756.2 690.8 761.0 690.0 762.5M695.0 753.8L701.2 747.5M689.3 771.2C689.4 771.5 689.6 771.7 689.7 771.9C689.8 772.1 689.9 772.3 690.0 772.5C690.0 772.8 690.1 773.0 690.2 773.2C690.2 773.4 690.3 773.7 690.4 773.9C690.4 774.1 690.4 774.3 690.5 774.6C690.5 774.8 690.5 775.0 690.5 775.2C690.5 775.4 690.5 775.7 690.5 775.9C690.5 776.1 690.5 776.3 690.5 776.5C690.4 776.7 690.4 776.9 690.3 777.1C690.3 777.3 690.2 777.5 690.1 777.7C690.1 777.8 690.0 778.0 689.9 778.2C689.8 778.3 689.7 778.5 689.6 778.6C689.5 778.8 689.4 778.9 689.3 779.1C689.1 779.2 689.0 779.3 688.9 779.4C688.7 779.5 688.6 779.6 688.4 779.7C688.3 779.8 688.1 779.9 688.0 779.9C687.8 780.0 687.6 780.1 687.5 780.1C687.3 780.1 687.1 780.2 686.9 780.2C686.8 780.2 686.6 780.2 686.4 780.2C686.2 780.2 686.0 780.2 685.8 780.2C685.6 780.1 685.4 780.1 685.2 780.0C685.0 780.0 684.8 779.9 684.7 779.8C684.5 779.8 684.3 779.7 684.1 779.6C683.9 779.5 683.7 779.4 683.5 779.3C683.3 779.2 683.1 779.0 683.0 778.9C682.8 778.8 682.6 778.6 682.4 778.5C682.3 778.3 682.1 778.1 681.9 778.0C681.8 777.8 681.6 777.6 681.5 777.4C681.3 777.2 681.2 777.1 681.1 776.9C680.9 776.7 680.8 776.5 680.7 776.2C680.6 776.0 680.4 775.8 680.3 775.6C680.2 775.4 680.1 775.2 680.0 775.0C680.0 774.7 679.9 774.5 679.8 774.3C679.8 774.1 679.7 773.8 679.6 773.6C679.6 773.4 679.6 773.2 679.5 772.9C679.5 772.7 679.5 772.5 679.5 772.3C679.5 772.1 679.5 771.8 679.5 771.6C679.5 771.4 679.5 771.2 679.5 771.0C679.6 770.8 679.6 770.6 679.7 770.4C679.7 770.2 679.8 770.0 679.9 769.8C679.9 769.7 680.0 769.5 680.1 769.3C680.2 769.2 680.3 769.0 680.4 768.9C680.5 768.7 680.6 768.6 680.7 768.4C680.9 768.3 681.0 768.2 681.1 768.1C681.3 768.0 681.4 767.9 681.6 767.8C681.7 767.7 681.9 767.6 682.0 767.6C682.2 767.5 682.4 767.4 682.5 767.4C682.7 767.4 682.9 767.3 683.1 767.3C683.2 767.3 683.4 767.3 683.6 767.3C683.8 767.3 684.0 767.3 684.2 767.3C684.4 767.4 684.6 767.4 684.8 767.5C685.0 767.5 685.2 767.6 685.3 767.7C685.5 767.7 685.7 767.8 685.9 767.9C686.1 768.0 686.3 768.1 686.5 768.2C686.7 768.3 686.9 768.5 687.0 768.6C687.2 768.7 687.4 768.9 687.6 769.0C687.7 769.2 687.9 769.4 688.1 769.5C688.2 769.7 688.4 769.9 688.5 770.1C688.7 770.3 688.8 770.4 688.9 770.6C689.1 770.8 689.2 771.0 689.3 771.2ZM671.2 762.5L681.2 780.0M677.5 759.4L689.4 768.8M671.2 762.5C671.5 761.9 671.5 759.3 672.5 758.8C673.5 758.2 676.7 759.3 677.5 759.4M688.8 725.0L690.0 733.8M698.8 728.8L692.5 736.2M703.8 731.2L697.5 740.0M708.8 733.8L702.5 743.8M710.0 738.8L705.0 747.5M717.5 725.0C716.7 727.5 713.8 734.8 712.5 740.0C711.2 745.2 710.6 750.8 710.0 756.2C709.4 761.7 709.4 768.3 708.8 772.5C708.1 776.7 708.1 778.8 706.2 781.2C704.4 783.8 703.1 784.8 697.5 787.5C691.9 790.2 680.4 794.2 672.5 797.5C664.6 800.8 656.2 804.6 650.0 807.5C643.8 810.4 639.2 812.3 635.0 815.0C630.8 817.7 627.5 820.8 625.0 823.8C622.5 826.7 621.5 829.2 620.0 832.5C618.5 835.8 617.9 839.2 616.2 843.8C614.6 848.3 611.0 857.3 610.0 860.0M727.5 730.0C727.1 732.5 725.6 739.6 725.0 745.0C724.4 750.4 724.2 757.1 723.8 762.5C723.3 767.9 723.5 772.5 722.5 777.5C721.5 782.5 720.0 787.9 717.5 792.5C715.0 797.1 711.9 800.8 707.5 805.0C703.1 809.2 697.1 812.9 691.2 817.5C685.4 822.1 677.7 828.5 672.5 832.5C667.3 836.5 664.2 839.2 660.0 841.2C655.8 843.3 651.2 844.8 647.5 845.0C643.8 845.2 639.2 842.9 637.5 842.5M722.5 727.5C721.9 730.2 719.6 737.9 718.8 743.8C717.9 749.6 717.9 757.3 717.5 762.5C717.1 767.7 717.1 771.2 716.2 775.0C715.4 778.8 714.6 782.1 712.5 785.0C710.4 787.9 708.3 790.0 703.8 792.5C699.2 795.0 692.7 796.7 685.0 800.0C677.3 803.3 665.0 809.0 657.5 812.5C650.0 816.0 644.6 818.3 640.0 821.2C635.4 824.2 632.5 826.9 630.0 830.0C627.5 833.1 626.2 836.7 625.0 840.0C623.8 843.3 623.5 846.7 622.5 850.0C621.5 853.3 619.4 858.3 618.8 860.0M707.5 783.8C706.0 784.8 703.8 787.5 698.8 790.0C693.8 792.5 684.8 795.6 677.5 798.8C670.2 801.9 658.8 807.1 655.0 808.8M630.0 832.5C632.9 831.2 640.4 828.3 647.5 825.0C654.6 821.7 665.2 816.2 672.5 812.5C679.8 808.8 685.8 805.4 691.2 802.5C696.7 799.6 702.7 796.2 705.0 795.0M632.5 837.5C635.0 836.5 641.2 834.2 647.5 831.2C653.8 828.3 662.9 824.0 670.0 820.0C677.1 816.0 683.3 811.2 690.0 807.5C696.7 803.8 706.7 799.2 710.0 797.5M710.0 756.2L723.8 757.5M708.8 775.0L722.5 777.5M703.8 792.5L711.2 802.5M687.5 800.0L692.5 808.8M646.2 820.0L650.0 825.0M655.0 823.8L660.0 833.8M663.8 831.2L668.8 837.5M711.9 741.2L725.6 743.8M625.0 840.0C625.8 840.8 627.9 844.2 630.0 845.0C632.1 845.8 634.6 845.6 637.5 845.0C640.4 844.4 645.8 841.9 647.5 841.2M647.5 845.0C648.8 845.0 652.3 845.4 655.0 845.0C657.7 844.6 661.5 843.8 663.8 842.5C666.0 841.2 667.9 838.3 668.8 837.5M730.0 732.5C730.8 735.0 732.5 742.9 735.0 747.5C737.5 752.1 741.7 756.9 745.0 760.0C748.3 763.1 751.7 765.2 755.0 766.2C758.3 767.3 761.9 767.3 765.0 766.2C768.1 765.2 771.5 763.1 773.8 760.0C776.0 756.9 778.1 752.1 778.8 747.5C779.4 742.9 778.1 736.2 777.5 732.5C776.9 728.8 775.4 726.2 775.0 725.0M765.0 725.0C765.2 727.1 766.7 733.8 766.2 737.5C765.8 741.2 764.4 745.0 762.5 747.5C760.6 750.0 756.2 751.7 755.0 752.5M760.0 752.5L761.2 765.6M766.2 737.5L778.1 738.8M762.5 747.5L775.0 757.5M735.7 755.9C735.6 755.8 735.1 755.7 734.9 755.5C734.6 755.3 734.3 755.2 734.1 754.9C733.9 754.7 733.6 754.5 733.4 754.2C733.2 754.0 733.0 753.7 732.8 753.4C732.6 753.0 732.5 752.7 732.3 752.4C732.2 752.0 732.0 751.6 731.9 751.2C731.8 750.8 731.7 750.4 731.6 750.0C731.5 749.5 731.5 749.1 731.4 748.6C731.4 748.2 731.3 747.7 731.3 747.2C731.3 746.7 731.3 746.2 731.4 745.7C731.4 745.2 731.4 744.6 731.5 744.1C731.5 743.6 731.6 743.0 731.7 742.5C731.8 742.0 731.9 741.4 732.1 740.9C732.2 740.3 732.3 739.8 732.5 739.2C732.7 738.7 732.8 738.2 733.0 737.6C733.2 737.1 733.4 736.6 733.7 736.1C733.9 735.5 734.1 735.0 734.4 734.5C734.6 734.0 734.9 733.5 735.1 733.1C735.4 732.6 735.7 732.1 736.0 731.7C736.3 731.2 736.6 730.8 736.9 730.4C737.2 730.0 737.5 729.6 737.9 729.2C738.2 728.9 738.5 728.5 738.9 728.2C739.2 727.9 739.5 727.6 739.9 727.3C740.2 727.0 740.6 726.7 740.9 726.5C741.3 726.3 741.6 726.1 742.0 725.9C742.3 725.7 742.6 725.6 743.0 725.5C743.3 725.3 743.7 725.2 744.0 725.2C744.3 725.1 744.7 725.1 745.0 725.1C745.3 725.1 745.6 725.1 745.9 725.1C746.2 725.2 746.7 725.3 746.8 725.4M732.6 754.8C732.5 754.7 732.1 754.6 731.9 754.4C731.6 754.3 731.4 754.1 731.2 753.9C731.0 753.7 730.8 753.5 730.6 753.3C730.5 753.1 730.3 752.8 730.1 752.5C730.0 752.3 729.8 752.0 729.7 751.7C729.6 751.4 729.5 751.0 729.4 750.7C729.3 750.3 729.2 750.0 729.1 749.6C729.1 749.2 729.0 748.8 729.0 748.4C728.9 748.0 728.9 747.5 728.9 747.1C728.9 746.7 728.9 746.2 728.9 745.8C729.0 745.3 729.0 744.9 729.1 744.4C729.1 743.9 729.2 743.5 729.3 743.0C729.4 742.5 729.5 742.0 729.6 741.5C729.7 741.1 729.8 740.6 730.0 740.1C730.1 739.6 730.3 739.2 730.5 738.7C730.6 738.2 730.8 737.7 731.0 737.3C731.2 736.8 731.4 736.4 731.6 735.9C731.8 735.5 732.1 735.1 732.3 734.6C732.6 734.2 732.8 733.8 733.1 733.4C733.3 733.0 733.6 732.6 733.9 732.3C734.1 731.9 734.4 731.6 734.7 731.2C735.0 730.9 735.3 730.6 735.6 730.3C735.8 730.0 736.1 729.7 736.4 729.5C736.7 729.2 737.0 729.0 737.3 728.8C737.6 728.6 737.9 728.4 738.2 728.3C738.5 728.1 738.8 728.0 739.1 727.9C739.4 727.8 739.7 727.7 740.0 727.6C740.3 727.5 740.6 727.5 740.8 727.5C741.1 727.5 741.4 727.5 741.7 727.5C741.9 727.6 742.3 727.7 742.4 727.7M560.0 822.5L577.5 837.5M560.0 812.5L566.2 811.2L587.5 800.0L612.5 812.5M590.0 805.0C591.2 806.0 595.0 810.8 597.5 811.2C600.0 811.7 603.8 808.1 605.0 807.5M588.1 790.0C588.9 788.8 591.9 788.1 593.1 788.8C594.4 789.4 595.7 792.1 595.6 793.8C595.5 795.4 593.6 798.3 592.5 798.8C591.4 799.2 589.5 797.7 588.8 796.2C588.0 794.8 587.4 791.2 588.1 790.0ZM592.5 798.8L596.2 807.5M563.8 816.2L586.2 801.2M572.5 821.2C573.3 819.8 575.8 814.4 577.5 812.5C579.2 810.6 581.7 810.4 582.5 810.0M615.0 812.5C616.7 811.5 622.5 808.3 625.0 806.2C627.5 804.2 628.5 801.9 630.0 800.0C631.5 798.1 633.1 795.8 633.8 795.0"/>
<path fill="#1c1c1c" stroke="#1c1c1c" stroke-width="2.6" d="M593.8 738.8L597.5 735.6L602.5 740.0L600.0 745.0L595.0 744.4ZM612.5 766.2L616.2 762.5L620.0 767.5L616.2 771.2ZM577.5 837.5L612.5 812.5L615.0 860.0L576.2 860.0ZM560.0 833.8L577.5 840.0L576.2 860.0L560.0 860.0Z"/>
<path fill="#1c1c1c" stroke="#1c1c1c" stroke-width="2.6" d="M756.9 743.4C756.7 744.0 756.5 744.6 756.2 745.1C756.0 745.7 755.7 746.2 755.4 746.8C755.2 747.3 754.9 747.8 754.6 748.3C754.3 748.8 754.0 749.3 753.7 749.8C753.3 750.3 753.0 750.7 752.6 751.2C752.3 751.6 751.9 752.0 751.6 752.4C751.2 752.8 750.9 753.2 750.5 753.5C750.1 753.9 749.7 754.2 749.3 754.5C749.0 754.8 748.6 755.1 748.2 755.3C747.8 755.6 747.4 755.8 747.0 756.0C746.6 756.1 746.2 756.3 745.9 756.4C745.5 756.5 745.1 756.6 744.7 756.7C744.3 756.8 744.0 756.8 743.6 756.8C743.2 756.8 742.9 756.8 742.5 756.7C742.2 756.7 741.8 756.6 741.5 756.4C741.2 756.3 740.9 756.2 740.6 756.0C740.3 755.8 740.0 755.6 739.7 755.4C739.4 755.1 739.2 754.9 738.9 754.6C738.7 754.3 738.4 754.0 738.2 753.6C738.0 753.3 737.8 752.9 737.6 752.5C737.4 752.1 737.3 751.7 737.1 751.3C737.0 750.9 736.9 750.4 736.8 749.9C736.7 749.5 736.6 749.0 736.5 748.5C736.4 748.0 736.4 747.4 736.4 746.9C736.4 746.4 736.4 745.8 736.4 745.3C736.4 744.7 736.4 744.1 736.5 743.6C736.5 743.0 736.6 742.4 736.7 741.8C736.8 741.2 736.9 740.7 737.1 740.1C737.2 739.5 737.4 738.9 737.5 738.3C737.7 737.7 737.9 737.2 738.1 736.6C738.3 736.0 738.5 735.4 738.8 734.9C739.0 734.3 739.3 733.8 739.6 733.2C739.8 732.7 740.1 732.2 740.4 731.7C740.7 731.2 741.0 730.7 741.3 730.2C741.7 729.7 742.0 729.3 742.4 728.8C742.7 728.4 743.1 728.0 743.4 727.6C743.8 727.2 744.1 726.8 744.5 726.5C744.9 726.1 745.3 725.8 745.7 725.5C746.0 725.2 746.4 724.9 746.8 724.7C747.2 724.4 747.6 724.2 748.0 724.0C748.4 723.9 748.8 723.7 749.1 723.6C749.5 723.5 749.9 723.4 750.3 723.3C750.7 723.2 751.0 723.2 751.4 723.2C751.8 723.2 752.1 723.2 752.5 723.3C752.8 723.3 753.2 723.4 753.5 723.6C753.8 723.7 754.1 723.8 754.4 724.0C754.7 724.2 755.0 724.4 755.3 724.6C755.6 724.9 755.8 725.1 756.1 725.4C756.3 725.7 756.6 726.0 756.8 726.4C757.0 726.7 757.2 727.1 757.4 727.5C757.6 727.9 757.7 728.3 757.9 728.7C758.0 729.1 758.1 729.6 758.2 730.1C758.3 730.5 758.4 731.0 758.5 731.5C758.6 732.0 758.6 732.6 758.6 733.1C758.6 733.6 758.6 734.2 758.6 734.7C758.6 735.3 758.6 735.9 758.5 736.4C758.5 737.0 758.4 737.6 758.3 738.2C758.2 738.8 758.1 739.3 757.9 739.9C757.8 740.5 757.6 741.1 757.5 741.7C757.3 742.3 757.1 742.8 756.9 743.4Z"/>
<path fill="none" stroke="#fff" stroke-width="1.5" d="M754.0 741.3C753.9 741.7 753.7 742.1 753.6 742.5C753.4 742.9 753.2 743.3 753.0 743.7C752.8 744.1 752.7 744.5 752.5 744.8C752.3 745.2 752.1 745.6 751.8 745.9C751.6 746.3 751.4 746.6 751.2 746.9C751.0 747.2 750.7 747.5 750.5 747.8C750.3 748.1 750.1 748.4 749.8 748.7C749.6 748.9 749.3 749.2 749.1 749.4C748.9 749.6 748.6 749.8 748.4 750.0C748.2 750.2 747.9 750.4 747.7 750.5C747.5 750.7 747.2 750.8 747.0 750.9C746.8 751.0 746.5 751.1 746.3 751.1C746.1 751.2 745.9 751.2 745.7 751.3C745.5 751.3 745.2 751.3 745.1 751.3C744.9 751.2 744.7 751.2 744.5 751.1C744.3 751.1 744.1 751.0 743.9 750.9C743.8 750.7 743.6 750.6 743.5 750.5C743.3 750.3 743.2 750.1 743.1 750.0C742.9 749.8 742.8 749.6 742.7 749.3C742.6 749.1 742.5 748.8 742.4 748.6C742.3 748.3 742.2 748.0 742.2 747.7C742.1 747.5 742.1 747.1 742.0 746.8C742.0 746.5 742.0 746.2 742.0 745.8C741.9 745.5 741.9 745.1 742.0 744.7C742.0 744.4 742.0 744.0 742.0 743.6C742.1 743.2 742.1 742.8 742.2 742.4C742.2 742.0 742.3 741.6 742.4 741.2C742.5 740.8 742.6 740.3 742.7 739.9C742.8 739.5 742.9 739.1 743.0 738.7C743.2 738.3 743.3 737.9 743.5 737.5C743.6 737.0 743.8 736.6 743.9 736.2C744.1 735.8 744.3 735.4 744.5 735.1C744.7 734.7 744.8 734.3 745.0 733.9C745.2 733.5 745.4 733.2 745.7 732.8C745.9 732.5 746.1 732.2 746.3 731.8C746.5 731.5 746.8 731.2 747.0 730.9C747.2 730.6 747.4 730.3 747.7 730.1C747.9 729.8 748.2 729.6 748.4 729.4C748.6 729.1 748.9 728.9 749.1 728.7C749.3 728.6 749.6 728.4 749.8 728.2C750.0 728.1 750.3 728.0 750.5 727.9C750.7 727.8 751.0 727.7 751.2 727.6C751.4 727.5 751.6 727.5 751.8 727.5C752.0 727.5 752.3 727.5 752.4 727.5C752.6 727.5 752.8 727.6 753.0 727.6C753.2 727.7 753.4 727.8 753.6 727.9C753.7 728.0 753.9 728.1 754.0 728.3C754.2 728.4 754.3 728.6 754.4 728.8C754.6 729.0 754.7 729.2 754.8 729.4C754.9 729.7 755.0 729.9 755.1 730.2C755.2 730.4 755.3 730.7 755.3 731.0C755.4 731.3 755.4 731.6 755.5 731.9C755.5 732.3 755.5 732.6 755.5 732.9C755.6 733.3 755.6 733.7 755.5 734.0C755.5 734.4 755.5 734.8 755.5 735.2C755.4 735.6 755.4 736.0 755.3 736.4C755.3 736.8 755.2 737.2 755.1 737.6C755.0 738.0 754.9 738.4 754.8 738.8C754.7 739.2 754.6 739.6 754.5 740.1C754.3 740.5 754.2 740.9 754.0 741.3ZM752.3 739.6C752.3 739.8 752.2 740.1 752.1 740.3C752.0 740.5 751.9 740.7 751.8 740.9C751.7 741.1 751.6 741.4 751.5 741.6C751.4 741.8 751.3 742.0 751.2 742.2C751.1 742.4 751.0 742.5 750.9 742.7C750.7 742.9 750.6 743.1 750.5 743.2C750.4 743.4 750.3 743.6 750.2 743.7C750.1 743.9 749.9 744.0 749.8 744.1C749.7 744.3 749.6 744.4 749.5 744.5C749.4 744.6 749.3 744.7 749.1 744.8C749.0 744.9 748.9 744.9 748.8 745.0C748.7 745.1 748.6 745.1 748.5 745.2C748.4 745.2 748.3 745.2 748.2 745.2C748.1 745.3 748.0 745.3 747.9 745.3C747.8 745.3 747.7 745.2 747.6 745.2C747.6 745.2 747.5 745.1 747.4 745.1C747.3 745.0 747.3 745.0 747.2 744.9C747.1 744.8 747.1 744.7 747.0 744.6C747.0 744.5 746.9 744.4 746.9 744.3C746.9 744.2 746.8 744.1 746.8 743.9C746.8 743.8 746.7 743.6 746.7 743.5C746.7 743.3 746.7 743.2 746.7 743.0C746.7 742.8 746.7 742.6 746.7 742.4C746.7 742.3 746.7 742.1 746.7 741.9C746.7 741.7 746.8 741.4 746.8 741.2C746.8 741.0 746.9 740.8 746.9 740.6C746.9 740.4 747.0 740.2 747.0 739.9C747.1 739.7 747.2 739.5 747.2 739.3C747.3 739.0 747.3 738.8 747.4 738.6C747.5 738.3 747.6 738.1 747.7 737.9C747.7 737.7 747.8 737.4 747.9 737.2C748.0 737.0 748.1 736.8 748.2 736.6C748.3 736.4 748.4 736.1 748.5 735.9C748.6 735.7 748.7 735.5 748.8 735.3C748.9 735.1 749.0 735.0 749.1 734.8C749.3 734.6 749.4 734.4 749.5 734.3C749.6 734.1 749.7 733.9 749.8 733.8C749.9 733.6 750.1 733.5 750.2 733.4C750.3 733.2 750.4 733.1 750.5 733.0C750.6 732.9 750.7 732.8 750.9 732.7C751.0 732.6 751.1 732.6 751.2 732.5C751.3 732.4 751.4 732.4 751.5 732.3C751.6 732.3 751.7 732.3 751.8 732.3C751.9 732.2 752.0 732.2 752.1 732.2C752.2 732.2 752.3 732.3 752.4 732.3C752.4 732.3 752.5 732.4 752.6 732.4C752.7 732.5 752.7 732.5 752.8 732.6C752.9 732.7 752.9 732.8 753.0 732.9C753.0 733.0 753.1 733.1 753.1 733.2C753.1 733.3 753.2 733.4 753.2 733.6C753.2 733.7 753.3 733.9 753.3 734.0C753.3 734.2 753.3 734.3 753.3 734.5C753.3 734.7 753.3 734.9 753.3 735.1C753.3 735.2 753.3 735.4 753.3 735.6C753.3 735.8 753.2 736.1 753.2 736.3C753.2 736.5 753.1 736.7 753.1 736.9C753.1 737.1 753.0 737.3 753.0 737.6C752.9 737.8 752.8 738.0 752.8 738.2C752.7 738.5 752.7 738.7 752.6 738.9C752.5 739.2 752.4 739.4 752.3 739.6Z"/>
</g>
<g clip-path="url(#c25)">
<path fill="none" stroke="#1c1c1c" stroke-width="2.6" d="M550.0 632.5L538.8 641.2M538.8 641.2L543.8 638.8L552.5 643.8L548.8 648.8ZM552.5 625.0C551.7 626.7 549.6 632.1 547.5 635.0C545.4 637.9 541.5 640.4 540.0 642.5C538.5 644.6 538.5 645.6 538.8 647.5C539.0 649.4 541.5 650.2 541.2 653.8C541.0 657.3 539.8 663.5 537.5 668.8C535.2 674.0 530.8 680.2 527.5 685.0C524.2 689.8 519.8 694.8 517.5 697.5C515.2 700.2 514.4 700.6 513.8 701.2M542.5 655.0L535.0 671.2L520.0 695.0M551.2 657.5L543.8 673.8L527.5 695.0M558.8 656.2L547.5 677.5L535.0 695.0M547.5 677.5C548.3 677.1 550.8 675.2 552.5 675.0C554.2 674.8 556.7 676.0 557.5 676.2M560.0 656.2C559.8 657.7 558.5 661.9 558.8 665.0C559.0 668.1 561.5 671.7 561.2 675.0C561.0 678.3 558.1 683.3 557.5 685.0M513.8 700.0L517.5 696.9L530.0 700.0L527.5 705.0ZM515.0 705.0L526.2 708.8M530.0 698.8L550.0 696.2M535.0 692.5L552.5 695.0M532.5 692.5C532.9 691.7 533.8 688.1 535.0 687.5C536.2 686.9 539.2 688.5 540.0 688.8M556.2 698.8L568.8 690.0L572.5 693.8L560.0 703.8ZM493.8 721.2L510.0 710.0L515.0 715.0L500.0 726.2ZM520.0 717.5L535.0 712.5M517.5 723.8L527.5 720.0M511.2 728.8L516.2 726.2L520.0 731.2L515.0 733.8ZM490.0 735.0C490.8 734.0 491.7 730.6 495.0 728.8C498.3 726.9 507.5 724.6 510.0 723.8M490.0 735.0L492.5 748.8M495.0 742.5L520.0 725.0M497.5 745.0L515.0 728.8M560.0 706.9L550.0 714.4L500.0 751.9M563.8 708.1L555.0 715.6L505.0 754.4M468.1 760.0L480.0 745.0L515.0 763.8"/>
<path fill="#1c1c1c" stroke="#1c1c1c" stroke-width="2.6" d="M515.0 712.5L520.0 710.0L525.0 715.0L520.0 720.0ZM526.2 705.0L535.0 702.5L540.0 710.0L532.5 715.0ZM550.0 698.8L556.2 696.2L560.0 705.0L553.8 710.0ZM493.8 722.5L497.5 719.4L501.9 724.4L498.1 728.1Z"/>
<path fill="none" stroke="#1c1c1c" stroke-width="4" d="M527.5 740.0L552.5 760.0M535.0 733.8L560.0 755.0M542.5 727.5L565.0 748.8M520.0 750.0L530.0 760.0"/>
<path fill="none" stroke="#1c1c1c" stroke-width="2.8" d="M520.0 750.0L552.5 723.8M527.5 757.5L560.0 732.5M537.5 760.0L565.0 740.0"/>
</g>
<g clip-path="url(#c26)">
<path fill="none" stroke="#1c1c1c" stroke-width="2.6" d="M957.5 450.0C956.4 446.8 952.6 436.8 950.8 430.8C949.0 424.9 947.4 419.7 946.7 414.2C945.9 408.6 945.8 402.1 946.2 397.5C946.7 392.9 947.4 389.9 949.2 386.7C950.9 383.5 953.6 380.7 956.7 378.3C959.7 376.0 963.6 373.8 967.5 372.5C971.4 371.2 975.8 370.6 980.0 370.8C984.2 371.1 988.3 372.5 992.5 374.2C996.7 375.8 1001.5 378.8 1005.0 380.8C1008.5 382.9 1011.9 385.7 1013.3 386.7M963.3 450.0C962.2 446.8 958.5 436.8 956.7 430.8C954.9 424.9 953.3 419.4 952.5 414.2C951.7 408.9 951.5 403.2 951.7 399.2C951.8 395.1 952.1 392.8 953.3 390.0C954.6 387.2 956.7 384.6 959.2 382.5C961.7 380.4 964.9 378.5 968.3 377.5C971.8 376.5 976.1 376.0 980.0 376.2C983.9 376.5 988.1 377.7 991.7 379.2C995.3 380.6 998.8 383.3 1001.7 385.0C1004.6 386.7 1007.9 388.5 1009.2 389.2M968.3 450.0C967.2 446.8 963.5 436.8 961.7 430.8C959.9 424.9 958.3 419.2 957.5 414.2C956.7 409.2 956.5 404.3 956.7 400.8C956.8 397.4 957.2 395.7 958.3 393.3C959.4 391.0 961.2 388.5 963.3 386.7C965.4 384.9 968.1 383.3 970.8 382.5C973.6 381.7 976.8 381.4 980.0 381.7C983.2 381.9 986.9 382.9 990.0 384.2C993.1 385.4 995.8 387.6 998.3 389.2C1000.8 390.7 1003.9 392.6 1005.0 393.3M973.3 450.0C972.2 446.8 968.5 436.4 966.7 430.8C964.9 425.3 963.3 421.2 962.5 416.7C961.7 412.1 961.9 406.7 962.1 403.3C962.2 400.0 962.4 398.8 963.3 396.7C964.2 394.6 965.8 392.4 967.5 390.8C969.2 389.3 971.2 388.2 973.3 387.5C975.4 386.8 977.6 386.5 980.0 386.7C982.4 386.8 985.1 387.4 987.5 388.3C989.9 389.3 993.1 391.8 994.2 392.5M977.5 443.3C976.5 441.2 973.3 435.0 971.7 430.8C970.0 426.7 968.3 422.4 967.5 418.3C966.7 414.3 966.9 409.6 967.1 406.7C967.2 403.8 967.6 402.6 968.3 400.8C969.1 399.0 970.3 397.1 971.7 395.8C973.1 394.6 975.0 393.9 976.7 393.3C978.3 392.8 979.7 392.2 981.7 392.5C983.6 392.8 987.2 394.6 988.3 395.0M981.7 439.2C980.7 437.4 977.5 431.8 975.8 428.3C974.2 424.9 972.4 421.5 971.7 418.3C971.0 415.1 971.4 411.7 971.7 409.2C971.9 406.7 972.5 405.0 973.3 403.3C974.2 401.7 975.4 400.1 976.7 399.2C977.9 398.2 980.1 397.8 980.8 397.5M943.3 360.0L956.7 377.5M978.3 360.0L984.2 372.5M983.3 364.2C985.0 364.6 990.0 365.4 993.3 366.7C996.7 367.9 1000.0 369.4 1003.3 371.7C1006.7 373.9 1010.6 377.8 1013.3 380.0C1016.1 382.2 1018.9 384.2 1020.0 385.0M1005.0 360.0L1009.2 375.8M1010.0 360.0L1014.2 375.8L1020.0 384.2M994.2 399.2C996.0 398.2 1001.1 394.9 1005.0 393.3C1008.9 391.8 1013.3 390.8 1017.5 390.0C1021.7 389.2 1027.9 388.6 1030.0 388.3M995.8 401.7C997.5 400.7 1002.1 397.4 1005.8 395.8C1009.6 394.3 1014.3 393.3 1018.3 392.5C1022.4 391.7 1028.1 391.5 1030.0 391.2M1003.3 409.2C1004.4 408.1 1007.2 404.3 1010.0 402.5C1012.8 400.7 1016.4 399.3 1020.0 398.3C1023.6 397.4 1029.7 396.9 1031.7 396.7M1005.0 412.5C1006.1 411.4 1009.0 407.8 1011.7 405.8C1014.3 403.9 1017.5 401.9 1020.8 400.8C1024.2 399.8 1029.9 399.8 1031.7 399.6M1013.3 423.3C1014.0 421.9 1015.8 417.4 1017.5 415.0C1019.2 412.6 1020.7 410.6 1023.3 409.2C1026.0 407.8 1031.7 407.1 1033.3 406.7M1015.8 425.0C1016.5 423.8 1018.5 419.7 1020.0 417.5C1021.5 415.3 1022.6 413.0 1025.0 411.7C1027.4 410.3 1032.6 409.9 1034.2 409.6M1030.0 387.5L1027.5 380.8L1040.8 376.7L1046.7 370.8M1032.5 384.2C1034.9 383.9 1042.2 383.8 1046.7 382.5C1051.1 381.2 1055.0 379.0 1059.2 376.7C1063.3 374.3 1068.2 371.1 1071.7 368.3C1075.1 365.6 1078.6 361.4 1080.0 360.0M1033.3 387.5C1035.8 387.2 1043.6 387.1 1048.3 385.8C1053.1 384.6 1057.2 382.5 1061.7 380.0C1066.1 377.5 1071.1 374.2 1075.0 370.8C1078.9 367.5 1083.3 361.8 1085.0 360.0M1034.2 393.3C1036.9 393.3 1045.7 394.2 1050.8 393.3C1056.0 392.5 1060.4 390.8 1065.0 388.3C1069.6 385.8 1074.2 381.9 1078.3 378.3C1082.5 374.7 1088.1 368.6 1090.0 366.7M1035.0 396.7C1037.8 396.7 1046.4 397.5 1051.7 396.7C1056.9 395.8 1061.9 394.0 1066.7 391.7C1071.4 389.3 1076.1 385.6 1080.0 382.5C1083.9 379.4 1088.3 374.9 1090.0 373.3M1036.7 401.7C1039.0 401.7 1046.4 401.9 1050.8 401.7C1055.3 401.4 1059.9 400.4 1063.3 400.0C1066.8 399.6 1070.3 399.3 1071.7 399.2M1037.5 406.7C1039.9 406.4 1047.1 405.7 1051.7 405.0C1056.2 404.3 1061.4 403.1 1065.0 402.5C1068.6 401.9 1071.9 401.8 1073.3 401.7M1038.3 413.3C1040.8 412.8 1048.1 411.4 1053.3 410.0C1058.6 408.6 1067.2 405.8 1070.0 405.0M1055.0 395.0C1057.1 394.7 1063.3 394.6 1067.5 393.3C1071.7 392.1 1076.2 389.7 1080.0 387.5C1083.8 385.3 1088.3 381.2 1090.0 380.0M1071.7 406.7C1072.8 407.1 1076.1 409.2 1078.3 409.2C1080.6 409.2 1083.3 408.2 1085.0 406.7C1086.7 405.1 1087.8 401.1 1088.3 400.0M1073.3 410.0C1074.4 410.4 1077.5 412.6 1080.0 412.5C1082.5 412.4 1086.9 409.7 1088.3 409.2M991.7 400.0C991.8 400.6 991.8 402.7 992.5 403.3C993.2 404.0 995.3 403.7 995.8 403.8M1000.8 412.5C1001.0 413.0 1001.0 414.9 1001.7 415.4C1002.4 415.9 1004.4 415.4 1005.0 415.4M1010.8 422.5C1011.0 423.1 1011.4 425.3 1012.1 425.8C1012.8 426.4 1014.5 425.8 1015.0 425.8M969.2 416.7L973.3 414.2L976.7 420.0L972.5 422.5ZM975.0 431.7L981.7 428.3L984.2 432.5L977.5 435.8ZM983.3 439.2L990.0 435.8L992.5 440.0L985.8 443.3ZM988.3 445.8L994.2 443.3L995.8 448.3L990.0 450.0ZM978.3 406.7L983.3 403.3L990.0 413.3L985.0 416.7ZM985.0 420.0L990.8 417.5L995.8 423.3L990.0 426.7ZM996.7 430.8C997.4 432.2 998.8 437.1 1000.8 439.2C1002.9 441.2 1006.8 442.9 1009.2 443.3C1011.5 443.8 1014.0 441.9 1015.0 441.7M1003.3 435.0C1004.4 435.4 1007.8 437.2 1010.0 437.5C1012.2 437.8 1015.6 436.8 1016.7 436.7M1021.7 410.0C1022.8 411.4 1026.5 414.9 1028.3 418.3C1030.1 421.8 1031.4 426.7 1032.5 430.8C1033.6 435.0 1034.4 440.1 1035.0 443.3C1035.6 446.5 1035.7 448.9 1035.8 450.0M1025.8 411.7C1026.8 413.1 1030.0 416.7 1031.7 420.0C1033.3 423.3 1034.7 426.7 1035.8 431.7C1036.9 436.7 1037.9 446.9 1038.3 450.0M1020.0 420.0C1020.8 421.4 1023.6 425.1 1025.0 428.3C1026.4 431.5 1027.5 435.6 1028.3 439.2C1029.2 442.8 1029.7 448.2 1030.0 450.0M1032.5 411.7C1033.5 412.8 1036.8 415.8 1038.3 418.3C1039.9 420.8 1040.7 423.9 1041.7 426.7C1042.6 429.4 1043.5 431.1 1044.2 435.0C1044.9 438.9 1045.6 447.5 1045.8 450.0M1038.3 413.3C1039.7 414.4 1043.6 417.8 1046.7 420.0C1049.7 422.2 1053.3 424.2 1056.7 426.7C1060.0 429.2 1062.8 432.2 1066.7 435.0C1070.6 437.8 1076.1 441.4 1080.0 443.3C1083.9 445.3 1088.3 446.1 1090.0 446.7M1045.0 433.3C1046.7 433.9 1050.6 435.0 1055.0 436.7C1059.4 438.3 1066.1 441.1 1071.7 443.3C1077.2 445.6 1085.6 448.9 1088.3 450.0M1046.7 439.2C1048.8 439.9 1055.0 441.8 1059.2 443.3C1063.3 444.9 1068.8 447.2 1071.7 448.3C1074.6 449.4 1075.8 449.7 1076.7 450.0M1069.2 406.7L1071.7 420.0L1067.5 435.0"/>
<path fill="none" stroke="#1c1c1c" stroke-width="4" d="M955.0 450.0C953.9 446.8 950.0 436.8 948.3 430.8C946.7 424.9 945.6 419.9 945.0 414.2C944.4 408.5 944.2 401.5 944.6 396.7C945.0 391.8 945.6 388.3 947.5 385.0C949.4 381.7 952.5 379.0 955.8 376.7C959.2 374.3 965.6 371.8 967.5 370.8M1029.2 387.5L1032.5 411.7M1043.3 360.0C1043.6 361.1 1044.2 364.9 1045.0 366.7C1045.8 368.5 1047.8 370.1 1048.3 370.8M1079.2 400.0C1079.2 400.1 1079.2 400.2 1079.1 400.3C1079.1 400.5 1079.1 400.6 1079.1 400.7C1079.1 400.8 1079.0 400.9 1079.0 401.0C1079.0 401.1 1078.9 401.2 1078.9 401.4C1078.8 401.5 1078.8 401.6 1078.7 401.7C1078.7 401.8 1078.6 401.9 1078.5 402.0C1078.5 402.1 1078.4 402.1 1078.3 402.2C1078.2 402.3 1078.2 402.4 1078.1 402.5C1078.0 402.6 1077.9 402.6 1077.8 402.7C1077.7 402.8 1077.6 402.8 1077.5 402.9C1077.4 402.9 1077.3 403.0 1077.2 403.0C1077.1 403.1 1077.0 403.1 1076.9 403.2C1076.8 403.2 1076.6 403.2 1076.5 403.3C1076.4 403.3 1076.3 403.3 1076.2 403.3C1076.1 403.3 1075.9 403.3 1075.8 403.3C1075.7 403.3 1075.6 403.3 1075.5 403.3C1075.4 403.3 1075.3 403.3 1075.1 403.3C1075.0 403.2 1074.9 403.2 1074.8 403.2C1074.7 403.1 1074.6 403.1 1074.5 403.0C1074.4 403.0 1074.3 402.9 1074.2 402.9C1074.1 402.8 1074.0 402.8 1073.9 402.7C1073.8 402.6 1073.7 402.6 1073.6 402.5C1073.5 402.4 1073.4 402.3 1073.4 402.2C1073.3 402.1 1073.2 402.1 1073.1 402.0C1073.1 401.9 1073.0 401.8 1072.9 401.7C1072.9 401.6 1072.8 401.5 1072.8 401.4C1072.7 401.2 1072.7 401.1 1072.7 401.0C1072.6 400.9 1072.6 400.8 1072.6 400.7C1072.5 400.6 1072.5 400.5 1072.5 400.3C1072.5 400.2 1072.5 400.1 1072.5 400.0C1072.5 399.9 1072.5 399.8 1072.5 399.7C1072.5 399.5 1072.5 399.4 1072.6 399.3C1072.6 399.2 1072.6 399.1 1072.7 399.0C1072.7 398.9 1072.7 398.8 1072.8 398.6C1072.8 398.5 1072.9 398.4 1072.9 398.3C1073.0 398.2 1073.1 398.1 1073.1 398.0C1073.2 397.9 1073.3 397.9 1073.4 397.8C1073.4 397.7 1073.5 397.6 1073.6 397.5C1073.7 397.4 1073.8 397.4 1073.9 397.3C1074.0 397.2 1074.1 397.2 1074.2 397.1C1074.3 397.1 1074.4 397.0 1074.5 397.0C1074.6 396.9 1074.7 396.9 1074.8 396.8C1074.9 396.8 1075.0 396.8 1075.1 396.7C1075.3 396.7 1075.4 396.7 1075.5 396.7C1075.6 396.7 1075.7 396.7 1075.8 396.7C1075.9 396.7 1076.1 396.7 1076.2 396.7C1076.3 396.7 1076.4 396.7 1076.5 396.7C1076.6 396.8 1076.8 396.8 1076.9 396.8C1077.0 396.9 1077.1 396.9 1077.2 397.0C1077.3 397.0 1077.4 397.1 1077.5 397.1C1077.6 397.2 1077.7 397.2 1077.8 397.3C1077.9 397.4 1078.0 397.4 1078.1 397.5C1078.2 397.6 1078.2 397.7 1078.3 397.8C1078.4 397.9 1078.5 397.9 1078.5 398.0C1078.6 398.1 1078.7 398.2 1078.7 398.3C1078.8 398.4 1078.8 398.5 1078.9 398.6C1078.9 398.8 1079.0 398.9 1079.0 399.0C1079.0 399.1 1079.1 399.2 1079.1 399.3C1079.1 399.4 1079.1 399.5 1079.1 399.7C1079.2 399.8 1079.2 399.9 1079.2 400.0ZM988.3 399.2C988.3 400.1 987.5 403.8 988.3 405.0C989.2 406.2 991.8 406.8 993.3 406.7C994.9 406.5 996.8 404.6 997.5 404.2M997.5 411.7C997.6 412.6 997.4 416.4 998.3 417.5C999.3 418.6 1001.9 418.6 1003.3 418.3C1004.7 418.1 1006.1 416.2 1006.7 415.8M1008.3 421.7C1008.5 422.6 1008.3 426.2 1009.2 427.5C1010.0 428.8 1012.1 429.3 1013.3 429.2C1014.6 429.0 1016.1 427.1 1016.7 426.7"/>
<path fill="none" stroke="#1c1c1c" stroke-width="7" d="M1050.0 380.8L1058.3 384.2"/>
<path fill="none" stroke="#1c1c1c" stroke-width="6" d="M1041.7 370.8L1055.0 365.0M973.3 410.0L980.0 405.0"/>
<path fill="none" stroke="#1c1c1c" stroke-width="2" d="M1000.0 402.5L1028.3 394.2M1003.3 407.5L1028.3 400.0"/>
<path fill="none" stroke="#1c1c1c" stroke-width="5" d="M1009.2 399.2L1012.5 398.3M1018.3 396.7L1021.7 395.8M1025.0 395.0L1027.5 394.3M966.7 413.3L970.0 410.0M976.7 425.8L983.3 423.3M988.3 432.5L993.3 430.8"/>
<path fill="#1c1c1c" stroke="#1c1c1c" stroke-width="2.6" d="M938.3 450.0L943.3 443.3L955.0 440.0L965.0 441.7L968.3 450.0Z"/>
</g>
<g>
<path fill="none" stroke="#1c1c1c" stroke-width="3.2" d="M1341.0 426.1C1340.8 426.4 1340.6 426.7 1340.3 427.0C1340.0 427.3 1339.8 427.5 1339.5 427.8C1339.2 428.0 1338.8 428.3 1338.5 428.5C1338.1 428.7 1337.8 428.9 1337.4 429.0C1337.0 429.2 1336.6 429.3 1336.2 429.5C1335.8 429.6 1335.4 429.7 1335.0 429.8C1334.6 429.8 1334.1 429.9 1333.7 429.9C1333.2 430.0 1332.7 430.0 1332.3 430.0C1331.8 429.9 1331.3 429.9 1330.9 429.8C1330.4 429.8 1329.9 429.7 1329.4 429.6C1328.9 429.5 1328.5 429.4 1328.0 429.2C1327.5 429.1 1327.0 428.9 1326.5 428.7C1326.1 428.5 1325.6 428.3 1325.1 428.1C1324.7 427.9 1324.2 427.6 1323.8 427.4C1323.3 427.1 1322.9 426.8 1322.4 426.5C1322.0 426.2 1321.6 425.9 1321.2 425.6C1320.8 425.2 1320.4 424.9 1320.0 424.5C1319.7 424.2 1319.3 423.8 1319.0 423.4C1318.6 423.0 1318.3 422.6 1318.0 422.2C1317.7 421.8 1317.4 421.4 1317.1 421.0C1316.9 420.6 1316.6 420.2 1316.4 419.7C1316.2 419.3 1316.0 418.9 1315.8 418.4C1315.7 418.0 1315.5 417.6 1315.4 417.1C1315.3 416.7 1315.2 416.3 1315.1 415.8C1315.0 415.4 1315.0 415.0 1315.0 414.6C1314.9 414.1 1314.9 413.7 1315.0 413.3C1315.0 412.9 1315.0 412.5 1315.1 412.1C1315.2 411.7 1315.3 411.3 1315.4 411.0C1315.5 410.6 1315.7 410.2 1315.9 409.9C1316.0 409.5 1316.2 409.2 1316.5 408.9C1316.7 408.6 1316.9 408.3 1317.2 408.0C1317.5 407.7 1317.7 407.5 1318.0 407.2C1318.3 407.0 1318.7 406.7 1319.0 406.5C1319.4 406.3 1319.7 406.1 1320.1 406.0C1320.5 405.8 1320.9 405.7 1321.3 405.5C1321.7 405.4 1322.1 405.3 1322.5 405.2C1322.9 405.2 1323.4 405.1 1323.8 405.1C1324.3 405.0 1324.8 405.0 1325.2 405.0C1325.7 405.1 1326.2 405.1 1326.6 405.2C1327.1 405.2 1327.6 405.3 1328.1 405.4C1328.6 405.5 1329.0 405.6 1329.5 405.8C1330.0 405.9 1330.5 406.1 1331.0 406.3C1331.4 406.5 1331.9 406.7 1332.4 406.9C1332.8 407.1 1333.3 407.4 1333.7 407.6C1334.2 407.9 1334.6 408.2 1335.1 408.5C1335.5 408.8 1335.9 409.1 1336.3 409.4C1336.7 409.8 1337.1 410.1 1337.5 410.5C1337.8 410.8 1338.2 411.2 1338.5 411.6C1338.9 412.0 1339.2 412.4 1339.5 412.8C1339.8 413.2 1340.1 413.6 1340.4 414.0C1340.6 414.4 1340.9 414.8 1341.1 415.3C1341.3 415.7 1341.5 416.1 1341.7 416.6C1341.8 417.0 1342.0 417.4 1342.1 417.9C1342.2 418.3 1342.3 418.7 1342.4 419.2C1342.5 419.6 1342.5 420.0 1342.5 420.4C1342.6 420.9 1342.6 421.3 1342.5 421.7C1342.5 422.1 1342.5 422.5 1342.4 422.9C1342.3 423.3 1342.2 423.7 1342.1 424.0C1342.0 424.4 1341.8 424.8 1341.6 425.1C1341.5 425.5 1341.3 425.8 1341.0 426.1Z"/>
<path fill="none" stroke="#1c1c1c" stroke-width="1.5" d="M1338.6 424.4C1338.4 424.6 1338.2 424.9 1338.0 425.1C1337.8 425.3 1337.6 425.5 1337.4 425.7C1337.1 425.9 1336.9 426.0 1336.6 426.2C1336.3 426.4 1336.0 426.5 1335.7 426.6C1335.5 426.7 1335.1 426.9 1334.8 426.9C1334.5 427.0 1334.2 427.1 1333.8 427.2C1333.5 427.2 1333.1 427.3 1332.8 427.3C1332.4 427.3 1332.1 427.3 1331.7 427.3C1331.3 427.3 1331.0 427.2 1330.6 427.2C1330.2 427.1 1329.8 427.1 1329.4 427.0C1329.1 426.9 1328.7 426.8 1328.3 426.7C1327.9 426.5 1327.5 426.4 1327.2 426.2C1326.8 426.1 1326.4 425.9 1326.0 425.7C1325.7 425.6 1325.3 425.4 1324.9 425.1C1324.6 424.9 1324.2 424.7 1323.9 424.5C1323.5 424.2 1323.2 424.0 1322.9 423.7C1322.6 423.4 1322.2 423.2 1321.9 422.9C1321.6 422.6 1321.3 422.3 1321.1 422.0C1320.8 421.7 1320.5 421.4 1320.3 421.1C1320.1 420.7 1319.8 420.4 1319.6 420.1C1319.4 419.8 1319.2 419.4 1319.0 419.1C1318.9 418.8 1318.7 418.4 1318.5 418.1C1318.4 417.7 1318.3 417.4 1318.2 417.0C1318.1 416.7 1318.0 416.4 1317.9 416.0C1317.9 415.7 1317.8 415.4 1317.8 415.0C1317.8 414.7 1317.8 414.4 1317.8 414.0C1317.8 413.7 1317.8 413.4 1317.9 413.1C1318.0 412.8 1318.0 412.5 1318.1 412.2C1318.2 411.9 1318.3 411.6 1318.5 411.4C1318.6 411.1 1318.8 410.9 1318.9 410.6C1319.1 410.4 1319.3 410.1 1319.5 409.9C1319.7 409.7 1319.9 409.5 1320.1 409.3C1320.4 409.1 1320.6 409.0 1320.9 408.8C1321.2 408.6 1321.5 408.5 1321.8 408.4C1322.0 408.3 1322.4 408.1 1322.7 408.1C1323.0 408.0 1323.3 407.9 1323.7 407.8C1324.0 407.8 1324.4 407.7 1324.7 407.7C1325.1 407.7 1325.4 407.7 1325.8 407.7C1326.2 407.7 1326.5 407.8 1326.9 407.8C1327.3 407.9 1327.7 407.9 1328.1 408.0C1328.4 408.1 1328.8 408.2 1329.2 408.3C1329.6 408.5 1330.0 408.6 1330.3 408.8C1330.7 408.9 1331.1 409.1 1331.5 409.3C1331.8 409.4 1332.2 409.6 1332.6 409.9C1332.9 410.1 1333.3 410.3 1333.6 410.5C1334.0 410.8 1334.3 411.0 1334.6 411.3C1334.9 411.6 1335.3 411.8 1335.6 412.1C1335.9 412.4 1336.2 412.7 1336.4 413.0C1336.7 413.3 1337.0 413.6 1337.2 413.9C1337.4 414.3 1337.7 414.6 1337.9 414.9C1338.1 415.2 1338.3 415.6 1338.5 415.9C1338.6 416.2 1338.8 416.6 1339.0 416.9C1339.1 417.3 1339.2 417.6 1339.3 418.0C1339.4 418.3 1339.5 418.6 1339.6 419.0C1339.6 419.3 1339.7 419.6 1339.7 420.0C1339.7 420.3 1339.7 420.6 1339.7 421.0C1339.7 421.3 1339.7 421.6 1339.6 421.9C1339.5 422.2 1339.5 422.5 1339.4 422.8C1339.3 423.1 1339.2 423.4 1339.0 423.6C1338.9 423.9 1338.7 424.1 1338.6 424.4Z"/>
<path fill="none" stroke="#1c1c1c" stroke-width="2.6" d="M1372.7 439.0C1372.5 439.2 1372.4 439.5 1372.2 439.7C1372.0 439.9 1371.8 440.1 1371.6 440.3C1371.4 440.5 1371.2 440.7 1371.0 440.9C1370.8 441.1 1370.5 441.2 1370.3 441.4C1370.0 441.5 1369.8 441.7 1369.5 441.8C1369.2 441.9 1368.9 442.0 1368.7 442.1C1368.4 442.2 1368.1 442.3 1367.8 442.4C1367.5 442.4 1367.1 442.5 1366.8 442.5C1366.5 442.5 1366.2 442.5 1365.9 442.5C1365.5 442.5 1365.2 442.5 1364.9 442.5C1364.5 442.5 1364.2 442.4 1363.9 442.4C1363.5 442.3 1363.2 442.2 1362.9 442.1C1362.5 442.0 1362.2 441.9 1361.9 441.8C1361.6 441.7 1361.2 441.6 1360.9 441.4C1360.6 441.3 1360.3 441.1 1360.0 440.9C1359.7 440.8 1359.4 440.6 1359.1 440.4C1358.8 440.2 1358.6 440.0 1358.3 439.7C1358.0 439.5 1357.8 439.3 1357.5 439.0C1357.3 438.8 1357.0 438.6 1356.8 438.3C1356.6 438.0 1356.4 437.8 1356.2 437.5C1356.0 437.2 1355.8 436.9 1355.7 436.7C1355.5 436.4 1355.4 436.1 1355.2 435.8C1355.1 435.5 1355.0 435.2 1354.9 434.9C1354.8 434.6 1354.7 434.3 1354.6 434.0C1354.6 433.7 1354.5 433.4 1354.5 433.1C1354.5 432.8 1354.5 432.5 1354.5 432.3C1354.5 432.0 1354.5 431.7 1354.5 431.4C1354.6 431.1 1354.6 430.8 1354.7 430.5C1354.8 430.3 1354.9 430.0 1355.0 429.8C1355.1 429.5 1355.2 429.2 1355.3 429.0C1355.5 428.8 1355.6 428.5 1355.8 428.3C1356.0 428.1 1356.2 427.9 1356.4 427.7C1356.6 427.5 1356.8 427.3 1357.0 427.1C1357.2 426.9 1357.5 426.8 1357.7 426.6C1358.0 426.5 1358.2 426.3 1358.5 426.2C1358.8 426.1 1359.1 426.0 1359.3 425.9C1359.6 425.8 1359.9 425.7 1360.2 425.6C1360.5 425.6 1360.9 425.5 1361.2 425.5C1361.5 425.5 1361.8 425.5 1362.1 425.5C1362.5 425.5 1362.8 425.5 1363.1 425.5C1363.5 425.5 1363.8 425.6 1364.1 425.6C1364.5 425.7 1364.8 425.8 1365.1 425.9C1365.5 426.0 1365.8 426.1 1366.1 426.2C1366.4 426.3 1366.8 426.4 1367.1 426.6C1367.4 426.7 1367.7 426.9 1368.0 427.1C1368.3 427.2 1368.6 427.4 1368.9 427.6C1369.2 427.8 1369.4 428.0 1369.7 428.3C1370.0 428.5 1370.2 428.7 1370.5 429.0C1370.7 429.2 1371.0 429.4 1371.2 429.7C1371.4 430.0 1371.6 430.2 1371.8 430.5C1372.0 430.8 1372.2 431.1 1372.3 431.3C1372.5 431.6 1372.6 431.9 1372.8 432.2C1372.9 432.5 1373.0 432.8 1373.1 433.1C1373.2 433.4 1373.3 433.7 1373.4 434.0C1373.4 434.3 1373.5 434.6 1373.5 434.9C1373.5 435.2 1373.5 435.5 1373.5 435.7C1373.5 436.0 1373.5 436.3 1373.5 436.6C1373.4 436.9 1373.4 437.2 1373.3 437.5C1373.2 437.7 1373.1 438.0 1373.0 438.2C1372.9 438.5 1372.8 438.8 1372.7 439.0Z"/>
</g>
<g>
<path fill="none" stroke="#1c1c1c" stroke-width="2.6" d="M1112.0 211.0C1113.1 211.7 1116.6 212.9 1118.8 215.0C1120.9 217.1 1124.8 220.2 1125.0 223.8C1125.2 227.2 1122.5 231.0 1120.0 236.0C1117.5 241.0 1111.7 250.8 1110.0 253.8M1106.0 213.0C1107.1 213.8 1110.6 215.5 1112.5 217.5C1114.4 219.5 1117.3 222.1 1117.5 225.0C1117.7 227.9 1116.0 230.4 1113.8 235.0C1111.5 239.6 1105.4 249.6 1103.8 252.5M1060.0 150.0L1071.0 141.0M1065.0 151.0L1074.0 144.0"/>
</g>
<g clip-path="url(#c29)">
<path fill="none" stroke="#1c1c1c" stroke-width="2.6" d="M1131.7 360.0C1131.9 363.3 1133.9 373.6 1133.3 380.0C1132.8 386.4 1130.0 393.3 1128.3 398.3C1126.7 403.3 1124.2 408.1 1123.3 410.0M1150.0 360.0C1149.7 362.8 1149.2 371.1 1148.3 376.7C1147.5 382.2 1146.4 388.1 1145.0 393.3C1143.6 398.6 1141.7 404.7 1140.0 408.3C1138.3 411.9 1135.8 413.9 1135.0 415.0M1123.3 410.0C1124.4 410.8 1127.2 414.2 1130.0 415.0C1132.8 415.8 1138.3 415.0 1140.0 415.0M1106.7 400.0C1108.9 399.7 1116.4 397.2 1120.0 398.3C1123.6 399.4 1126.1 402.5 1128.3 406.7C1130.6 410.8 1131.4 418.1 1133.3 423.3C1135.3 428.6 1136.9 433.9 1140.0 438.3C1143.1 442.8 1149.7 448.1 1151.7 450.0M1100.0 415.0C1101.7 416.9 1106.9 422.5 1110.0 426.7C1113.1 430.8 1115.0 435.6 1118.3 440.0C1121.7 444.4 1126.4 450.0 1130.0 453.3C1133.6 456.7 1138.3 458.9 1140.0 460.0M1090.0 388.3C1091.7 388.9 1097.2 389.7 1100.0 391.7C1102.8 393.6 1106.7 397.2 1106.7 400.0C1106.7 402.8 1101.1 405.8 1100.0 408.3C1098.9 410.8 1100.0 413.9 1100.0 415.0M1098.3 376.7L1106.7 398.3M1090.0 366.7C1091.1 367.2 1094.4 368.1 1096.7 370.0C1098.9 371.9 1102.2 376.9 1103.3 378.3M1151.7 370.0C1153.1 371.7 1158.1 376.1 1160.0 380.0C1161.9 383.9 1163.3 388.9 1163.3 393.3C1163.3 397.8 1161.7 402.5 1160.0 406.7C1158.3 410.8 1154.7 414.2 1153.3 418.3C1151.9 422.5 1151.7 427.5 1151.7 431.7C1151.7 435.8 1153.1 441.4 1153.3 443.3M1156.7 360.0C1158.6 362.2 1165.6 368.3 1168.3 373.3C1171.1 378.3 1173.1 384.7 1173.3 390.0C1173.6 395.3 1170.6 402.5 1170.0 405.0M1146.7 388.3C1147.2 389.7 1149.7 393.6 1150.0 396.7C1150.3 399.7 1150.3 403.3 1148.3 406.7C1146.4 410.0 1140.6 413.3 1138.3 416.7C1136.1 420.0 1134.7 422.8 1135.0 426.7C1135.3 430.6 1137.5 436.4 1140.0 440.0C1142.5 443.6 1148.3 446.9 1150.0 448.3M1160.0 406.7C1159.4 408.9 1156.9 415.6 1156.7 420.0C1156.4 424.4 1157.2 429.4 1158.3 433.3C1159.4 437.2 1162.5 441.7 1163.3 443.3M1168.3 405.0L1176.7 393.3L1190.0 360.0M1180.0 391.7C1181.7 391.9 1186.9 394.4 1190.0 393.3C1193.1 392.2 1195.8 388.9 1198.3 385.0C1200.8 381.1 1203.9 372.5 1205.0 370.0M1221.7 360.0C1220.8 361.7 1219.2 367.5 1216.7 370.0C1214.2 372.5 1210.0 372.5 1206.7 375.0C1203.3 377.5 1199.2 380.8 1196.7 385.0C1194.2 389.2 1192.2 394.7 1191.7 400.0C1191.1 405.3 1192.2 411.4 1193.3 416.7C1194.4 421.9 1196.7 427.2 1198.3 431.7C1200.0 436.1 1202.5 441.4 1203.3 443.3M1226.7 363.3C1225.6 365.3 1222.8 372.2 1220.0 375.0C1217.2 377.8 1213.1 377.8 1210.0 380.0C1206.9 382.2 1203.9 384.7 1201.7 388.3C1199.4 391.9 1197.2 396.9 1196.7 401.7C1196.1 406.4 1197.2 411.7 1198.3 416.7C1199.4 421.7 1201.7 427.2 1203.3 431.7C1205.0 436.1 1207.5 441.4 1208.3 443.3M1236.7 363.3C1234.4 365.0 1227.2 369.4 1223.3 373.3C1219.4 377.2 1215.8 380.6 1213.3 386.7C1210.8 392.8 1209.4 402.8 1208.3 410.0C1207.2 417.2 1207.2 424.4 1206.7 430.0C1206.1 435.6 1205.3 441.1 1205.0 443.3M1240.0 365.0C1237.8 366.7 1230.6 371.1 1226.7 375.0C1222.8 378.9 1219.2 382.5 1216.7 388.3C1214.2 394.2 1212.9 403.1 1211.7 410.0C1210.4 416.9 1209.9 424.4 1209.2 430.0C1208.5 435.6 1207.8 441.1 1207.5 443.3M1243.3 366.7C1241.1 368.3 1233.9 372.8 1230.0 376.7C1226.1 380.6 1222.6 384.4 1220.0 390.0C1217.4 395.6 1215.6 403.3 1214.2 410.0C1212.8 416.7 1212.4 424.4 1211.7 430.0C1211.0 435.6 1210.3 441.1 1210.0 443.3M1246.7 368.3C1244.4 370.0 1237.2 374.4 1233.3 378.3C1229.4 382.2 1226.1 386.4 1223.3 391.7C1220.6 396.9 1218.2 403.6 1216.7 410.0C1215.1 416.4 1214.9 424.7 1214.2 430.0C1213.5 435.3 1212.8 439.7 1212.5 441.7"/>
</g>
</g>

<filter id="tf" x="-5%" y="-5%" width="110%" height="110%"><feOffset dx="0" dy="0"/></filter>
<g font-size="38.4" filter="url(#tf)">
<text x="895" y="33.3" textLength="35.4" lengthAdjust="spacingAndGlyphs">10</text>
<text x="479" y="469" textLength="35.4" lengthAdjust="spacingAndGlyphs">20</text>
<text x="1102" y="540" textLength="35.4" lengthAdjust="spacingAndGlyphs">50</text>
<text x="1077" y="610.6" textLength="35.4" lengthAdjust="spacingAndGlyphs">70</text>
<text x="1004" y="663" textLength="35.4" lengthAdjust="spacingAndGlyphs">36</text>
<text x="902" y="712.5" textLength="35.4" lengthAdjust="spacingAndGlyphs">37</text>
</g>
<text filter="url(#tf)" x="889" y="1064" font-size="52" font-weight="bold" textLength="135" lengthAdjust="spacingAndGlyphs">Fig. 10</text>

</svg>
</body></html>
